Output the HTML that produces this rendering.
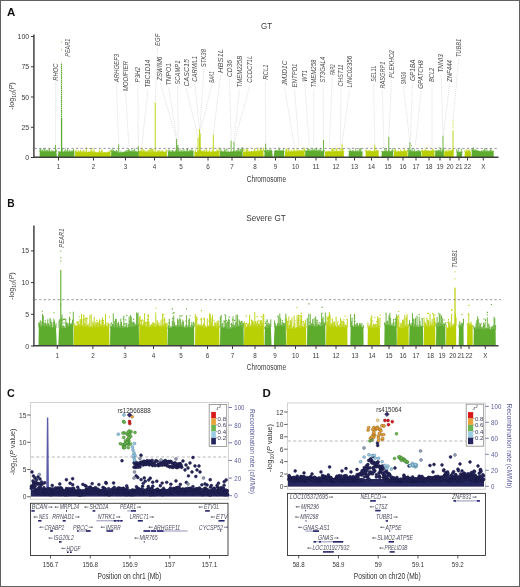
<!DOCTYPE html>
<html><head><meta charset="utf-8"><style>
html,body{margin:0;padding:0;background:#fff;}
body{width:520px;height:587px;overflow:hidden;position:relative;font-family:"Liberation Sans",sans-serif;}
.frame{position:absolute;left:0;top:0;width:518px;height:585px;border:1px solid #606060;pointer-events:none;}
svg{position:absolute;left:0;top:0;display:block;will-change:transform;}
</style></head><body>
<svg width="520" height="587" viewBox="0 0 520 587" font-family='"Liberation Sans", sans-serif'>
<rect x="0" y="0" width="520" height="587" fill="#fff"/>
<text x="6.9" y="16.3" font-size="11.5" fill="#111" font-weight="bold" textLength="8.3" lengthAdjust="spacingAndGlyphs">A</text>
<text x="266.6" y="29" font-size="9" fill="#3a3a3a" text-anchor="middle" textLength="11" lengthAdjust="spacingAndGlyphs">GT</text>
<line x1="55.4" y1="82.8" x2="55.6" y2="144.6" stroke="#c4c4c4" stroke-width="0.55" stroke-dasharray="1 1"/>
<line x1="116.5" y1="84.3" x2="118.7" y2="144" stroke="#c4c4c4" stroke-width="0.55" stroke-dasharray="1 1"/>
<line x1="125.6" y1="93.3" x2="129" y2="147" stroke="#c4c4c4" stroke-width="0.55" stroke-dasharray="1 1"/>
<line x1="137.8" y1="84.5" x2="138.3" y2="146" stroke="#c4c4c4" stroke-width="0.55" stroke-dasharray="1 1"/>
<line x1="148" y1="89.5" x2="141.6" y2="148" stroke="#c4c4c4" stroke-width="0.55" stroke-dasharray="1 1"/>
<line x1="157.5" y1="48" x2="155.2" y2="102" stroke="#c4c4c4" stroke-width="0.55" stroke-dasharray="1 1"/>
<line x1="160.3" y1="82.8" x2="176.4" y2="139" stroke="#c4c4c4" stroke-width="0.55" stroke-dasharray="1 1"/>
<line x1="168.8" y1="87.6" x2="177.8" y2="144.6" stroke="#c4c4c4" stroke-width="0.55" stroke-dasharray="1 1"/>
<line x1="177.5" y1="86.6" x2="178.3" y2="141" stroke="#c4c4c4" stroke-width="0.55" stroke-dasharray="1 1"/>
<line x1="186.3" y1="88.5" x2="198" y2="137.4" stroke="#c4c4c4" stroke-width="0.55" stroke-dasharray="1 1"/>
<line x1="194.8" y1="83.7" x2="199.4" y2="128.7" stroke="#c4c4c4" stroke-width="0.55" stroke-dasharray="1 1"/>
<line x1="203.8" y1="69.3" x2="200" y2="129" stroke="#c4c4c4" stroke-width="0.55" stroke-dasharray="1 1"/>
<line x1="211.9" y1="84.7" x2="199.8" y2="133" stroke="#c4c4c4" stroke-width="0.55" stroke-dasharray="1 1"/>
<line x1="220.6" y1="75" x2="213.3" y2="134.5" stroke="#c4c4c4" stroke-width="0.55" stroke-dasharray="1 1"/>
<line x1="229.5" y1="79" x2="231.1" y2="140.3" stroke="#c4c4c4" stroke-width="0.55" stroke-dasharray="1 1"/>
<line x1="239.4" y1="89.5" x2="234" y2="141.7" stroke="#c4c4c4" stroke-width="0.55" stroke-dasharray="1 1"/>
<line x1="250" y1="84.7" x2="234.5" y2="142" stroke="#c4c4c4" stroke-width="0.55" stroke-dasharray="1 1"/>
<line x1="265.4" y1="81.8" x2="265.7" y2="143.5" stroke="#c4c4c4" stroke-width="0.55" stroke-dasharray="1 1"/>
<line x1="284.6" y1="87.6" x2="294.3" y2="146" stroke="#c4c4c4" stroke-width="0.55" stroke-dasharray="1 1"/>
<line x1="294.6" y1="89.5" x2="298.9" y2="146" stroke="#c4c4c4" stroke-width="0.55" stroke-dasharray="1 1"/>
<line x1="304.8" y1="83.7" x2="309.3" y2="146" stroke="#c4c4c4" stroke-width="0.55" stroke-dasharray="1 1"/>
<line x1="313.8" y1="89.5" x2="313.7" y2="146" stroke="#c4c4c4" stroke-width="0.55" stroke-dasharray="1 1"/>
<line x1="323.2" y1="84.7" x2="323.4" y2="140" stroke="#c4c4c4" stroke-width="0.55" stroke-dasharray="1 1"/>
<line x1="332.3" y1="77" x2="329.3" y2="146" stroke="#c4c4c4" stroke-width="0.55" stroke-dasharray="1 1"/>
<line x1="341" y1="88.5" x2="340.4" y2="146" stroke="#c4c4c4" stroke-width="0.55" stroke-dasharray="1 1"/>
<line x1="349.6" y1="89.5" x2="342" y2="144" stroke="#c4c4c4" stroke-width="0.55" stroke-dasharray="1 1"/>
<line x1="373.7" y1="83.7" x2="374.8" y2="144.7" stroke="#c4c4c4" stroke-width="0.55" stroke-dasharray="1 1"/>
<line x1="382.3" y1="90.5" x2="384" y2="146" stroke="#c4c4c4" stroke-width="0.55" stroke-dasharray="1 1"/>
<line x1="391.5" y1="79.9" x2="388.8" y2="136.6" stroke="#c4c4c4" stroke-width="0.55" stroke-dasharray="1 1"/>
<line x1="403.5" y1="86.6" x2="409.9" y2="142" stroke="#c4c4c4" stroke-width="0.55" stroke-dasharray="1 1"/>
<line x1="412.5" y1="83" x2="410.3" y2="144" stroke="#c4c4c4" stroke-width="0.55" stroke-dasharray="1 1"/>
<line x1="421.3" y1="90.8" x2="415.3" y2="146" stroke="#c4c4c4" stroke-width="0.55" stroke-dasharray="1 1"/>
<line x1="432" y1="84.1" x2="432.1" y2="146" stroke="#c4c4c4" stroke-width="0.55" stroke-dasharray="1 1"/>
<line x1="441.2" y1="74.5" x2="443" y2="135.3" stroke="#c4c4c4" stroke-width="0.55" stroke-dasharray="1 1"/>
<line x1="449.6" y1="84.1" x2="443.3" y2="136" stroke="#c4c4c4" stroke-width="0.55" stroke-dasharray="1 1"/>
<line x1="458.8" y1="59.1" x2="453" y2="120.4" stroke="#c4c4c4" stroke-width="0.55" stroke-dasharray="1 1"/>
<text x="57.6" y="80.8" font-size="6.4" fill="#4a4a4a" font-style="italic" textLength="17.3" lengthAdjust="spacingAndGlyphs" transform="rotate(-90 57.6 80.8)">RHOC</text>
<text x="69.7" y="56.7" font-size="6.4" fill="#4a4a4a" font-style="italic" textLength="17.9" lengthAdjust="spacingAndGlyphs" transform="rotate(-90 69.7 56.7)">PEAR1</text>
<text x="118.7" y="82.3" font-size="6.4" fill="#4a4a4a" font-style="italic" textLength="28.5" lengthAdjust="spacingAndGlyphs" transform="rotate(-90 118.7 82.3)">ARHGEF3</text>
<text x="127.8" y="91.3" font-size="6.4" fill="#4a4a4a" font-style="italic" textLength="30.3" lengthAdjust="spacingAndGlyphs" transform="rotate(-90 127.8 91.3)">MODIFIER</text>
<text x="140" y="82.5" font-size="6.4" fill="#4a4a4a" font-style="italic" textLength="15.5" lengthAdjust="spacingAndGlyphs" transform="rotate(-90 140 82.5)">P3H2</text>
<text x="150.2" y="87.5" font-size="6.4" fill="#4a4a4a" font-style="italic" textLength="27.9" lengthAdjust="spacingAndGlyphs" transform="rotate(-90 150.2 87.5)">TBC1D14</text>
<text x="159.7" y="46" font-size="6.4" fill="#4a4a4a" font-style="italic" textLength="12.3" lengthAdjust="spacingAndGlyphs" transform="rotate(-90 159.7 46)">EGF</text>
<text x="162.5" y="80.8" font-size="6.4" fill="#4a4a4a" font-style="italic" textLength="24.1" lengthAdjust="spacingAndGlyphs" transform="rotate(-90 162.5 80.8)">ZSWIM6</text>
<text x="171" y="85.6" font-size="6.4" fill="#4a4a4a" font-style="italic" textLength="22.6" lengthAdjust="spacingAndGlyphs" transform="rotate(-90 171 85.6)">TNPO1</text>
<text x="179.7" y="84.6" font-size="6.4" fill="#4a4a4a" font-style="italic" textLength="24" lengthAdjust="spacingAndGlyphs" transform="rotate(-90 179.7 84.6)">SCAMP1</text>
<text x="188.5" y="86.5" font-size="6.4" fill="#4a4a4a" font-style="italic" textLength="27.3" lengthAdjust="spacingAndGlyphs" transform="rotate(-90 188.5 86.5)">CASC15</text>
<text x="197" y="81.7" font-size="6.4" fill="#4a4a4a" font-style="italic" textLength="25.9" lengthAdjust="spacingAndGlyphs" transform="rotate(-90 197 81.7)">CARMIL1</text>
<text x="206" y="67.3" font-size="6.4" fill="#4a4a4a" font-style="italic" textLength="18.3" lengthAdjust="spacingAndGlyphs" transform="rotate(-90 206 67.3)">STK38</text>
<text x="214.1" y="82.7" font-size="6.4" fill="#4a4a4a" font-style="italic" textLength="11.5" lengthAdjust="spacingAndGlyphs" transform="rotate(-90 214.1 82.7)">BAK1</text>
<text x="222.8" y="73" font-size="6.4" fill="#4a4a4a" font-style="italic" textLength="24" lengthAdjust="spacingAndGlyphs" transform="rotate(-90 222.8 73)">HBS1L</text>
<text x="231.7" y="77" font-size="6.4" fill="#4a4a4a" font-style="italic" textLength="17" lengthAdjust="spacingAndGlyphs" transform="rotate(-90 231.7 77)">CD36</text>
<text x="241.6" y="87.5" font-size="6.4" fill="#4a4a4a" font-style="italic" textLength="31.7" lengthAdjust="spacingAndGlyphs" transform="rotate(-90 241.6 87.5)">TMEM225B</text>
<text x="252.2" y="82.7" font-size="6.4" fill="#4a4a4a" font-style="italic" textLength="26.9" lengthAdjust="spacingAndGlyphs" transform="rotate(-90 252.2 82.7)">CCDC71L</text>
<text x="267.6" y="79.8" font-size="6.4" fill="#4a4a4a" font-style="italic" textLength="15.4" lengthAdjust="spacingAndGlyphs" transform="rotate(-90 267.6 79.8)">RCL1</text>
<text x="286.8" y="85.6" font-size="6.4" fill="#4a4a4a" font-style="italic" textLength="25" lengthAdjust="spacingAndGlyphs" transform="rotate(-90 286.8 85.6)">JMJD1C</text>
<text x="296.8" y="87.5" font-size="6.4" fill="#4a4a4a" font-style="italic" textLength="24" lengthAdjust="spacingAndGlyphs" transform="rotate(-90 296.8 87.5)">ENTPD1</text>
<text x="307" y="81.7" font-size="6.4" fill="#4a4a4a" font-style="italic" textLength="11.5" lengthAdjust="spacingAndGlyphs" transform="rotate(-90 307 81.7)">WT1</text>
<text x="316" y="87.5" font-size="6.4" fill="#4a4a4a" font-style="italic" textLength="27.9" lengthAdjust="spacingAndGlyphs" transform="rotate(-90 316 87.5)">TMEM258</text>
<text x="325.4" y="82.7" font-size="6.4" fill="#4a4a4a" font-style="italic" textLength="26" lengthAdjust="spacingAndGlyphs" transform="rotate(-90 325.4 82.7)">ST3GAL4</text>
<text x="334.5" y="75" font-size="6.4" fill="#4a4a4a" font-style="italic" textLength="10.6" lengthAdjust="spacingAndGlyphs" transform="rotate(-90 334.5 75)">FAR2</text>
<text x="343.2" y="86.5" font-size="6.4" fill="#4a4a4a" font-style="italic" textLength="22.1" lengthAdjust="spacingAndGlyphs" transform="rotate(-90 343.2 86.5)">CHST11</text>
<text x="351.8" y="87.5" font-size="6.4" fill="#4a4a4a" font-style="italic" textLength="31.7" lengthAdjust="spacingAndGlyphs" transform="rotate(-90 351.8 87.5)">LINC02356</text>
<text x="375.9" y="81.7" font-size="6.4" fill="#4a4a4a" font-style="italic" textLength="16.3" lengthAdjust="spacingAndGlyphs" transform="rotate(-90 375.9 81.7)">SEL1L</text>
<text x="384.5" y="88.5" font-size="6.4" fill="#4a4a4a" font-style="italic" textLength="27" lengthAdjust="spacingAndGlyphs" transform="rotate(-90 384.5 88.5)">RASGRP1</text>
<text x="393.7" y="77.9" font-size="6.4" fill="#4a4a4a" font-style="italic" textLength="27.9" lengthAdjust="spacingAndGlyphs" transform="rotate(-90 393.7 77.9)">PLEKHO2</text>
<text x="405.7" y="84.6" font-size="6.4" fill="#4a4a4a" font-style="italic" textLength="12.6" lengthAdjust="spacingAndGlyphs" transform="rotate(-90 405.7 84.6)">SMG6</text>
<text x="414.7" y="81" font-size="6.4" fill="#4a4a4a" font-style="italic" textLength="21.5" lengthAdjust="spacingAndGlyphs" transform="rotate(-90 414.7 81)">GP1BA</text>
<text x="423.5" y="88.8" font-size="6.4" fill="#4a4a4a" font-style="italic" textLength="28.4" lengthAdjust="spacingAndGlyphs" transform="rotate(-90 423.5 88.8)">GPATCH8</text>
<text x="434.2" y="82.1" font-size="6.4" fill="#4a4a4a" font-style="italic" textLength="14.4" lengthAdjust="spacingAndGlyphs" transform="rotate(-90 434.2 82.1)">BCL2</text>
<text x="443.4" y="72.5" font-size="6.4" fill="#4a4a4a" font-style="italic" textLength="18.3" lengthAdjust="spacingAndGlyphs" transform="rotate(-90 443.4 72.5)">TNNI3</text>
<text x="451.8" y="82.1" font-size="6.4" fill="#4a4a4a" font-style="italic" textLength="22.1" lengthAdjust="spacingAndGlyphs" transform="rotate(-90 451.8 82.1)">ZNF444</text>
<text x="461" y="57.1" font-size="6.4" fill="#4a4a4a" font-style="italic" textLength="18.3" lengthAdjust="spacingAndGlyphs" transform="rotate(-90 461 57.1)">TUBB1</text>
<polygon points="39.5,157.5 39.8,151.7 40.5,151.6 41.3,151.4 42,151.6 42.8,151.6 43.5,151.5 44.3,151.5 45,151.5 45.8,151.6 46.5,151.5 47.3,151.4 48,151.6 48.8,151.5 49.5,151.6 50.3,151.6 51,151.7 51.8,151.6 52.5,151.7 53.3,151.6 54,151.6 54.8,151.6 55.5,151.9 56.3,151.7 57,157.5 57.8,157.5 58.5,151.9 59.3,151.8 60,151.9 60.8,151.9 61.5,151.8 62.3,152 63,151.9 63.8,151.9 64.5,152 65.3,152 66,152 66.8,152 67.5,152.1 68.3,151.9 69,151.8 69.8,152.1 70.5,151.8 71.3,151.9 72,151.9 72.8,151.6 73.5,151.7 74.3,151.9 74.5,157.5" fill="#5dac2e"/>
<path stroke="#5dac2e" stroke-width="0.8" fill="none" d="M39.8 152.2V149.4M40.5 152.1V148.1M41.3 151.9V150.2M42 152.1V149.6M42.8 152.1V149.8M43.5 152V151.2M44.3 152V148.2M45 152V148.8M45.8 152.1V150.8M46.5 152V150.4M47.3 151.9V149.7M48 152.1V150M48.8 152V151.4M49.5 152.1V148.2M50.3 152.1V151.3M51.8 152.1V149.8M52.5 152.2V151.1M53.3 152.1V150.5M54 152.1V151.3M54.8 152.1V151.4M55.5 152.4V150.7M56.3 152.2V149.8M58.5 152.4V151.4M59.3 152.3V151.5M60 152.4V151.1M60.8 152.4V151.6M61.5 152.3V150.7M62.3 152.5V148.5M63.8 152.4V151M64.5 152.5V150.7M65.3 152.5V148.5M66 152.5V150.9M66.8 152.5V150.3M67.5 152.6V149.2M68.3 152.4V151.5M69 152.3V150.2M69.8 152.6V149.8M70.5 152.3V151.4M71.3 152.4V151M72 152.4V150M72.8 152.1V150.5M73.5 152.2V148.8M74.3 152.4V151.5"/>
<path fill="#5dac2e" d="M48.3 149.4h0.9v0.9h-0.9zM55.3 149.8h0.9v0.9h-0.9zM62.2 148.4h0.9v0.9h-0.9zM43 148.3h0.9v0.9h-0.9z"/>
<polygon points="75,157.5 75.3,151.5 76,151.7 76.8,151.9 77.5,152 78.3,151.9 79,152.1 79.8,152.2 80.5,152.4 81.3,152.5 82,152.5 82.8,152.5 83.5,152.5 84.3,152.5 85,152.3 85.8,152.3 86.5,152.1 87.3,152.2 88,152.1 88.8,152 89.5,152 90.3,151.8 91,151.9 91.8,152.2 92.5,152.1 93.3,152.2 94,152.6 94.8,152.4 95.5,152.5 96.3,152.5 97,152.7 97.8,152.7 98.5,152.7 99.3,152.7 100,152.8 100.8,152.9 101.5,152.8 102.3,153.1 103,153.1 103.8,153.3 104.5,152.8 105.3,152.7 106,152.6 106.8,152.5 107.5,152.4 108.3,152.2 109,152.1 109.8,152 110.5,151.8 110.8,157.5" fill="#b9d004"/>
<path stroke="#b9d004" stroke-width="0.8" fill="none" d="M75.3 152V151.1M76 152.2V149.6M76.8 152.4V151.2M77.5 152.5V151.9M78.3 152.4V150M79 152.6V151M79.8 152.7V151.4M80.5 152.9V149.8M81.3 153V151.7M82 153V151M82.8 153V151.9M83.5 153V150.4M84.3 153V152.1M85 152.8V150.2M85.8 152.8V151.4M86.5 152.6V148.6M87.3 152.7V152M88 152.6V151.6M88.8 152.5V151.6M89.5 152.5V151.6M90.3 152.3V151.4M91 152.4V148.4M91.8 152.7V149.6M92.5 152.6V151.6M93.3 152.7V150.8M94 153.1V149.3M94.8 152.9V151.4M95.5 153V152.1M96.3 153V151.9M97 153.2V152M97.8 153.2V152.6M98.5 153.2V152.1M99.3 153.2V149.6M100 153.3V150.8M100.8 153.4V152M101.5 153.3V149.9M102.3 153.6V149.9M103 153.6V152.2M103.8 153.8V152M104.5 153.3V152.1M105.3 153.2V152.3M106 153.1V152.4M106.8 153V152.3M107.5 152.9V151.9M108.3 152.7V151.9M109 152.6V151.1M109.8 152.5V150.5M110.5 152.3V150.9"/>
<path fill="#b9d004" d="M86 147.3h0.9v0.9h-0.9zM92.4 148h0.9v0.9h-0.9zM82 150.5h0.9v0.9h-0.9zM89.8 148.1h0.9v0.9h-0.9z"/>
<polygon points="111,157.5 111.3,150.8 112,151.2 112.8,151.3 113.5,151.6 114.3,151.7 115,151.6 115.8,151.8 116.5,152.1 117.3,152.3 118,152.6 118.8,152.6 119.5,152.8 120.3,152.9 121,152.8 121.8,152.8 122.5,152.5 123.3,152.4 124,152.1 124.8,151.9 125.5,152 126.3,151.9 127,151.7 127.8,151.6 128.6,151.5 129.3,151.3 130.1,151.5 130.8,151.4 131.6,151.5 132.3,151.6 133.1,151.7 133.8,151.8 134.6,151.9 135.3,151.9 136.1,152 136.8,151.9 137.6,152 138.3,152.2 138.5,157.5" fill="#5dac2e"/>
<path stroke="#5dac2e" stroke-width="0.8" fill="none" d="M111.3 151.3V149.4M112 151.7V150.8M112.8 151.8V147.8M113.5 152.1V150.1M114.3 152.2V150.9M115 152.1V150.9M115.8 152.3V151.1M116.5 152.6V150M117.3 152.8V150.6M118 153.1V151.8M118.8 153.1V152.6M119.5 153.3V152.6M120.3 153.4V152M121 153.3V152M121.8 153.3V151.5M122.5 153V151.9M123.3 152.9V152.1M124 152.6V151.7M124.8 152.4V151.4M125.5 152.5V150.7M126.3 152.4V151.4M127 152.2V151.2M127.8 152.1V150.1M128.6 152V149.2M129.3 151.8V149.2M130.1 152V150.9M130.8 151.9V151.1M131.6 152V151M132.3 152.1V149.9M133.1 152.2V151.2M133.8 152.3V149.9M134.6 152.4V148.4M135.3 152.4V151M136.1 152.5V150.9M136.8 152.4V151.4M137.6 152.5V151.7M138.3 152.7V150.9"/>
<path fill="#5dac2e" d="M119.7 150.5h0.9v0.9h-0.9zM126.3 150.1h0.9v0.9h-0.9zM131.2 149.4h0.9v0.9h-0.9z"/>
<polygon points="138.8,157.5 139.1,151 139.8,151.2 140.6,151.4 141.3,151.4 142.1,151.4 142.8,151.7 143.6,151.8 144.3,151.7 145.1,151.9 145.8,152 146.6,152.2 147.3,152 148.1,152.1 148.8,152.3 149.6,152.2 150.3,152.5 151.1,152.2 151.8,152.3 152.6,152.2 153.3,152.1 154.1,152.2 154.8,152.3 155.6,152.1 156.3,152.2 157.1,152.1 157.8,152.1 158.6,152.1 159.3,152.2 160.1,151.9 160.8,151.9 161.6,151.8 162.3,151.7 163.1,151.9 163.8,152 164.6,151.9 165.3,151.9 166.1,151.8 166.8,151.7 167,157.5" fill="#b9d004"/>
<path stroke="#b9d004" stroke-width="0.8" fill="none" d="M139.1 151.5V150.8M139.8 151.7V151.1M140.6 151.9V150.5M141.3 151.9V149.6M142.1 151.9V147.9M142.8 152.2V151.4M143.6 152.3V149.3M144.3 152.2V150.1M145.1 152.4V151.6M145.8 152.5V150.5M146.6 152.7V151.4M147.3 152.5V151.2M148.1 152.6V149.2M148.8 152.8V150.7M149.6 152.7V149.9M150.3 153V149M151.1 152.7V149M151.8 152.8V148.9M152.6 152.7V148.7M153.3 152.6V149.5M154.1 152.7V151.7M154.8 152.8V151.1M155.6 152.6V152M157.1 152.6V150.1M157.8 152.6V150.5M158.6 152.6V151.1M159.3 152.7V149.8M160.1 152.4V151.1M160.8 152.4V150.6M161.6 152.3V151.7M162.3 152.2V150.3M163.1 152.4V151.4M163.8 152.5V151.4M164.6 152.4V151.8M165.3 152.4V151.6M166.1 152.3V150.7M166.8 152.2V149.9"/>
<path fill="#b9d004" d="M155.1 148.3h0.9v0.9h-0.9zM165.4 149.3h0.9v0.9h-0.9zM161.6 150.2h0.9v0.9h-0.9z"/>
<polygon points="167.7,157.5 168,151.7 168.8,151.7 169.5,151.7 170.2,151.9 171,151.8 171.8,152 172.5,151.8 173.2,151.7 174,151.8 174.8,152 175.5,152 176.2,152.1 177,152.1 177.8,151.9 178.5,152.1 179.2,151.8 180,151.9 180.8,151.7 181.5,151.8 182.2,151.8 183,151.7 183.8,151.6 184.5,151.6 185.2,151.5 186,151.6 186.8,151.7 187.5,151.4 188.2,151.3 189,151.4 189.8,151.3 190.5,151.2 191.2,151.3 192,151.3 192.8,151.2 193.5,151 193.7,157.5" fill="#5dac2e"/>
<path stroke="#5dac2e" stroke-width="0.8" fill="none" d="M168 152.2V151.6M168.8 152.2V149.4M169.5 152.2V150.1M170.2 152.4V150.9M171 152.3V151.6M171.8 152.5V150.2M172.5 152.3V150.2M173.2 152.2V150.6M174 152.3V151.3M174.8 152.5V151.7M175.5 152.5V150.5M176.2 152.6V150.1M177 152.6V149.1M177.8 152.4V151M178.5 152.6V149.2M179.2 152.3V151.4M180 152.4V148.8M180.8 152.2V150.9M181.5 152.3V150.9M182.2 152.3V150M183 152.2V151.6M183.8 152.1V148.9M184.5 152.1V150.7M185.2 152V151.2M186 152.1V151.4M186.8 152.2V148.3M187.5 151.9V148.7M189 151.9V151M189.8 151.8V149.5M190.5 151.7V150.5M191.2 151.8V150M192 151.8V148.7M192.8 151.7V150.6M193.5 151.5V150.9"/>
<path fill="#5dac2e" d="M177.2 146.6h0.9v0.9h-0.9zM175.6 148.1h0.9v0.9h-0.9zM183.2 148.2h0.9v0.9h-0.9z"/>
<polygon points="194.3,157.5 194.6,152.3 195.4,152.1 196.1,152 196.9,151.9 197.6,151.9 198.4,151.8 199.1,151.8 199.9,151.7 200.6,151.9 201.4,151.7 202.1,151.7 202.9,151.6 203.6,151.7 204.4,151.8 205.1,151.9 205.9,151.8 206.6,151.9 207.4,152.1 208.1,151.9 208.9,151.9 209.6,152.4 210.4,152.3 211.1,152.1 211.9,152.1 212.6,152.1 213.4,152 214.1,151.9 214.9,151.7 215.6,151.6 216.4,151.3 217.1,151.3 217.9,151.2 218.6,151.1 219.4,150.9 219.6,157.5" fill="#b9d004"/>
<path stroke="#b9d004" stroke-width="0.8" fill="none" d="M194.6 152.8V151.9M195.4 152.6V149.8M196.9 152.4V151.7M197.6 152.4V149.7M198.4 152.3V150.9M199.1 152.3V149.5M199.9 152.2V151M200.6 152.4V150.4M201.4 152.2V150M202.1 152.2V151M202.9 152.1V150.8M203.6 152.2V151.6M204.4 152.3V150.6M205.1 152.4V150.6M205.9 152.3V151.2M206.6 152.4V149.7M207.4 152.6V151.8M208.1 152.4V150.7M208.9 152.4V151.5M209.6 152.9V149.3M210.4 152.8V151.6M211.1 152.6V150.7M212.6 152.6V149.6M213.4 152.5V151.5M214.1 152.4V151M214.9 152.2V151.5M215.6 152.1V151.5M216.4 151.8V151.1M217.1 151.8V148.8M217.9 151.7V150.6M218.6 151.6V150.6M219.4 151.4V147.5"/>
<path fill="#b9d004" d="M203.9 150h0.9v0.9h-0.9zM211.8 146.9h0.9v0.9h-0.9zM205.7 149.1h0.9v0.9h-0.9z"/>
<polygon points="219.7,157.5 220,151.7 220.8,151.9 221.5,151.9 222.2,151.6 223,151.9 223.8,152 224.5,151.9 225.2,151.9 226,152 226.8,151.9 227.5,152 228.2,152.1 229,152 229.8,151.9 230.5,152.1 231.2,152 232,152 232.8,151.7 233.5,152 234.2,151.8 235,151.9 235.8,151.8 236.5,151.7 237.2,151.7 238,151.6 238.8,151.6 239.5,151.7 240.2,151.6 241,151.5 241.8,151.5 242.5,151.3 242.7,157.5" fill="#5dac2e"/>
<path stroke="#5dac2e" stroke-width="0.8" fill="none" d="M220 152.2V151.4M220.8 152.4V148.4M221.5 152.4V150.7M222.2 152.1V150.9M223 152.4V151.5M223.8 152.5V150.8M224.5 152.4V149.5M225.2 152.4V149.5M226 152.5V151.5M226.8 152.4V149M227.5 152.5V151.8M228.2 152.6V150.8M229 152.5V151.5M229.8 152.4V151.6M230.5 152.6V151.5M231.2 152.5V151.4M232 152.5V151.7M232.8 152.2V151.1M233.5 152.5V150.4M234.2 152.3V150.3M235 152.4V151.5M235.8 152.3V150.8M236.5 152.2V150M237.2 152.2V150.2M238 152.1V148.1M238.8 152.1V148.2M239.5 152.2V151.2M240.2 152.1V149.3M241 152V148.6M241.8 152V148.3M242.5 151.8V148"/>
<path fill="#5dac2e" d="M226.5 148.5h0.9v0.9h-0.9zM241.6 147h0.9v0.9h-0.9z"/>
<polygon points="242.8,157.5 243.1,152.3 243.9,152.1 244.6,152.2 245.4,152.2 246.1,152.1 246.9,151.8 247.6,151.7 248.4,151.8 249.1,151.9 249.9,151.7 250.6,151.7 251.4,151.6 252.1,151.6 252.9,151.5 253.6,151.4 254.4,151.5 255.1,151.4 255.9,151.5 256.6,151.3 257.4,151.4 258.1,151.2 258.9,151.2 259.6,151 260.4,151 261.1,151.1 261.9,151 262.6,150.9 263.4,150.7 263.6,157.5" fill="#b9d004"/>
<path stroke="#b9d004" stroke-width="0.8" fill="none" d="M243.1 152.8V151.9M243.9 152.6V148.9M244.6 152.7V151.8M245.4 152.7V151.6M246.1 152.6V148.7M246.9 152.3V148.4M247.6 152.2V149.9M248.4 152.3V151.4M249.1 152.4V151.5M249.9 152.2V150.9M250.6 152.2V151.7M251.4 152.1V151M252.1 152.1V150.8M253.6 151.9V150.9M254.4 152V148M255.1 151.9V149.9M255.9 152V150.9M256.6 151.8V150.8M257.4 151.9V149.8M258.1 151.7V147.7M258.9 151.7V150.6M259.6 151.5V150.5M260.4 151.5V147.5M261.1 151.6V148.4M261.9 151.5V149.6M262.6 151.4V150.6M263.4 151.2V147.8"/>
<path fill="#b9d004" d="M243 149.6h0.9v0.9h-0.9zM247.6 149.4h0.9v0.9h-0.9z"/>
<polygon points="264.3,157.5 264.6,151.6 265.4,151.5 266.1,151.5 266.9,151.5 267.6,151.2 268.4,151.4 269.1,151.4 269.9,151.3 270.6,151.1 271.4,151.1 272.1,151.1 272.9,157.5 273.6,157.5 274.4,151.1 275.1,151.1 275.9,150.9 276.6,151 277.4,151 278.1,150.9 278.9,151 279.6,151 280.4,150.8 281.1,151 281.9,151.1 282.6,151 283.4,151.1 284.1,151.2 284.3,157.5" fill="#5dac2e"/>
<path stroke="#5dac2e" stroke-width="0.8" fill="none" d="M264.6 152.1V150.2M265.4 152V150.2M266.1 152V150.6M266.9 152V149.5M267.6 151.7V149.6M268.4 151.9V149.9M269.1 151.9V150.9M269.9 151.8V149.6M270.6 151.6V149.7M271.4 151.6V149.8M272.1 151.6V151M274.4 151.6V151M275.1 151.6V149.8M275.9 151.4V150.1M276.6 151.5V149.9M277.4 151.5V150.4M278.1 151.4V150.5M278.9 151.5V147.5M279.6 151.5V148.8M280.4 151.3V150.4M281.1 151.5V150.2M281.9 151.6V150.8M282.6 151.5V150.2M283.4 151.6V148.6M284.1 151.7V150.9"/>
<path fill="#5dac2e" d="M269 149.8h0.9v0.9h-0.9z"/>
<polygon points="284.8,157.5 285.1,151.9 285.9,151.8 286.6,151.9 287.4,151.7 288.1,151.7 288.9,151.8 289.6,151.6 290.4,151.6 291.1,151.6 291.9,151.7 292.6,151.6 293.4,151.4 294.1,151.6 294.9,151.3 295.6,151.3 296.4,151.3 297.1,151.5 297.9,151.3 298.6,151.2 299.4,151.3 300.1,151.2 300.9,151.4 301.6,151.1 302.4,151.2 303.1,151 303.9,151.3 304.6,151 304.8,157.5" fill="#b9d004"/>
<path stroke="#b9d004" stroke-width="0.8" fill="none" d="M285.1 152.4V151.4M285.9 152.3V149.3M286.6 152.4V148.4M287.4 152.2V151.5M288.1 152.2V148.8M288.9 152.3V148.7M289.6 152.1V151.3M291.1 152.1V149.9M291.9 152.2V151.1M293.4 151.9V150.9M294.1 152.1V148.1M294.9 151.8V150.7M295.6 151.8V150.7M296.4 151.8V151.1M297.1 152V148.2M297.9 151.8V149.8M298.6 151.7V150.8M299.4 151.8V150M300.1 151.7V150.8M300.9 151.9V150.1M301.6 151.6V150M302.4 151.7V151.1M303.1 151.5V147.6M303.9 151.8V150.2M304.6 151.5V147.9"/>
<path fill="#b9d004" d="M292.7 150.6h0.9v0.9h-0.9zM291.3 150.3h0.9v0.9h-0.9z"/>
<polygon points="305,157.5 305.3,151.2 306.1,151 306.8,151 307.6,150.9 308.3,151 309.1,150.9 309.8,150.9 310.6,150.9 311.3,150.9 312.1,150.8 312.8,150.8 313.6,150.8 314.3,150.7 315.1,150.9 315.8,150.8 316.6,151 317.3,151 318.1,151.1 318.8,151.2 319.6,151.1 320.3,151.4 321.1,151.6 321.8,151.6 322.6,151.6 323.3,151.4 324.1,151.7 324.2,157.5" fill="#5dac2e"/>
<path stroke="#5dac2e" stroke-width="0.8" fill="none" d="M305.3 151.7V150.1M306.1 151.5V150.6M306.8 151.5V150.7M307.6 151.4V148.5M308.3 151.5V148.5M309.1 151.4V150.6M309.8 151.4V148.8M310.6 151.4V150.4M311.3 151.4V150.2M312.1 151.3V148.4M312.8 151.3V149.9M313.6 151.3V149.7M314.3 151.2V148.5M315.1 151.4V150.7M315.8 151.3V149.1M316.6 151.5V147.5M317.3 151.5V150.6M318.1 151.6V149.6M318.8 151.7V149.9M319.6 151.6V149.7M320.3 151.9V147.9M321.1 152.1V150M321.8 152.1V151.2M322.6 152.1V151.2M324.1 152.2V149.9"/>
<path fill="#5dac2e" d="M312.2 148.1h0.9v0.9h-0.9zM322.4 150.5h0.9v0.9h-0.9z"/>
<polygon points="324.7,157.5 325,152.1 325.8,151.9 326.5,151.9 327.2,152 328,151.9 328.8,152 329.5,151.8 330.2,151.8 331,151.5 331.8,151.7 332.5,151.9 333.2,151.7 334,151.6 334.8,151.7 335.5,151.6 336.2,151.5 337,151.4 337.8,151.5 338.5,151.5 339.2,151.3 340,151.4 340.8,151.4 341.5,151.4 342.2,151.4 343,151.2 343.8,151.4 343.9,157.5" fill="#b9d004"/>
<path stroke="#b9d004" stroke-width="0.8" fill="none" d="M325 152.6V151.4M325.8 152.4V151.7M326.5 152.4V151.1M327.2 152.5V151.1M328 152.4V151.3M328.8 152.5V150.7M329.5 152.3V151.2M330.2 152.3V150.8M331 152V151.2M331.8 152.2V148.4M332.5 152.4V148.4M333.2 152.2V149.8M334 152.1V148.1M334.8 152.2V151M335.5 152.1V150.9M336.2 152V148.9M337 151.9V148M337.8 152V151M338.5 152V150.8M339.2 151.8V151.2M340 151.9V148M340.8 151.9V150.6M341.5 151.9V151.4M342.2 151.9V149.2M343 151.7V148.8M343.8 151.9V151.1"/>
<path fill="#b9d004" d="M341.4 148.6h0.9v0.9h-0.9zM337 148h0.9v0.9h-0.9z"/>
<polygon points="348.6,157.5 348.9,151.1 349.7,151.3 350.4,151.1 351.2,151.2 351.9,151.3 352.7,151.2 353.4,151.3 354.2,151.7 354.9,151.4 355.7,151.6 356.4,151.4 357.2,151.3 357.9,151.6 358.7,151.6 359.4,151.7 360.2,151.7 360.9,151.7 361.7,151.7 362.4,151.9 362.6,157.5" fill="#5dac2e"/>
<path stroke="#5dac2e" stroke-width="0.8" fill="none" d="M348.9 151.6V150.7M349.7 151.8V150.9M350.4 151.6V149.5M351.2 151.7V150.9M351.9 151.8V151.1M352.7 151.7V150M353.4 151.8V150.4M354.2 152.2V151.5M354.9 151.9V151M355.7 152.1V148.1M356.4 151.9V151.1M357.2 151.8V150.8M357.9 152.1V149.9M358.7 152.1V151.3M359.4 152.2V148.7M360.2 152.2V148.2M360.9 152.2V148.2M361.7 152.2V151.1M362.4 152.4V151.8"/>
<path fill="#5dac2e" d="M349.5 148.7h0.9v0.9h-0.9z"/>
<polygon points="365.5,157.5 365.8,151.6 366.6,151.2 367.3,151.1 368.1,151.3 368.8,151.2 369.6,151.5 370.3,151.3 371.1,151.4 371.8,151.4 372.6,151.2 373.3,151.4 374.1,151.3 374.8,151.5 375.6,151.3 376.3,151.3 377.1,151.3 377.8,151.3 378.6,151.1 378.8,157.5" fill="#b9d004"/>
<path stroke="#b9d004" stroke-width="0.8" fill="none" d="M365.8 152.1V149.9M366.6 151.7V149.7M367.3 151.6V150.9M368.1 151.8V150.9M368.8 151.7V149.8M369.6 152V151M370.3 151.8V149.9M371.1 151.9V150.8M371.8 151.9V151M372.6 151.7V151M373.3 151.9V150.7M374.1 151.8V150.8M374.8 152V148.3M376.3 151.8V149.6M377.1 151.8V151.1M377.8 151.8V150.1M378.6 151.6V150.6"/>
<path fill="#b9d004" d="M376.5 150.2h0.9v0.9h-0.9z"/>
<polygon points="381.5,157.5 381.8,151.6 382.6,151.4 383.3,151.4 384.1,151.4 384.8,151.5 385.6,151.5 386.3,151.5 387.1,151.5 387.8,151.6 388.6,151.6 389.3,151.4 390.1,151.5 390.8,151.4 391.6,151.5 392.3,151.5 393.1,151.5 393.2,157.5" fill="#5dac2e"/>
<path stroke="#5dac2e" stroke-width="0.8" fill="none" d="M381.8 152.1V150.8M382.6 151.9V151.3M383.3 151.9V151.2M384.1 151.9V151M384.8 152V148.1M385.6 152V150.4M386.3 152V148M387.1 152V151.5M387.8 152.1V151.3M388.6 152.1V149.9M389.3 151.9V150.4M390.1 152V151.3M390.8 151.9V151.1M391.6 152V150.4M392.3 152V148.1M393.1 152V150.3"/>
<path fill="#5dac2e" d="M382.9 147.2h0.9v0.9h-0.9z"/>
<polygon points="393.7,157.5 394,152 394.8,152.2 395.5,152.1 396.2,152 397,152 397.8,152 398.5,151.7 399.2,151.8 400,151.7 400.8,151.7 401.5,151.6 402.2,151.6 403,151.5 403.8,151.4 404.5,151.4 405.2,151.4 406,151.4 406.8,151.3 407.5,151.2 407.7,157.5" fill="#b9d004"/>
<path stroke="#b9d004" stroke-width="0.8" fill="none" d="M394 152.5V151.1M394.8 152.7V148.7M395.5 152.6V149.3M396.2 152.5V150.4M397 152.5V151.6M397.8 152.5V151M398.5 152.2V150.5M399.2 152.3V151.3M400 152.2V151.3M400.8 152.2V149.4M401.5 152.1V150.8M402.2 152.1V151.2M403 152V151.3M403.8 151.9V151.2M404.5 151.9V148.2M405.2 151.9V150.5M406 151.9V150.4M406.8 151.8V150.4M407.5 151.7V150.2"/>
<path fill="#b9d004" d="M403 150.5h0.9v0.9h-0.9z"/>
<polygon points="408,157.5 408.3,151.4 409.1,151.4 409.8,151.4 410.6,151.5 411.3,151.4 412.1,151.5 412.8,151.4 413.6,151.5 414.3,151.7 415.1,151.4 415.8,151.5 416.6,151.6 417.3,151.6 418.1,151.6 418.8,151.3 419.6,151.5 420.3,151.7 421.1,151.5 421.2,157.5" fill="#5dac2e"/>
<path stroke="#5dac2e" stroke-width="0.8" fill="none" d="M408.3 151.9V148M409.1 151.9V149.3M409.8 151.9V150.9M410.6 152V150.1M411.3 151.9V150.6M412.1 152V148M412.8 151.9V150.6M413.6 152V151.3M414.3 152.2V148.7M415.1 151.9V150.9M416.6 152.1V150.7M417.3 152.1V151M418.1 152.1V149.6M418.8 151.8V150.5M419.6 152V150.5M420.3 152.2V151.3M421.1 152V151.1"/>
<path fill="#5dac2e" d="M411.1 145.2h0.9v0.9h-0.9z"/>
<polygon points="421.4,157.5 421.7,151.1 422.4,151 423.2,151.1 423.9,151.1 424.7,150.9 425.4,151 426.2,151.1 426.9,150.9 427.7,151 428.4,151 429.2,150.9 429.9,150.9 430.7,151 431.4,150.9 432.2,150.6 432.9,150.9 433.7,150.8 434.4,150.7 434.6,157.5" fill="#b9d004"/>
<path stroke="#b9d004" stroke-width="0.8" fill="none" d="M421.7 151.6V149.8M422.4 151.5V149.8M423.2 151.6V150.5M423.9 151.6V150.6M424.7 151.4V150M425.4 151.5V148.9M426.2 151.6V150M426.9 151.4V150.3M427.7 151.5V150.5M428.4 151.5V150M429.2 151.4V150.8M429.9 151.4V150.5M430.7 151.5V150.6M431.4 151.4V150.6M432.2 151.1V149M432.9 151.4V148.5M433.7 151.3V150.4M434.4 151.2V150.2"/>
<path fill="#b9d004" d="M426.1 147.1h0.9v0.9h-0.9z"/>
<polygon points="435,157.5 435.3,151.3 436.1,151.3 436.8,151.3 437.6,151.3 438.3,151.3 439.1,151.3 439.8,151.2 440.6,151.3 441.3,151.4 442.1,151.3 442.8,151.2 443.6,151.2 443.8,157.5" fill="#5dac2e"/>
<path stroke="#5dac2e" stroke-width="0.8" fill="none" d="M435.3 151.8V151.1M436.1 151.8V150M436.8 151.8V150.3M437.6 151.8V150.7M438.3 151.8V149.5M439.1 151.8V149.9M439.8 151.7V149.9M440.6 151.8V147.8M442.1 151.8V149.4M442.8 151.7V149.6M443.6 151.7V147.8"/>
<path fill="#5dac2e" d="M438.6 146.9h0.9v0.9h-0.9z"/>
<polygon points="444,157.5 444.3,151.8 445.1,151.8 445.8,151.8 446.6,151.8 447.3,151.7 448.1,151.5 448.8,151.4 449.6,151.3 450.3,151.2 451.1,151.1 451.8,151.1 452.6,151.1 453.3,151.1 453.5,157.5" fill="#b9d004"/>
<path stroke="#b9d004" stroke-width="0.8" fill="none" d="M444.3 152.3V151.5M445.1 152.3V150.4M445.8 152.3V151.4M446.6 152.3V150.5M447.3 152.2V151.5M448.1 152V149.4M448.8 151.9V151.2M449.6 151.8V149.6M450.3 151.7V150.9M451.1 151.6V149.9M451.8 151.6V150.2M452.6 151.6V149M453.3 151.6V149.4"/>
<path fill="#b9d004" d="M445.8 149.7h0.9v0.9h-0.9z"/>
<polygon points="456.5,157.5 456.8,152.3 457.6,152.2 458.3,152.2 459.1,152.2 459.8,152.1 460.6,152.2 461.3,152.1 462.1,152.1 462.2,157.5" fill="#5dac2e"/>
<path stroke="#5dac2e" stroke-width="0.8" fill="none" d="M456.8 152.8V148.8M457.6 152.7V151.3M458.3 152.7V149.3M459.1 152.7V152M459.8 152.6V151.3M460.6 152.7V151.8M461.3 152.6V148.6M462.1 152.6V151.5"/>
<path fill="#5dac2e" d=""/>
<polygon points="464.5,157.5 464.8,151.7 465.6,151.8 466.3,151.5 467.1,151.5 467.8,151.5 468.6,151.3 469.3,151.3 470.1,151.4 470.8,151.2 471,157.5" fill="#b9d004"/>
<path stroke="#b9d004" stroke-width="0.8" fill="none" d="M464.8 152.2V150.3M465.6 152.3V151.5M466.3 152V149M467.1 152V151.3M467.8 152V150M468.6 151.8V149.5M469.3 151.8V149.7M470.8 151.7V150.9"/>
<path fill="#b9d004" d=""/>
<polygon points="471.5,157.5 471.8,150.2 472.6,150.2 473.3,150.5 474.1,150.5 474.8,150.5 475.6,150.8 476.3,150.8 477.1,150.9 477.8,151.1 478.6,151 479.3,151.2 480.1,151.5 480.8,151.4 481.6,151.6 482.3,151.7 483.1,151.7 483.8,151.7 484.6,151.5 485.3,151.7 486.1,151.5 486.8,151.6 487.6,151.5 488.3,151.6 489.1,151.6 489.8,151.6 490.6,151.4 491.3,151.4 492.1,151.2 492.8,151.3 493.6,151.4 493.8,157.5" fill="#5dac2e"/>
<path stroke="#5dac2e" stroke-width="0.8" fill="none" d="M471.8 150.7V148.5M472.6 150.7V149.1M473.3 151V147.1M474.1 151V149.5M474.8 151V150.1M475.6 151.3V149.2M476.3 151.3V150.1M477.1 151.4V150.3M477.8 151.6V151M478.6 151.5V150.6M479.3 151.7V150.9M480.1 152V151.3M480.8 151.9V150.9M481.6 152.1V150.3M482.3 152.2V151.2M483.1 152.2V149.9M483.8 152.2V149.9M484.6 152V148.3M485.3 152.2V150.5M486.1 152V148M486.8 152.1V151.3M487.6 152V150.3M488.3 152.1V151.4M489.1 152.1V150.5M489.8 152.1V150.5M490.6 151.9V148M491.3 151.9V150M492.8 151.8V150.2M493.6 151.9V151.2"/>
<path fill="#5dac2e" d="M477.5 150.2h0.9v0.9h-0.9zM490.4 148.1h0.9v0.9h-0.9z"/>
<g fill="#5dac2e"><rect x="61.05" y="121.2" width="0.9" height="36.3"/><circle cx="61.5" cy="41.95" r="0.5"/><circle cx="61.5" cy="49.81" r="0.5"/><circle cx="61.5" cy="63.12" r="0.5"/><circle cx="61.5" cy="67.96" r="0.5"/><circle cx="61.5" cy="72.8" r="0.5"/><circle cx="61.5" cy="77.64" r="0.5"/><circle cx="61.5" cy="82.48" r="0.5"/><circle cx="61.5" cy="87.32" r="0.5"/><circle cx="61.5" cy="92.16" r="0.5"/><circle cx="61.5" cy="97" r="0.5"/><circle cx="61.5" cy="101.84" r="0.5"/><circle cx="61.5" cy="106.68" r="0.5"/><circle cx="61.5" cy="111.52" r="0.5"/><circle cx="61.5" cy="116.36" r="0.5"/></g>
<g fill="#5dac2e"><rect x="55.15" y="144.79" width="0.9" height="12.71"/></g>
<g fill="#5dac2e"><rect x="118.25" y="144.19" width="0.9" height="13.31"/></g>
<g fill="#5dac2e"><rect x="137.85" y="146" width="0.9" height="11.49"/></g>
<g fill="#b9d004"><rect x="154.75" y="102.44" width="0.9" height="55.05"/></g>
<g fill="#5dac2e"><rect x="175.95" y="138.99" width="0.9" height="18.51"/></g>
<g fill="#5dac2e"><rect x="177.35" y="144.79" width="0.9" height="12.71"/></g>
<g fill="#b9d004"><rect x="197.55" y="137.53" width="0.9" height="19.96"/></g>
<g fill="#b9d004"><rect x="198.95" y="129.06" width="0.9" height="28.43"/></g>
<g fill="#b9d004"><rect x="199.75" y="133.3" width="0.9" height="24.2"/></g>
<g fill="#b9d004"><rect x="212.85" y="134.51" width="0.9" height="22.99"/></g>
<g fill="#5dac2e"><rect x="230.65" y="140.56" width="0.9" height="16.94"/></g>
<g fill="#5dac2e"><rect x="233.55" y="141.77" width="0.9" height="15.73"/></g>
<g fill="#5dac2e"><rect x="265.25" y="143.59" width="0.9" height="13.91"/></g>
<g fill="#5dac2e"><rect x="322.95" y="139.96" width="0.9" height="17.54"/></g>
<g fill="#b9d004"><rect x="341.55" y="144.19" width="0.9" height="13.31"/></g>
<g fill="#b9d004"><rect x="374.35" y="144.79" width="0.9" height="12.71"/></g>
<g fill="#5dac2e"><rect x="388.35" y="136.93" width="0.9" height="20.57"/></g>
<g fill="#5dac2e"><rect x="409.45" y="142.38" width="0.9" height="15.12"/></g>
<g fill="#5dac2e"><rect x="442.55" y="135.72" width="0.9" height="21.78"/></g>
<g fill="#b9d004"><rect x="452.55" y="130.28" width="0.9" height="27.22"/><circle cx="453" cy="120.59" r="0.5"/><circle cx="453" cy="122.41" r="0.5"/><circle cx="453" cy="124.22" r="0.5"/><circle cx="453" cy="126.04" r="0.5"/><circle cx="453" cy="127.86" r="0.5"/></g>
<g fill="#5dac2e"><rect x="60.9" y="64" width="1.2" height="1.5"/><rect x="60.9" y="66" width="1.2" height="1.5"/><rect x="60.9" y="68" width="1.2" height="1.5"/><rect x="60.9" y="70" width="1.2" height="1.5"/><rect x="60.9" y="72" width="1.2" height="1.5"/><rect x="60.9" y="74" width="1.2" height="1.5"/><rect x="60.9" y="76" width="1.2" height="1.5"/><rect x="60.9" y="78" width="1.2" height="1.5"/><rect x="60.9" y="80" width="1.2" height="1.5"/><rect x="60.9" y="82" width="1.2" height="1.5"/><rect x="60.9" y="84" width="1.2" height="1.5"/><rect x="60.9" y="86" width="1.2" height="1.5"/><rect x="60.9" y="88" width="1.2" height="1.5"/><rect x="60.9" y="90" width="1.2" height="1.5"/><rect x="60.9" y="92" width="1.2" height="1.5"/><rect x="60.9" y="94" width="1.2" height="1.5"/><rect x="60.9" y="96" width="1.2" height="1.5"/><rect x="60.9" y="98" width="1.2" height="1.5"/><rect x="60.9" y="100" width="1.2" height="1.5"/><rect x="60.9" y="102" width="1.2" height="1.5"/><rect x="60.9" y="104" width="1.2" height="1.5"/><rect x="60.9" y="106" width="1.2" height="1.5"/><rect x="60.9" y="108" width="1.2" height="1.5"/><rect x="60.9" y="110" width="1.2" height="1.5"/><rect x="60.9" y="112" width="1.2" height="1.5"/><rect x="60.9" y="114" width="1.2" height="1.5"/><rect x="60.9" y="116" width="1.2" height="1.5"/></g>
<rect x="60.9" y="118" width="1.3" height="39" fill="#5dac2e"/>
<line x1="34.5" y1="148.4" x2="499" y2="148.4" stroke="#8a8a9a" stroke-width="0.9" stroke-dasharray="2.3 2.3"/>
<line x1="33.9" y1="34.5" x2="33.9" y2="157.5" stroke="#505050" stroke-width="1.6"/>
<line x1="33.1" y1="157.2" x2="498.5" y2="157.2" stroke="#404040" stroke-width="1.5"/>
<line x1="30.9" y1="157.5" x2="33.9" y2="157.5" stroke="#3a3a3a" stroke-width="1"/>
<text x="29.1" y="160" font-size="7.2" fill="#3a3a3a" text-anchor="end" textLength="3.85" lengthAdjust="spacingAndGlyphs">0</text>
<line x1="30.9" y1="127.25" x2="33.9" y2="127.25" stroke="#3a3a3a" stroke-width="1"/>
<text x="29.1" y="129.75" font-size="7.2" fill="#3a3a3a" text-anchor="end" textLength="7.7" lengthAdjust="spacingAndGlyphs">25</text>
<line x1="30.9" y1="97" x2="33.9" y2="97" stroke="#3a3a3a" stroke-width="1"/>
<text x="29.1" y="99.5" font-size="7.2" fill="#3a3a3a" text-anchor="end" textLength="7.7" lengthAdjust="spacingAndGlyphs">50</text>
<line x1="30.9" y1="66.75" x2="33.9" y2="66.75" stroke="#3a3a3a" stroke-width="1"/>
<text x="29.1" y="69.25" font-size="7.2" fill="#3a3a3a" text-anchor="end" textLength="7.7" lengthAdjust="spacingAndGlyphs">75</text>
<line x1="30.9" y1="36.5" x2="33.9" y2="36.5" stroke="#3a3a3a" stroke-width="1"/>
<text x="29.1" y="39" font-size="7.2" fill="#3a3a3a" text-anchor="end" textLength="11.55" lengthAdjust="spacingAndGlyphs">100</text>
<line x1="58.5" y1="157.5" x2="58.5" y2="160.5" stroke="#3a3a3a" stroke-width="1"/>
<text x="58.5" y="168.6" font-size="6.8" fill="#3a3a3a" text-anchor="middle" textLength="3.5" lengthAdjust="spacingAndGlyphs">1</text>
<line x1="93.5" y1="157.5" x2="93.5" y2="160.5" stroke="#3a3a3a" stroke-width="1"/>
<text x="93.5" y="168.6" font-size="6.8" fill="#3a3a3a" text-anchor="middle" textLength="3.5" lengthAdjust="spacingAndGlyphs">2</text>
<line x1="125.5" y1="157.5" x2="125.5" y2="160.5" stroke="#3a3a3a" stroke-width="1"/>
<text x="125.5" y="168.6" font-size="6.8" fill="#3a3a3a" text-anchor="middle" textLength="3.5" lengthAdjust="spacingAndGlyphs">3</text>
<line x1="154.5" y1="157.5" x2="154.5" y2="160.5" stroke="#3a3a3a" stroke-width="1"/>
<text x="154.5" y="168.6" font-size="6.8" fill="#3a3a3a" text-anchor="middle" textLength="3.5" lengthAdjust="spacingAndGlyphs">4</text>
<line x1="181" y1="157.5" x2="181" y2="160.5" stroke="#3a3a3a" stroke-width="1"/>
<text x="181" y="168.6" font-size="6.8" fill="#3a3a3a" text-anchor="middle" textLength="3.5" lengthAdjust="spacingAndGlyphs">5</text>
<line x1="208" y1="157.5" x2="208" y2="160.5" stroke="#3a3a3a" stroke-width="1"/>
<text x="208" y="168.6" font-size="6.8" fill="#3a3a3a" text-anchor="middle" textLength="3.5" lengthAdjust="spacingAndGlyphs">6</text>
<line x1="232" y1="157.5" x2="232" y2="160.5" stroke="#3a3a3a" stroke-width="1"/>
<text x="232" y="168.6" font-size="6.8" fill="#3a3a3a" text-anchor="middle" textLength="3.5" lengthAdjust="spacingAndGlyphs">7</text>
<line x1="255" y1="157.5" x2="255" y2="160.5" stroke="#3a3a3a" stroke-width="1"/>
<text x="255" y="168.6" font-size="6.8" fill="#3a3a3a" text-anchor="middle" textLength="3.5" lengthAdjust="spacingAndGlyphs">8</text>
<line x1="275.5" y1="157.5" x2="275.5" y2="160.5" stroke="#3a3a3a" stroke-width="1"/>
<text x="275.5" y="168.6" font-size="6.8" fill="#3a3a3a" text-anchor="middle" textLength="3.5" lengthAdjust="spacingAndGlyphs">9</text>
<line x1="295.5" y1="157.5" x2="295.5" y2="160.5" stroke="#3a3a3a" stroke-width="1"/>
<text x="295.5" y="168.6" font-size="6.8" fill="#3a3a3a" text-anchor="middle" textLength="7" lengthAdjust="spacingAndGlyphs">10</text>
<line x1="316" y1="157.5" x2="316" y2="160.5" stroke="#3a3a3a" stroke-width="1"/>
<text x="316" y="168.6" font-size="6.8" fill="#3a3a3a" text-anchor="middle" textLength="7" lengthAdjust="spacingAndGlyphs">11</text>
<line x1="336" y1="157.5" x2="336" y2="160.5" stroke="#3a3a3a" stroke-width="1"/>
<text x="336" y="168.6" font-size="6.8" fill="#3a3a3a" text-anchor="middle" textLength="7" lengthAdjust="spacingAndGlyphs">12</text>
<line x1="354.5" y1="157.5" x2="354.5" y2="160.5" stroke="#3a3a3a" stroke-width="1"/>
<text x="354.5" y="168.6" font-size="6.8" fill="#3a3a3a" text-anchor="middle" textLength="7" lengthAdjust="spacingAndGlyphs">13</text>
<line x1="371.5" y1="157.5" x2="371.5" y2="160.5" stroke="#3a3a3a" stroke-width="1"/>
<text x="371.5" y="168.6" font-size="6.8" fill="#3a3a3a" text-anchor="middle" textLength="7" lengthAdjust="spacingAndGlyphs">14</text>
<line x1="388" y1="157.5" x2="388" y2="160.5" stroke="#3a3a3a" stroke-width="1"/>
<text x="388" y="168.6" font-size="6.8" fill="#3a3a3a" text-anchor="middle" textLength="7" lengthAdjust="spacingAndGlyphs">15</text>
<line x1="403" y1="157.5" x2="403" y2="160.5" stroke="#3a3a3a" stroke-width="1"/>
<text x="403" y="168.6" font-size="6.8" fill="#3a3a3a" text-anchor="middle" textLength="7" lengthAdjust="spacingAndGlyphs">16</text>
<line x1="416" y1="157.5" x2="416" y2="160.5" stroke="#3a3a3a" stroke-width="1"/>
<text x="416" y="168.6" font-size="6.8" fill="#3a3a3a" text-anchor="middle" textLength="7" lengthAdjust="spacingAndGlyphs">17</text>
<line x1="429" y1="157.5" x2="429" y2="160.5" stroke="#3a3a3a" stroke-width="1"/>
<text x="429" y="168.6" font-size="6.8" fill="#3a3a3a" text-anchor="middle" textLength="7" lengthAdjust="spacingAndGlyphs">18</text>
<line x1="440" y1="157.5" x2="440" y2="160.5" stroke="#3a3a3a" stroke-width="1"/>
<text x="440" y="168.6" font-size="6.8" fill="#3a3a3a" text-anchor="middle" textLength="7" lengthAdjust="spacingAndGlyphs">19</text>
<line x1="450" y1="157.5" x2="450" y2="160.5" stroke="#3a3a3a" stroke-width="1"/>
<text x="450" y="168.6" font-size="6.8" fill="#3a3a3a" text-anchor="middle" textLength="7" lengthAdjust="spacingAndGlyphs">20</text>
<line x1="459" y1="157.5" x2="459" y2="160.5" stroke="#3a3a3a" stroke-width="1"/>
<text x="459" y="168.6" font-size="6.8" fill="#3a3a3a" text-anchor="middle" textLength="7" lengthAdjust="spacingAndGlyphs">21</text>
<line x1="467.5" y1="157.5" x2="467.5" y2="160.5" stroke="#3a3a3a" stroke-width="1"/>
<text x="467.5" y="168.6" font-size="6.8" fill="#3a3a3a" text-anchor="middle" textLength="7" lengthAdjust="spacingAndGlyphs">22</text>
<line x1="483.3" y1="157.5" x2="483.3" y2="160.5" stroke="#3a3a3a" stroke-width="1"/>
<text x="483.3" y="168.6" font-size="6.8" fill="#3a3a3a" text-anchor="middle" textLength="4.2" lengthAdjust="spacingAndGlyphs">X</text>
<text x="266.5" y="181.6" font-size="8.4" fill="#3a3a3a" text-anchor="middle" textLength="39.5" lengthAdjust="spacingAndGlyphs">Chromosome</text>
<text x="12" y="96" font-size="7" fill="#3a3a3a" text-anchor="middle" transform="rotate(-90 12 96) translate(0 2.4)" textLength="27.5" lengthAdjust="spacingAndGlyphs">-log<tspan font-size="5" dy="1.5">10</tspan><tspan dy="-1.5">(</tspan><tspan font-style="italic">P</tspan>)</text>
<text x="7.3" y="207.3" font-size="11.5" fill="#111" font-weight="bold" textLength="7.4" lengthAdjust="spacingAndGlyphs">B</text>
<text x="266" y="221.2" font-size="9" fill="#3a3a3a" text-anchor="middle" textLength="39.5" lengthAdjust="spacingAndGlyphs">Severe GT</text>
<polygon points="38.5,346 38.8,326.8 39.5,325.5 40.3,326.3 41,326.5 41.8,326.2 42.5,326.1 43.3,325.8 44,326.2 44.8,326.3 45.5,326.2 46.3,325.6 47,325.9 47.8,326.8 48.5,326.8 49.3,326.4 50,327 50.8,327 51.5,327.4 52.3,327.2 53,327 53.8,326.8 54.5,327.4 55.3,326.5 56,327.7 56.8,346 57.5,346 58.3,346 59,328 59.8,329.2 60.5,327.9 61.3,327.8 62,326.9 62.8,328.6 63.5,327 64.3,328.1 65,327.5 65.8,328.8 66.5,327.2 67.3,327.1 68,326.3 68.8,326.3 69.5,326.6 70.3,325.3 71,325.1 71.8,324.9 72.5,324.4 73.3,324.1 73.5,346" fill="#5dac2e"/>
<path stroke="#5dac2e" stroke-width="0.9" fill="none" d="M38.8 327.3V322.5M39.5 326V322.5M40.3 326.8V320.2M41 327V325M41.8 326.7V321.3M42.5 326.6V313.8M43.3 326.3V315.6M44 326.7V322.5M44.8 326.8V323M45.5 326.7V322.5M46.3 326.1V324.6M47 326.4V323.1M47.8 327.3V319.2M48.5 327.3V323.4M49.3 326.9V325M50 327.5V318M50.8 327.5V319.4M51.5 327.9V323.9M53 327.5V322.4M53.8 327.3V318.5M54.5 327.9V320.7M55.3 327V325.1M56 328.2V322.9M59 328.5V320.5M59.8 329.7V319.2M60.5 328.4V325.1M61.3 328.3V317.6M62 327.4V314.5M62.8 329.1V325.9M63.5 327.5V325.5M64.3 328.6V326.3M65.8 329.3V318.4M66.5 327.7V322.4M67.3 327.6V322.9M68 326.8V323.5M68.8 326.8V325.2M69.5 327.1V316.8M70.3 325.8V323.4M71 325.6V323.7M71.8 325.4V322.7M72.5 324.9V319.7M73.3 324.6V311.7"/>
<path fill="#5dac2e" d="M69.5 319h1.1v1.1h-1.1zM68.3 323.5h1.1v1.1h-1.1zM53.4 312.2h1.1v1.1h-1.1zM62 319.7h1.1v1.1h-1.1zM44.7 320.3h1.1v1.1h-1.1zM41.8 310.7h1.1v1.1h-1.1zM62.9 318.8h1.1v1.1h-1.1zM69.5 312.5h1.1v1.1h-1.1zM64 318.8h1.1v1.1h-1.1zM60 304.2h1.1v1.1h-1.1zM63.4 322.3h1.1v1.1h-1.1zM50.9 322.3h1.1v1.1h-1.1z"/>
<polygon points="73.7,346 74,327.1 74.8,326.3 75.5,326.7 76.2,326.5 77,326.5 77.8,326.8 78.5,326.6 79.2,326.6 80,325.8 80.8,326.1 81.5,326.3 82.2,325.8 83,325.8 83.8,327.1 84.5,325.5 85.2,326.5 86,326.7 86.8,326.3 87.5,327 88.2,327.4 89,326 89.8,327.6 90.5,327 91.2,326.5 92,327.5 92.8,326.9 93.5,326.7 94.2,325.6 95,327.2 95.8,326.8 96.5,326.4 97.2,326.7 98,327.3 98.8,326.5 99.5,326.7 100.2,326.5 101,326.1 101.8,326.2 102.5,326.5 103.2,326.5 104,327.2 104.8,326.7 105.5,326.5 106.2,326.8 107,326.5 107.8,327 108.5,325.8 109.2,325.5 109.5,346" fill="#b9d004"/>
<path stroke="#b9d004" stroke-width="0.9" fill="none" d="M74 327.6V324.6M74.8 326.8V323.3M75.5 327.2V325.5M76.2 327V325M77 327V325.3M77.8 327.3V321.2M78.5 327.1V323.8M79.2 327.1V324M80 326.3V319M80.8 326.6V319.2M81.5 326.8V314M82.2 326.3V325.1M83 326.3V318.5M83.8 327.6V314.8M84.5 326V323.3M85.2 327V317.4M86 327.2V325.6M86.8 326.8V317.6M87.5 327.5V324.7M88.2 327.9V325.3M89 326.5V323.1M89.8 328.1V315.2M90.5 327.5V326.4M91.2 327V314.2M92 328V325.7M92.8 327.4V321.2M93.5 327.2V323.2M94.2 326.1V316.9M95 327.7V324.5M95.8 327.3V323.1M96.5 326.9V323.4M97.2 327.2V321.9M98 327.8V321.4M98.8 327V323.5M99.5 327.2V319.3M100.2 327V324M101 326.6V320.4M101.8 326.7V324.7M102.5 327V317.3M103.2 327V322.1M104 327.7V324M104.8 327.2V324.8M105.5 327V314.1M106.2 327.3V324.9M107 327V322.7M107.8 327.5V326.6M108.5 326.3V323.5M109.2 326V324.1"/>
<path fill="#b9d004" d="M103 321.7h1.1v1.1h-1.1zM107.6 322.7h1.1v1.1h-1.1zM79 316.2h1.1v1.1h-1.1zM77.7 321.8h1.1v1.1h-1.1zM96.1 319.8h1.1v1.1h-1.1zM102.8 320.1h1.1v1.1h-1.1zM76.3 321.9h1.1v1.1h-1.1zM95.3 321.9h1.1v1.1h-1.1zM83.1 314.9h1.1v1.1h-1.1zM108.9 316.5h1.1v1.1h-1.1zM86.4 317.8h1.1v1.1h-1.1zM76.5 323.2h1.1v1.1h-1.1zM101.3 319.7h1.1v1.1h-1.1zM84.3 319.2h1.1v1.1h-1.1z"/>
<polygon points="110,346 110.3,327.1 111,326.7 111.8,327.1 112.5,327.4 113.3,325.6 114,327.2 114.8,327.6 115.5,327.7 116.3,327.3 117,327.3 117.8,327.2 118.5,327.6 119.3,328.4 120,327.4 120.8,327.8 121.5,327.7 122.3,328.2 123,327.7 123.8,327.7 124.5,327.2 125.3,327.9 126,327 126.8,326.9 127.5,327.4 128.3,327.1 129.1,327.1 129.8,326.2 130.6,327.8 131.3,326.6 132.1,327.2 132.8,326.4 133.6,325.7 134.3,326.3 135.1,325.9 135.8,326.3 136.6,324.7 137.3,325.2 138.1,325 138.8,326.1 139,346" fill="#5dac2e"/>
<path stroke="#5dac2e" stroke-width="0.9" fill="none" d="M110.3 327.6V326.2M111 327.2V323.1M111.8 327.6V326.1M112.5 327.9V324M113.3 326.1V313.3M114 327.7V324.9M114.8 328.1V321M115.5 328.2V319M116.3 327.8V319.6M117 327.8V325.5M117.8 327.7V322.7M118.5 328.1V321.9M119.3 328.9V326.3M120 327.9V324.2M120.8 328.3V318.6M121.5 328.2V322M122.3 328.7V326.4M123 328.2V326.5M123.8 328.2V315.6M124.5 327.7V326.5M125.3 328.4V326.5M126 327.5V325M126.8 327.4V322.8M128.3 327.6V324.1M129.1 327.6V316.6M129.8 326.7V320.5M130.6 328.3V315.4M131.3 327.1V317M132.1 327.7V322.7M132.8 326.9V321.6M133.6 326.2V321.8M134.3 326.8V323.7M135.1 326.4V324.6M135.8 326.8V323.7M136.6 325.2V312.4M137.3 325.7V313.5M138.1 325.5V312.6M138.8 326.6V323.5"/>
<path fill="#5dac2e" d="M115.5 318.8h1.1v1.1h-1.1zM125.2 319.3h1.1v1.1h-1.1zM122.2 325.8h1.1v1.1h-1.1zM133.1 318.8h1.1v1.1h-1.1zM123.9 323.6h1.1v1.1h-1.1zM125.1 323.3h1.1v1.1h-1.1zM129.8 315.4h1.1v1.1h-1.1zM133.8 322.4h1.1v1.1h-1.1zM126.3 315.1h1.1v1.1h-1.1zM111 322.4h1.1v1.1h-1.1zM122.8 318.4h1.1v1.1h-1.1z"/>
<polygon points="139,346 139.3,324.9 140.1,325 140.8,326.2 141.6,325 142.3,325.9 143.1,326 143.8,325 144.6,325.5 145.3,326.3 146.1,327.1 146.8,326.2 147.6,326.2 148.3,326.6 149.1,327.2 149.8,327 150.6,327.2 151.3,326.5 152.1,326.1 152.8,326 153.6,326.9 154.3,326.4 155.1,326.3 155.8,326.8 156.6,326.6 157.3,325.5 158.1,326.4 158.8,326.1 159.6,326.8 160.3,326.5 161.1,327.4 161.8,326.6 162.6,326 163.3,325.5 164.1,326 164.8,326.2 165.6,326.6 166.3,326.9 167.1,326.7 167.2,346" fill="#b9d004"/>
<path stroke="#b9d004" stroke-width="0.9" fill="none" d="M139.3 325.4V317.1M140.1 325.5V315.8M140.8 326.7V323.8M141.6 325.5V319.7M142.3 326.4V324.7M143.1 326.5V323.2M143.8 325.5V322M144.6 326V313.2M145.3 326.8V322.8M146.1 327.6V326M146.8 326.7V322.4M147.6 326.7V320.4M148.3 327.1V314.2M149.1 327.7V322.1M149.8 327.5V325.6M150.6 327.7V325.4M151.3 327V324.2M152.1 326.6V323.7M152.8 326.5V322.1M153.6 327.4V323.3M154.3 326.9V322.8M155.1 326.8V325.7M155.8 327.3V314.4M156.6 327.1V324.3M157.3 326V320.1M158.1 326.9V322M158.8 326.6V324.2M159.6 327.3V325.7M160.3 327V325M161.1 327.9V319.6M161.8 327.1V326M162.6 326.5V313.6M163.3 326V324.5M164.1 326.5V317.3M164.8 326.7V318.7M165.6 327.1V322.9M166.3 327.4V323.8M167.1 327.2V322.7"/>
<path fill="#b9d004" d="M163.2 314.1h1.1v1.1h-1.1zM144.8 321.9h1.1v1.1h-1.1zM147.1 319h1.1v1.1h-1.1zM142.7 320.6h1.1v1.1h-1.1zM147.3 315.3h1.1v1.1h-1.1zM155.5 307.7h1.1v1.1h-1.1zM146.3 321.7h1.1v1.1h-1.1zM140.3 320.2h1.1v1.1h-1.1zM155.1 312.6h1.1v1.1h-1.1zM159.2 323.2h1.1v1.1h-1.1zM141.9 319.4h1.1v1.1h-1.1z"/>
<polygon points="167.5,346 167.8,328.1 168.6,327.8 169.3,328.6 170.1,328.5 170.8,327.7 171.6,327.2 172.3,327.1 173.1,326.7 173.8,326.4 174.6,326.7 175.3,326.8 176.1,327.2 176.8,327.1 177.6,327 178.3,326.7 179.1,326.8 179.8,326.9 180.6,327.1 181.3,326.8 182.1,327.1 182.8,327.1 183.6,327.1 184.3,327.7 185.1,328 185.8,327.2 186.6,327.2 187.3,327.5 188.1,327.6 188.8,326.2 189.6,327.7 190.3,327.4 191.1,327.1 191.8,327.8 192.6,327.1 193.3,326.2 194.1,326.6 194.2,346" fill="#5dac2e"/>
<path stroke="#5dac2e" stroke-width="0.9" fill="none" d="M167.8 328.6V327.3M168.6 328.3V325.1M169.3 329.1V318.7M170.1 329V327.7M170.8 328.2V326.2M171.6 327.7V326.6M172.3 327.6V321M173.1 327.2V319.1M173.8 326.9V315.3M174.6 327.2V322.2M175.3 327.3V325.3M176.1 327.7V325.1M176.8 327.6V325.3M177.6 327.5V318.6M178.3 327.2V319.7M179.1 327.3V325.5M179.8 327.4V317.4M180.6 327.6V319.3M181.3 327.3V324.7M182.1 327.6V322.1M182.8 327.6V319.7M183.6 327.6V321.6M184.3 328.2V326.8M185.1 328.5V326.4M185.8 327.7V324.6M186.6 327.7V315.2M187.3 328V326.6M188.1 328.1V325.2M188.8 326.7V319.5M189.6 328.2V318.3M190.3 327.9V327M191.1 327.6V325M191.8 328.3V321.9M192.6 327.6V325.3M193.3 326.7V321.8M194.1 327.1V323.1"/>
<path fill="#5dac2e" d="M168.2 322.5h1.1v1.1h-1.1zM185.9 308.4h1.1v1.1h-1.1zM173.4 312.1h1.1v1.1h-1.1zM179.4 315.2h1.1v1.1h-1.1zM185.3 320.5h1.1v1.1h-1.1zM172 317.8h1.1v1.1h-1.1zM181.4 315.3h1.1v1.1h-1.1zM189.6 315.2h1.1v1.1h-1.1zM171.8 308.3h1.1v1.1h-1.1zM179.8 315.4h1.1v1.1h-1.1zM172.3 312.7h1.1v1.1h-1.1z"/>
<polygon points="195,346 195.3,326.5 196.1,326.6 196.8,327.8 197.6,326.8 198.3,325.9 199.1,326.8 199.8,326.7 200.6,326.9 201.3,326.8 202.1,326 202.8,326.7 203.6,327 204.3,328 205.1,326.7 205.8,327.3 206.6,327.2 207.3,325.8 208.1,325.8 208.8,327.1 209.6,325.6 210.3,325.8 211.1,326.4 211.8,325.6 212.6,326.9 213.3,326.8 214.1,327 214.8,326.9 215.6,326 216.3,327.2 217.1,327.2 217.8,327.2 218.6,326.8 219.3,327.1 219.5,346" fill="#b9d004"/>
<path stroke="#b9d004" stroke-width="0.9" fill="none" d="M195.3 327V314.1M196.1 327.1V318.8M196.8 328.3V316.5M197.6 327.3V324.9M198.3 326.4V323.9M199.1 327.3V325.2M199.8 327.2V324.4M200.6 327.4V325.1M201.3 327.3V317.5M202.1 326.5V325.4M202.8 327.2V325.3M203.6 327.5V323.3M204.3 328.5V317.8M205.1 327.2V324.9M205.8 327.8V326.8M206.6 327.7V326.7M207.3 326.3V318.4M208.1 326.3V325.3M208.8 327.6V325.9M209.6 326.1V313.3M210.3 326.3V314.2M211.1 326.9V317.5M211.8 326.1V321.7M212.6 327.4V314.6M213.3 327.3V325.9M214.1 327.5V325.1M214.8 327.4V321.7M215.6 326.5V323.6M216.3 327.7V324.7M217.1 327.7V320.8M217.8 327.7V322M218.6 327.3V322.8M219.3 327.6V325.7"/>
<path fill="#b9d004" d="M196.6 319.2h1.1v1.1h-1.1zM200.5 319h1.1v1.1h-1.1zM208.5 320.6h1.1v1.1h-1.1zM195.8 316.8h1.1v1.1h-1.1zM215.2 323h1.1v1.1h-1.1zM218.2 320.9h1.1v1.1h-1.1zM202.8 318.5h1.1v1.1h-1.1zM213.5 319.7h1.1v1.1h-1.1zM200.9 310.1h1.1v1.1h-1.1zM217.7 320.5h1.1v1.1h-1.1z"/>
<polygon points="220,346 220.3,326.3 221.1,326.1 221.8,327.5 222.6,326.8 223.3,327.6 224.1,327.4 224.8,327.5 225.6,327.6 226.3,328.4 227.1,328.2 227.8,329.1 228.6,329.2 229.3,328.1 230.1,328.2 230.8,328.9 231.6,328.3 232.3,327.7 233.1,326.8 233.8,326.9 234.6,326.9 235.3,328.1 236.1,327.1 236.8,326.7 237.6,326.7 238.3,326.6 239.1,326.8 239.8,325.8 240.6,325.8 241.3,326.5 242.1,326.9 242.8,325.3 243.6,326.5 243.8,346" fill="#5dac2e"/>
<path stroke="#5dac2e" stroke-width="0.9" fill="none" d="M220.3 326.8V316.9M221.1 326.6V315.8M221.8 328V326M222.6 327.3V323.1M224.1 327.9V320.3M224.8 328V326.1M225.6 328.1V315.2M226.3 328.9V323.1M227.1 328.7V322M227.8 329.6V320.9M228.6 329.7V318.8M229.3 328.6V319.7M230.1 328.7V326.8M230.8 329.4V327.4M231.6 328.8V322.8M232.3 328.2V324.4M233.1 327.3V316.3M233.8 327.4V324.4M234.6 327.4V325.3M235.3 328.6V322.7M236.1 327.6V314.7M236.8 327.2V321.5M237.6 327.2V314.7M238.3 327.1V325.3M239.1 327.3V319.5M239.8 326.3V320.9M240.6 326.3V322.3M241.3 327V320.9M242.1 327.4V320.9M242.8 325.8V323.6M243.6 327V322.9"/>
<path fill="#5dac2e" d="M220.7 315.6h1.1v1.1h-1.1zM231.9 319.3h1.1v1.1h-1.1zM234.1 319.8h1.1v1.1h-1.1zM225.8 319.9h1.1v1.1h-1.1zM221.2 324h1.1v1.1h-1.1zM230.6 323.8h1.1v1.1h-1.1zM223.8 321.1h1.1v1.1h-1.1zM224.4 314.3h1.1v1.1h-1.1zM228.7 316.6h1.1v1.1h-1.1z"/>
<polygon points="244,346 244.3,326.9 245.1,327.3 245.8,327.5 246.6,326.9 247.3,326.5 248.1,326.4 248.8,325.7 249.6,327.1 250.3,326.3 251.1,326.5 251.8,324.7 252.6,325.5 253.3,325.3 254.1,325.5 254.8,324.6 255.6,325.4 256.3,325.2 257.1,326.5 257.8,325 258.6,325.5 259.3,325.6 260.1,325.4 260.8,326.2 261.6,326.3 262.3,326 263.1,326.3 263.8,326.8 264,346" fill="#b9d004"/>
<path stroke="#b9d004" stroke-width="0.9" fill="none" d="M244.3 327.4V321.4M245.1 327.8V322.8M245.8 328V325M247.3 327V323.8M248.1 326.9V324.4M248.8 326.2V322.8M249.6 327.6V314.7M250.3 326.8V325.6M251.1 327V323.4M251.8 325.2V319.7M252.6 326V320.6M253.3 325.8V322.3M254.1 326V324M254.8 325.1V312.2M255.6 325.9V321.2M256.3 325.7V323.4M257.1 327V320.9M257.8 325.5V320.7M258.6 326V323.3M259.3 326.1V324.2M260.1 325.9V320.7M260.8 326.7V320.2M261.6 326.8V320.1M262.3 326.5V322.7M263.1 326.8V313.9M263.8 327.3V314.4"/>
<path fill="#b9d004" d="M260.7 316.3h1.1v1.1h-1.1zM252.5 321.1h1.1v1.1h-1.1zM256.7 316.1h1.1v1.1h-1.1zM245.7 315.6h1.1v1.1h-1.1zM245.4 323.2h1.1v1.1h-1.1zM246 322.9h1.1v1.1h-1.1zM258.3 319.8h1.1v1.1h-1.1zM250.9 319.8h1.1v1.1h-1.1z"/>
<polygon points="264.5,346 264.8,328.5 265.6,328.2 266.3,327.3 267.1,327.8 267.8,327.7 268.6,327.1 269.3,327.1 270.1,326.6 270.8,326.6 271.6,346 272.3,346 273.1,346 273.8,346 274.6,326.9 275.3,325.8 276.1,327.1 276.8,325.8 277.6,326.1 278.3,326.3 279.1,325.9 279.8,325.9 280.6,325.5 281.3,326.3 282.1,326.1 282.8,326.1 283.6,325 284.3,325.5 285.1,326.4 285.8,326 286,346" fill="#5dac2e"/>
<path stroke="#5dac2e" stroke-width="0.9" fill="none" d="M264.8 329V327M265.6 328.7V325.8M266.3 327.8V323.5M267.1 328.3V319.1M267.8 328.2V324.9M268.6 327.6V322.8M269.3 327.6V324.1M270.1 327.1V323.6M270.8 327.1V319.3M274.6 327.4V320.4M275.3 326.3V323.2M276.1 327.6V326.1M276.8 326.3V325.4M277.6 326.6V323M278.3 326.8V316.3M279.1 326.4V323.5M279.8 326.4V313.5M280.6 326V318.1M281.3 326.8V324.7M282.1 326.6V321.7M282.8 326.6V322.2M283.6 325.5V323M284.3 326V323.3M285.1 326.9V322.7M285.8 326.5V313.7"/>
<path fill="#5dac2e" d="M265.3 321.3h1.1v1.1h-1.1zM265.1 323h1.1v1.1h-1.1zM277.4 315.6h1.1v1.1h-1.1zM281.8 320.1h1.1v1.1h-1.1zM284.7 319.5h1.1v1.1h-1.1zM266.8 320.4h1.1v1.1h-1.1z"/>
<polygon points="286.3,346 286.6,329.7 287.4,329.3 288.1,328.8 288.9,328.8 289.6,329 290.4,328.8 291.1,327.7 291.9,328.8 292.6,328.2 293.4,327.4 294.1,327.8 294.9,328.9 295.6,327.5 296.4,327.7 297.1,327.6 297.9,327 298.6,327.2 299.4,327.6 300.1,327 300.9,327.2 301.6,327.4 302.4,327.3 303.1,327.3 303.9,327.6 304.6,327.7 305.4,327.4 306.1,327.9 306.3,346" fill="#b9d004"/>
<path stroke="#b9d004" stroke-width="0.9" fill="none" d="M286.6 330.2V317.4M287.4 329.8V321.2M288.1 329.3V325.6M288.9 329.3V316.4M289.6 329.5V325M290.4 329.3V320M291.1 328.2V322M291.9 329.3V317.7M292.6 328.7V327.5M293.4 327.9V325.7M294.1 328.3V315.5M294.9 329.4V322.8M296.4 328.2V327.3M297.1 328.1V315.2M297.9 327.5V319.2M298.6 327.7V314.9M299.4 328.1V325.7M300.1 327.5V314.8M300.9 327.7V319.5M301.6 327.9V315M302.4 327.8V326.1M303.1 327.8V321.1M303.9 328.1V326.4M304.6 328.2V323M305.4 327.9V319.6M306.1 328.4V325.4"/>
<path fill="#b9d004" d="M296.5 306.9h1.1v1.1h-1.1zM300.8 315.7h1.1v1.1h-1.1zM300.8 312.8h1.1v1.1h-1.1zM287.5 321.1h1.1v1.1h-1.1zM302.7 321h1.1v1.1h-1.1zM287 321h1.1v1.1h-1.1zM294.7 320.5h1.1v1.1h-1.1zM297.9 314.9h1.1v1.1h-1.1z"/>
<polygon points="307,346 307.3,324.8 308.1,326.2 308.8,325.9 309.6,326.2 310.3,325.7 311.1,325 311.8,325.5 312.6,326.4 313.3,326.1 314.1,325.4 314.8,326.3 315.6,326.1 316.3,325.9 317.1,327 317.8,325.6 318.6,325.8 319.3,325.6 320.1,326.3 320.8,326.2 321.6,326 322.3,325.6 323.1,325.6 323.8,325.5 324.6,324.6 325.3,324.8 325.5,346" fill="#5dac2e"/>
<path stroke="#5dac2e" stroke-width="0.9" fill="none" d="M307.3 325.3V317.8M308.1 326.7V325M308.8 326.4V313.8M309.6 326.7V324.5M310.3 326.2V313.9M311.1 325.5V324.3M311.8 326V324M312.6 326.9V319.1M313.3 326.6V323.9M314.1 325.9V318M315.6 326.6V316.2M316.3 326.4V322.4M317.1 327.5V320M317.8 326.1V325M318.6 326.3V323.8M319.3 326.1V324.4M320.1 326.8V326M320.8 326.7V322.5M321.6 326.5V313.7M322.3 326.1V318.7M323.1 326.1V316.7M323.8 326V322.1M324.6 325.1V322.9M325.3 325.3V312.5"/>
<path fill="#5dac2e" d="M318.6 322.3h1.1v1.1h-1.1zM309.1 322h1.1v1.1h-1.1zM311.1 323.2h1.1v1.1h-1.1zM321.5 312.8h1.1v1.1h-1.1zM321.6 306.8h1.1v1.1h-1.1zM308.3 303.3h1.1v1.1h-1.1zM316.3 319.6h1.1v1.1h-1.1z"/>
<polygon points="326,346 326.3,325.3 327.1,324.9 327.8,325.7 328.6,326.2 329.3,325.6 330.1,326.9 330.8,325.9 331.6,325.6 332.3,326.1 333.1,326 333.8,326.3 334.6,326.3 335.3,326.7 336.1,327.3 336.8,327.1 337.6,327.1 338.3,326.4 339.1,326.2 339.8,326.8 340.6,327.4 341.3,327.4 342.1,327.2 342.8,326.4 343.6,326.9 344.3,327.1 345.1,327.5 345.8,326.6 346.6,326.9 347.3,327.1 347.5,346" fill="#b9d004"/>
<path stroke="#b9d004" stroke-width="0.9" fill="none" d="M326.3 325.8V321.7M327.1 325.4V316.2M327.8 326.2V321.5M328.6 326.7V316.2M329.3 326.1V313.2M330.1 327.4V314.6M330.8 326.4V324.1M331.6 326.1V323.2M332.3 326.6V318.2M333.1 326.5V323.8M333.8 326.8V321.4M334.6 326.8V321.8M335.3 327.2V325M336.1 327.8V316.6M336.8 327.6V326.8M337.6 327.6V322.4M338.3 326.9V325.1M339.8 327.3V323.9M340.6 327.9V317.8M341.3 327.9V320.7M342.1 327.7V325.2M342.8 326.9V321.7M343.6 327.4V321.1M344.3 327.6V324.5M345.1 328V324.9M345.8 327.1V324.4M346.6 327.4V325.3M347.3 327.6V319.2"/>
<path fill="#b9d004" d="M343.4 319.2h1.1v1.1h-1.1zM337.7 321.5h1.1v1.1h-1.1zM343.9 322.6h1.1v1.1h-1.1zM328.8 312.3h1.1v1.1h-1.1zM346.2 318.7h1.1v1.1h-1.1zM326.9 318.3h1.1v1.1h-1.1zM344.5 315.7h1.1v1.1h-1.1zM342.3 320.7h1.1v1.1h-1.1z"/>
<polygon points="350.3,346 350.6,326.5 351.4,326 352.1,326.2 352.9,326.1 353.6,327.3 354.4,326.3 355.1,326.9 355.9,327 356.6,327.1 357.4,326.1 358.1,326.3 358.9,327.1 359.6,327.4 360.4,326.8 361.1,327.1 361.9,326 362.6,327.7 363.4,327.9 363.6,346" fill="#5dac2e"/>
<path stroke="#5dac2e" stroke-width="0.9" fill="none" d="M350.6 327V314.2M351.4 326.5V321.3M352.1 326.7V317.7M352.9 326.6V325M353.6 327.8V326.5M354.4 326.8V313.9M355.1 327.4V324M355.9 327.5V324.6M356.6 327.6V325.5M357.4 326.6V324M358.1 326.8V324.8M358.9 327.6V325.4M359.6 327.9V323M360.4 327.3V323.5M361.1 327.6V325.4M361.9 326.5V323M362.6 328.2V326.8M363.4 328.4V325.3"/>
<path fill="#5dac2e" d="M356.1 323.6h1.1v1.1h-1.1zM354 314.6h1.1v1.1h-1.1zM356.6 322.8h1.1v1.1h-1.1zM354.2 317.3h1.1v1.1h-1.1zM354.4 320.7h1.1v1.1h-1.1z"/>
<polygon points="367.6,346 367.9,328.1 368.7,327.6 369.4,328.7 370.2,327.3 370.9,327.2 371.7,327.6 372.4,328.2 373.2,327.4 373.9,327.7 374.7,327.1 375.4,327.4 376.2,326.9 376.9,327.4 377.7,326.4 378.4,328.3 379.2,327.6 379.9,326.8 380.1,346" fill="#b9d004"/>
<path stroke="#b9d004" stroke-width="0.9" fill="none" d="M367.9 328.6V322.5M368.7 328.1V326.2M369.4 329.2V325.3M370.2 327.8V323.7M370.9 327.7V317.5M371.7 328.1V315.3M372.4 328.7V326.4M373.2 327.9V323.4M373.9 328.2V324.1M374.7 327.6V324.4M375.4 327.9V324.1M376.2 327.4V325.8M376.9 327.9V323.5M377.7 326.9V316.1M378.4 328.8V318.6M379.2 328.1V326M379.9 327.3V317.4"/>
<path fill="#b9d004" d="M375.6 324.5h1.1v1.1h-1.1zM372.2 320.4h1.1v1.1h-1.1zM374.3 316.9h1.1v1.1h-1.1zM379.7 314.7h1.1v1.1h-1.1zM376.1 321.1h1.1v1.1h-1.1z"/>
<polygon points="384.3,346 384.6,325 385.4,325.7 386.1,325 386.9,324.9 387.6,326.1 388.4,325.2 389.1,325.3 389.9,325.4 390.6,326.3 391.4,325.5 392.1,326.6 392.9,325.2 393.6,326 394.4,326.7 395.1,325.6 395.9,325.7 396.6,326.8 396.8,346" fill="#5dac2e"/>
<path stroke="#5dac2e" stroke-width="0.9" fill="none" d="M384.6 325.5V322.3M385.4 326.2V323.6M386.1 325.5V312.6M386.9 325.4V321.4M387.6 326.6V320.6M388.4 325.7V323.9M389.1 325.8V315M389.9 325.9V313M390.6 326.8V318M391.4 326V325M392.1 327.1V322.8M392.9 325.7V324.8M393.6 326.5V320.2M394.4 327.2V326.3M395.1 326.1V322.8M395.9 326.2V317.7M396.6 327.3V314.4"/>
<path fill="#5dac2e" d="M394.6 322h1.1v1.1h-1.1zM388.2 317.7h1.1v1.1h-1.1zM393 319.1h1.1v1.1h-1.1zM394.7 319h1.1v1.1h-1.1zM387.6 321.4h1.1v1.1h-1.1z"/>
<polygon points="397,346 397.3,328.1 398.1,327.5 398.8,327.1 399.6,327.6 400.3,328 401.1,328.2 401.8,327.9 402.6,327.3 403.3,328.3 404.1,327.1 404.8,327 405.6,326.6 406.3,326.9 407.1,326.6 407.8,326.9 408.6,326.7 408.8,346" fill="#b9d004"/>
<path stroke="#b9d004" stroke-width="0.9" fill="none" d="M397.3 328.6V315.8M398.1 328V320.8M398.8 327.6V314.7M399.6 328.1V326.8M400.3 328.5V324.3M401.1 328.7V324.6M401.8 328.4V322.6M402.6 327.8V321M403.3 328.8V319.2M404.1 327.6V321.1M404.8 327.5V314.7M405.6 327.1V325.2M406.3 327.4V317M407.1 327.1V314.2M407.8 327.4V324.7M408.6 327.2V324.4"/>
<path fill="#b9d004" d="M398.1 311h1.1v1.1h-1.1zM405.6 318.5h1.1v1.1h-1.1zM402.1 320h1.1v1.1h-1.1zM399.7 323h1.1v1.1h-1.1z"/>
<polygon points="409.2,346 409.5,325.3 410.2,325.8 411,325.8 411.8,326 412.5,325.5 413.2,326 414,326.8 414.8,326.2 415.5,326.2 416.2,327 417,327 417.8,327.1 418.5,327.3 419.2,326.9 420,326.6 420.8,326.3 421.5,326.7 422.2,326.9 423,326.9 423.2,346" fill="#5dac2e"/>
<path stroke="#5dac2e" stroke-width="0.9" fill="none" d="M409.5 325.8V320.3M410.2 326.3V323.4M411 326.3V325.1M411.8 326.5V322.8M412.5 326V313.2M413.2 326.5V318.4M414 327.3V318.9M414.8 326.7V323.8M415.5 326.7V318.6M416.2 327.5V325.6M417 327.5V315.6M417.8 327.6V325.8M418.5 327.8V326.5M419.2 327.4V316.7M420 327.1V321M420.8 326.8V325.3M421.5 327.2V326M422.2 327.4V318.6M423 327.4V326"/>
<path fill="#5dac2e" d="M415.2 317.7h1.1v1.1h-1.1zM421.5 318.2h1.1v1.1h-1.1zM417.2 324.6h1.1v1.1h-1.1zM418.6 314.2h1.1v1.1h-1.1zM418.6 314.1h1.1v1.1h-1.1z"/>
<polygon points="423.7,346 424,326.3 424.8,326.4 425.5,326.6 426.2,326.2 427,325.7 427.8,327.3 428.5,326.2 429.2,326.3 430,326.2 430.8,326.9 431.5,325.5 432.2,326.2 433,325.8 433.8,325.9 434.5,326.4 435.2,325.7 435.4,346" fill="#b9d004"/>
<path stroke="#b9d004" stroke-width="0.9" fill="none" d="M424 326.8V317.4M424.8 326.9V321.8M425.5 327.1V322.9M426.2 326.7V324.9M427 326.2V317.5M427.8 327.8V319.6M428.5 326.7V320.4M429.2 326.8V324.9M430 326.7V313.8M430.8 327.4V321.8M431.5 326V324.6M432.2 326.7V318.7M433 326.3V322.6M433.8 326.4V313.6M434.5 326.9V317.9M435.2 326.2V321.4"/>
<path fill="#b9d004" d="M434.2 314.4h1.1v1.1h-1.1zM428.1 312.7h1.1v1.1h-1.1zM432.1 313.1h1.1v1.1h-1.1zM427 312.9h1.1v1.1h-1.1z"/>
<polygon points="436,346 436.3,326.6 437.1,327 437.8,325.9 438.6,326.2 439.3,326.2 440.1,326.1 440.8,325.6 441.6,325.6 442.3,325.8 443.1,326.6 443.8,325.9 444.6,325.6 445.3,324.6 445.5,346" fill="#5dac2e"/>
<path stroke="#5dac2e" stroke-width="0.9" fill="none" d="M436.3 327.1V323.5M437.1 327.5V317M437.8 326.4V323M438.6 326.7V323.2M439.3 326.7V313.8M440.1 326.6V313.7M440.8 326.1V322.8M441.6 326.1V315.4M442.3 326.3V318.2M443.1 327.1V324M443.8 326.4V322.7M444.6 326.1V323.8M445.3 325.1V322.4"/>
<path fill="#5dac2e" d="M437.9 322.6h1.1v1.1h-1.1zM443.4 319.4h1.1v1.1h-1.1zM440.6 316.9h1.1v1.1h-1.1zM438.2 312.7h1.1v1.1h-1.1z"/>
<polygon points="446,346 446.3,328 447.1,327.9 447.8,327.9 448.6,327.7 449.3,326.9 450.1,326.9 450.8,327.6 451.6,326.1 452.3,327.4 453.1,326.3 453.8,326.4 454.6,325.7 455.3,326 456.1,325.5 456.2,346" fill="#b9d004"/>
<path stroke="#b9d004" stroke-width="0.9" fill="none" d="M446.3 328.5V324.7M447.1 328.4V327.2M448.6 328.2V320.6M449.3 327.4V323.2M450.1 327.4V322.1M450.8 328.1V326.2M451.6 326.6V313.8M452.3 327.9V325.3M453.1 326.8V324.4M453.8 326.9V323.5M454.6 326.2V324.6M455.3 326.5V313.6M456.1 326V317.2"/>
<path fill="#b9d004" d="M451.3 309.8h1.1v1.1h-1.1zM446.7 322h1.1v1.1h-1.1zM447.9 319h1.1v1.1h-1.1zM451.1 309.2h1.1v1.1h-1.1z"/>
<polygon points="458.7,346 459,327.3 459.8,327.4 460.5,326.8 461.2,326.7 462,325.5 462.8,324.5 463.5,325 463.7,346" fill="#5dac2e"/>
<path stroke="#5dac2e" stroke-width="0.9" fill="none" d="M459 327.8V324.3M459.8 327.9V321.3M460.5 327.3V325M461.2 327.2V322.7M462 326V323.4M462.8 325V322.7M463.5 325.5V319.6"/>
<path fill="#5dac2e" d="M461.4 313.9h1.1v1.1h-1.1zM462.9 318.8h1.1v1.1h-1.1z"/>
<polygon points="467,346 467.3,325.3 468.1,325.6 468.8,325.7 469.6,325.5 470.3,325.8 471.1,325.6 471.8,326.3 472.6,326.6 472.8,346" fill="#b9d004"/>
<path stroke="#b9d004" stroke-width="0.9" fill="none" d="M467.3 325.8V323.6M468.1 326.1V322.5M468.8 326.2V313.4M469.6 326V323.5M470.3 326.3V323.5M471.1 326.1V321.7M471.8 326.8V324.3M472.6 327.1V325"/>
<path fill="#b9d004" d="M468.3 304.8h1.1v1.1h-1.1zM467.8 313.6h1.1v1.1h-1.1z"/>
<polygon points="473.5,346 473.8,328.7 474.6,328.2 475.3,328.4 476.1,329 476.8,328.8 477.6,328.8 478.3,328.5 479.1,328.4 479.8,328.4 480.6,328.8 481.3,328.5 482.1,329.2 482.8,330 483.6,328.6 484.3,329.4 485.1,329.1 485.8,329.2 486.6,328.3 487.3,329.3 488.1,328.6 488.8,329.1 489.6,329.5 490.3,329.7 491.1,328.7 491.8,328.8 492.6,328.7 493.3,328.2 494.1,329 494.8,329.1 495.6,329.3 495.8,346" fill="#5dac2e"/>
<path stroke="#5dac2e" stroke-width="0.9" fill="none" d="M473.8 329.2V325.8M474.6 328.7V327.7M475.3 328.9V326.8M476.1 329.5V323M476.8 329.3V320.1M477.6 329.3V316.4M478.3 329V318.9M479.1 328.9V325.7M479.8 328.9V322.7M480.6 329.3V324M481.3 329V327.1M482.1 329.7V326.3M482.8 330.5V327.6M483.6 329.1V322.8M484.3 329.9V324.1M485.1 329.6V321.9M485.8 329.7V327.8M486.6 328.8V327.9M487.3 329.8V317.3M488.1 329.1V327.9M488.8 329.6V323.5M489.6 330V326.3M491.1 329.2V326.7M491.8 329.3V327M492.6 329.2V326.2M493.3 328.7V325.1M494.1 329.5V316.7M494.8 329.6V318.1M495.6 329.8V325"/>
<path fill="#5dac2e" d="M484.9 320h1.1v1.1h-1.1zM490.8 304h1.1v1.1h-1.1zM480.7 323.2h1.1v1.1h-1.1zM487.6 324.8h1.1v1.1h-1.1zM487.9 324.9h1.1v1.1h-1.1zM484.9 319.2h1.1v1.1h-1.1zM486.8 311.8h1.1v1.1h-1.1zM483.5 318.4h1.1v1.1h-1.1zM486.8 314.4h1.1v1.1h-1.1z"/>
<g fill="#5dac2e"><rect x="60.25" y="269.92" width="1.1" height="76.08"/><circle cx="60.8" cy="250.9" r="0.6"/><circle cx="60.8" cy="257.87" r="0.6"/><circle cx="60.8" cy="261.04" r="0.6"/></g>
<g fill="#b9d004"><rect x="454.4" y="287.67" width="1.2" height="58.33"/><circle cx="455" cy="271.82" r="0.6"/><circle cx="455" cy="278.8" r="0.6"/></g>
<text x="63.8" y="247.7" font-size="6.6" fill="#4a4a4a" font-style="italic" textLength="19.2" lengthAdjust="spacingAndGlyphs" transform="rotate(-90 63.8 247.7)">PEAR1</text>
<text x="457.4" y="267.7" font-size="6.6" fill="#4a4a4a" font-style="italic" textLength="17.7" lengthAdjust="spacingAndGlyphs" transform="rotate(-90 457.4 267.7)">TUBB1</text>
<line x1="34.5" y1="299.7" x2="501" y2="299.7" stroke="#8a8a9a" stroke-width="0.9" stroke-dasharray="2.3 2.3"/>
<line x1="33.9" y1="225.6" x2="33.9" y2="346" stroke="#505050" stroke-width="1.6"/>
<line x1="33.1" y1="345.7" x2="498.5" y2="345.7" stroke="#404040" stroke-width="1.5"/>
<line x1="30.9" y1="346" x2="33.9" y2="346" stroke="#3a3a3a" stroke-width="1"/>
<text x="29.1" y="348.5" font-size="7.2" fill="#3a3a3a" text-anchor="end" textLength="3.85" lengthAdjust="spacingAndGlyphs">0</text>
<line x1="30.9" y1="314.3" x2="33.9" y2="314.3" stroke="#3a3a3a" stroke-width="1"/>
<text x="29.1" y="316.8" font-size="7.2" fill="#3a3a3a" text-anchor="end" textLength="3.85" lengthAdjust="spacingAndGlyphs">5</text>
<line x1="30.9" y1="282.6" x2="33.9" y2="282.6" stroke="#3a3a3a" stroke-width="1"/>
<text x="29.1" y="285.1" font-size="7.2" fill="#3a3a3a" text-anchor="end" textLength="7.7" lengthAdjust="spacingAndGlyphs">10</text>
<line x1="30.9" y1="250.9" x2="33.9" y2="250.9" stroke="#3a3a3a" stroke-width="1"/>
<text x="29.1" y="253.4" font-size="7.2" fill="#3a3a3a" text-anchor="end" textLength="7.7" lengthAdjust="spacingAndGlyphs">15</text>
<line x1="57.3" y1="346" x2="57.3" y2="349" stroke="#3a3a3a" stroke-width="1"/>
<text x="57.3" y="357.9" font-size="6.8" fill="#3a3a3a" text-anchor="middle" textLength="3.5" lengthAdjust="spacingAndGlyphs">1</text>
<line x1="92.9" y1="346" x2="92.9" y2="349" stroke="#3a3a3a" stroke-width="1"/>
<text x="92.9" y="357.9" font-size="6.8" fill="#3a3a3a" text-anchor="middle" textLength="3.5" lengthAdjust="spacingAndGlyphs">2</text>
<line x1="125" y1="346" x2="125" y2="349" stroke="#3a3a3a" stroke-width="1"/>
<text x="125" y="357.9" font-size="6.8" fill="#3a3a3a" text-anchor="middle" textLength="3.5" lengthAdjust="spacingAndGlyphs">3</text>
<line x1="153.5" y1="346" x2="153.5" y2="349" stroke="#3a3a3a" stroke-width="1"/>
<text x="153.5" y="357.9" font-size="6.8" fill="#3a3a3a" text-anchor="middle" textLength="3.5" lengthAdjust="spacingAndGlyphs">4</text>
<line x1="181" y1="346" x2="181" y2="349" stroke="#3a3a3a" stroke-width="1"/>
<text x="181" y="357.9" font-size="6.8" fill="#3a3a3a" text-anchor="middle" textLength="3.5" lengthAdjust="spacingAndGlyphs">5</text>
<line x1="207.5" y1="346" x2="207.5" y2="349" stroke="#3a3a3a" stroke-width="1"/>
<text x="207.5" y="357.9" font-size="6.8" fill="#3a3a3a" text-anchor="middle" textLength="3.5" lengthAdjust="spacingAndGlyphs">6</text>
<line x1="232.5" y1="346" x2="232.5" y2="349" stroke="#3a3a3a" stroke-width="1"/>
<text x="232.5" y="357.9" font-size="6.8" fill="#3a3a3a" text-anchor="middle" textLength="3.5" lengthAdjust="spacingAndGlyphs">7</text>
<line x1="255" y1="346" x2="255" y2="349" stroke="#3a3a3a" stroke-width="1"/>
<text x="255" y="357.9" font-size="6.8" fill="#3a3a3a" text-anchor="middle" textLength="3.5" lengthAdjust="spacingAndGlyphs">8</text>
<line x1="275" y1="346" x2="275" y2="349" stroke="#3a3a3a" stroke-width="1"/>
<text x="275" y="357.9" font-size="6.8" fill="#3a3a3a" text-anchor="middle" textLength="3.5" lengthAdjust="spacingAndGlyphs">9</text>
<line x1="295.5" y1="346" x2="295.5" y2="349" stroke="#3a3a3a" stroke-width="1"/>
<text x="295.5" y="357.9" font-size="6.8" fill="#3a3a3a" text-anchor="middle" textLength="7" lengthAdjust="spacingAndGlyphs">10</text>
<line x1="316" y1="346" x2="316" y2="349" stroke="#3a3a3a" stroke-width="1"/>
<text x="316" y="357.9" font-size="6.8" fill="#3a3a3a" text-anchor="middle" textLength="7" lengthAdjust="spacingAndGlyphs">11</text>
<line x1="336" y1="346" x2="336" y2="349" stroke="#3a3a3a" stroke-width="1"/>
<text x="336" y="357.9" font-size="6.8" fill="#3a3a3a" text-anchor="middle" textLength="7" lengthAdjust="spacingAndGlyphs">12</text>
<line x1="355" y1="346" x2="355" y2="349" stroke="#3a3a3a" stroke-width="1"/>
<text x="355" y="357.9" font-size="6.8" fill="#3a3a3a" text-anchor="middle" textLength="7" lengthAdjust="spacingAndGlyphs">13</text>
<line x1="372" y1="346" x2="372" y2="349" stroke="#3a3a3a" stroke-width="1"/>
<text x="372" y="357.9" font-size="6.8" fill="#3a3a3a" text-anchor="middle" textLength="7" lengthAdjust="spacingAndGlyphs">14</text>
<line x1="389" y1="346" x2="389" y2="349" stroke="#3a3a3a" stroke-width="1"/>
<text x="389" y="357.9" font-size="6.8" fill="#3a3a3a" text-anchor="middle" textLength="7" lengthAdjust="spacingAndGlyphs">15</text>
<line x1="403" y1="346" x2="403" y2="349" stroke="#3a3a3a" stroke-width="1"/>
<text x="403" y="357.9" font-size="6.8" fill="#3a3a3a" text-anchor="middle" textLength="7" lengthAdjust="spacingAndGlyphs">16</text>
<line x1="416" y1="346" x2="416" y2="349" stroke="#3a3a3a" stroke-width="1"/>
<text x="416" y="357.9" font-size="6.8" fill="#3a3a3a" text-anchor="middle" textLength="7" lengthAdjust="spacingAndGlyphs">17</text>
<line x1="430.6" y1="346" x2="430.6" y2="349" stroke="#3a3a3a" stroke-width="1"/>
<text x="430.6" y="357.9" font-size="6.8" fill="#3a3a3a" text-anchor="middle" textLength="7" lengthAdjust="spacingAndGlyphs">18</text>
<line x1="442" y1="346" x2="442" y2="349" stroke="#3a3a3a" stroke-width="1"/>
<text x="442" y="357.9" font-size="6.8" fill="#3a3a3a" text-anchor="middle" textLength="7" lengthAdjust="spacingAndGlyphs">19</text>
<line x1="452.7" y1="346" x2="452.7" y2="349" stroke="#3a3a3a" stroke-width="1"/>
<text x="452.7" y="357.9" font-size="6.8" fill="#3a3a3a" text-anchor="middle" textLength="7" lengthAdjust="spacingAndGlyphs">20</text>
<line x1="461" y1="346" x2="461" y2="349" stroke="#3a3a3a" stroke-width="1"/>
<text x="461" y="357.9" font-size="6.8" fill="#3a3a3a" text-anchor="middle" textLength="7" lengthAdjust="spacingAndGlyphs">21</text>
<line x1="469" y1="346" x2="469" y2="349" stroke="#3a3a3a" stroke-width="1"/>
<text x="469" y="357.9" font-size="6.8" fill="#3a3a3a" text-anchor="middle" textLength="7" lengthAdjust="spacingAndGlyphs">22</text>
<line x1="485.3" y1="346" x2="485.3" y2="349" stroke="#3a3a3a" stroke-width="1"/>
<text x="485.3" y="357.9" font-size="6.8" fill="#3a3a3a" text-anchor="middle" textLength="4.2" lengthAdjust="spacingAndGlyphs">X</text>
<text x="266.5" y="370.3" font-size="8.4" fill="#3a3a3a" text-anchor="middle" textLength="39.5" lengthAdjust="spacingAndGlyphs">Chromosome</text>
<text x="12" y="286" font-size="7" fill="#3a3a3a" text-anchor="middle" transform="rotate(-90 12 286) translate(0 2.4)" textLength="27.5" lengthAdjust="spacingAndGlyphs">-log<tspan font-size="5" dy="1.5">10</tspan><tspan dy="-1.5">(</tspan><tspan font-style="italic">P</tspan>)</text>
<text x="6.9" y="397.4" font-size="11.5" fill="#111" font-weight="bold" textLength="7.8" lengthAdjust="spacingAndGlyphs">C</text>
<rect x="30.5" y="402.5" width="198.0" height="96.69999999999999" fill="none" stroke="#c8c8c8" stroke-width="0.8"/>
<line x1="27.2" y1="496.75" x2="30.5" y2="496.75" stroke="#383838" stroke-width="0.8"/>
<text x="26.5" y="499.25" font-size="7" fill="#383838" text-anchor="end" textLength="3.7" lengthAdjust="spacingAndGlyphs">0</text>
<line x1="27.2" y1="469.5" x2="30.5" y2="469.5" stroke="#383838" stroke-width="0.8"/>
<text x="26.5" y="472" font-size="7" fill="#383838" text-anchor="end" textLength="3.7" lengthAdjust="spacingAndGlyphs">5</text>
<line x1="27.2" y1="442.25" x2="30.5" y2="442.25" stroke="#383838" stroke-width="0.8"/>
<text x="26.5" y="444.75" font-size="7" fill="#383838" text-anchor="end" textLength="7.4" lengthAdjust="spacingAndGlyphs">10</text>
<line x1="27.2" y1="415" x2="30.5" y2="415" stroke="#383838" stroke-width="0.8"/>
<text x="26.5" y="417.5" font-size="7" fill="#383838" text-anchor="end" textLength="7.4" lengthAdjust="spacingAndGlyphs">15</text>
<line x1="228.5" y1="495.7" x2="232.0" y2="495.7" stroke="#5a5a9c" stroke-width="0.8"/>
<text x="234.3" y="498.3" font-size="7.4" fill="#5a5a9c" textLength="3.4" lengthAdjust="spacingAndGlyphs">0</text>
<line x1="228.5" y1="478.06" x2="232.0" y2="478.06" stroke="#5a5a9c" stroke-width="0.8"/>
<text x="234.3" y="480.66" font-size="7.4" fill="#5a5a9c" textLength="6.8" lengthAdjust="spacingAndGlyphs">20</text>
<line x1="228.5" y1="460.42" x2="232.0" y2="460.42" stroke="#5a5a9c" stroke-width="0.8"/>
<text x="234.3" y="463.02" font-size="7.4" fill="#5a5a9c" textLength="6.8" lengthAdjust="spacingAndGlyphs">40</text>
<line x1="228.5" y1="442.78" x2="232.0" y2="442.78" stroke="#5a5a9c" stroke-width="0.8"/>
<text x="234.3" y="445.38" font-size="7.4" fill="#5a5a9c" textLength="6.8" lengthAdjust="spacingAndGlyphs">60</text>
<line x1="228.5" y1="425.14" x2="232.0" y2="425.14" stroke="#5a5a9c" stroke-width="0.8"/>
<text x="234.3" y="427.74" font-size="7.4" fill="#5a5a9c" textLength="6.8" lengthAdjust="spacingAndGlyphs">80</text>
<line x1="228.5" y1="407.5" x2="232.0" y2="407.5" stroke="#5a5a9c" stroke-width="0.8"/>
<text x="234.3" y="410.1" font-size="7.4" fill="#5a5a9c" textLength="10.2" lengthAdjust="spacingAndGlyphs">100</text>
<text x="12.6" y="451.8" font-size="7.2" fill="#383838" text-anchor="middle" transform="rotate(-90 12.6 451.8) translate(0 2.5)" textLength="46.5" lengthAdjust="spacingAndGlyphs">-log<tspan font-size="5" dy="1.5">10</tspan><tspan dy="-1.5">(</tspan><tspan font-style="italic">P</tspan> value)</text>
<text x="252.3" y="451.5" font-size="7.2" fill="#5a5a9c" text-anchor="middle" transform="rotate(90 252.3 451.5) translate(0 2.5)" textLength="85" lengthAdjust="spacingAndGlyphs">Recombination rate (cM/Mb)</text>
<line x1="31.0" y1="457" x2="228.0" y2="457" stroke="#b0b0b0" stroke-width="0.9" stroke-dasharray="3 2.2"/>
<polyline points="31,495.5 46.9,495.5 47.6,417.5 48.3,495.5 228.5,495.5" fill="none" stroke="#5b5ba8" stroke-width="1.4"/>
<rect x="31" y="489.5" width="197.5" height="7" fill="#26265e"/>
<g><circle cx="31.33" cy="488.41" r="1.45" fill="#26265e" stroke="#16163c" stroke-width="0.45"/><circle cx="31.37" cy="486.48" r="1.45" fill="#26265e" stroke="#16163c" stroke-width="0.45"/><circle cx="31.92" cy="486.44" r="1.45" fill="#26265e" stroke="#16163c" stroke-width="0.45"/><circle cx="32.78" cy="486.52" r="1.45" fill="#26265e" stroke="#16163c" stroke-width="0.45"/><circle cx="33.17" cy="487.7" r="1.45" fill="#26265e" stroke="#16163c" stroke-width="0.45"/><circle cx="33.05" cy="484.81" r="1.45" fill="#26265e" stroke="#16163c" stroke-width="0.45"/><circle cx="34.18" cy="482.77" r="1.45" fill="#26265e" stroke="#16163c" stroke-width="0.45"/><circle cx="33.94" cy="487.78" r="1.45" fill="#26265e" stroke="#16163c" stroke-width="0.45"/><circle cx="33.83" cy="482.34" r="1.45" fill="#26265e" stroke="#16163c" stroke-width="0.45"/><circle cx="35.8" cy="489.35" r="1.45" fill="#26265e" stroke="#16163c" stroke-width="0.45"/><circle cx="35.57" cy="490.86" r="1.45" fill="#26265e" stroke="#16163c" stroke-width="0.45"/><circle cx="35.12" cy="486.31" r="1.45" fill="#26265e" stroke="#16163c" stroke-width="0.45"/><circle cx="36.57" cy="491.51" r="1.45" fill="#26265e" stroke="#16163c" stroke-width="0.45"/><circle cx="36.44" cy="482.99" r="1.45" fill="#26265e" stroke="#16163c" stroke-width="0.45"/><circle cx="37.1" cy="493.69" r="1.45" fill="#26265e" stroke="#16163c" stroke-width="0.45"/><circle cx="37.33" cy="490.97" r="1.45" fill="#26265e" stroke="#16163c" stroke-width="0.45"/><circle cx="37.61" cy="484.32" r="1.45" fill="#26265e" stroke="#16163c" stroke-width="0.45"/><circle cx="37.47" cy="492.14" r="1.45" fill="#26265e" stroke="#16163c" stroke-width="0.45"/><circle cx="38.63" cy="489.71" r="1.45" fill="#26265e" stroke="#16163c" stroke-width="0.45"/><circle cx="38.56" cy="488.28" r="1.45" fill="#26265e" stroke="#16163c" stroke-width="0.45"/><circle cx="38.53" cy="483.55" r="1.45" fill="#26265e" stroke="#16163c" stroke-width="0.45"/><circle cx="39.72" cy="487.62" r="1.45" fill="#26265e" stroke="#16163c" stroke-width="0.45"/><circle cx="40.19" cy="487.1" r="1.45" fill="#26265e" stroke="#16163c" stroke-width="0.45"/><circle cx="40.02" cy="487.3" r="1.45" fill="#26265e" stroke="#16163c" stroke-width="0.45"/><circle cx="41.24" cy="484.46" r="1.45" fill="#26265e" stroke="#16163c" stroke-width="0.45"/><circle cx="41.65" cy="489.46" r="1.45" fill="#26265e" stroke="#16163c" stroke-width="0.45"/><circle cx="41.3" cy="494.28" r="1.45" fill="#26265e" stroke="#16163c" stroke-width="0.45"/><circle cx="42.84" cy="490.52" r="1.45" fill="#26265e" stroke="#16163c" stroke-width="0.45"/><circle cx="42.76" cy="491.25" r="1.45" fill="#26265e" stroke="#16163c" stroke-width="0.45"/><circle cx="42.88" cy="490.21" r="1.45" fill="#26265e" stroke="#16163c" stroke-width="0.45"/><circle cx="43.93" cy="487.8" r="1.45" fill="#26265e" stroke="#16163c" stroke-width="0.45"/><circle cx="43.74" cy="494.1" r="1.45" fill="#26265e" stroke="#16163c" stroke-width="0.45"/><circle cx="44.19" cy="489.54" r="1.45" fill="#26265e" stroke="#16163c" stroke-width="0.45"/><circle cx="44.86" cy="489.61" r="1.45" fill="#26265e" stroke="#16163c" stroke-width="0.45"/><circle cx="45.5" cy="493.96" r="1.45" fill="#26265e" stroke="#16163c" stroke-width="0.45"/><circle cx="44.74" cy="494.09" r="1.45" fill="#26265e" stroke="#16163c" stroke-width="0.45"/><circle cx="46.57" cy="492.41" r="1.45" fill="#26265e" stroke="#16163c" stroke-width="0.45"/><circle cx="45.86" cy="490.61" r="1.45" fill="#26265e" stroke="#16163c" stroke-width="0.45"/><circle cx="45.78" cy="491.58" r="1.45" fill="#26265e" stroke="#16163c" stroke-width="0.45"/><circle cx="46.94" cy="489.34" r="1.45" fill="#26265e" stroke="#16163c" stroke-width="0.45"/><circle cx="47.46" cy="494.3" r="1.45" fill="#26265e" stroke="#16163c" stroke-width="0.45"/><circle cx="47.22" cy="490.6" r="1.45" fill="#26265e" stroke="#16163c" stroke-width="0.45"/><circle cx="48.23" cy="490.37" r="1.45" fill="#26265e" stroke="#16163c" stroke-width="0.45"/><circle cx="48.5" cy="492.88" r="1.45" fill="#26265e" stroke="#16163c" stroke-width="0.45"/><circle cx="48.22" cy="488.65" r="1.45" fill="#26265e" stroke="#16163c" stroke-width="0.45"/><circle cx="50.26" cy="494.14" r="1.45" fill="#26265e" stroke="#16163c" stroke-width="0.45"/><circle cx="50" cy="488.69" r="1.45" fill="#26265e" stroke="#16163c" stroke-width="0.45"/><circle cx="50.11" cy="494.64" r="1.45" fill="#26265e" stroke="#16163c" stroke-width="0.45"/><circle cx="50.96" cy="489.77" r="1.45" fill="#26265e" stroke="#16163c" stroke-width="0.45"/><circle cx="51.3" cy="494.77" r="1.45" fill="#26265e" stroke="#16163c" stroke-width="0.45"/><circle cx="51.3" cy="490.02" r="1.45" fill="#26265e" stroke="#16163c" stroke-width="0.45"/><circle cx="52.49" cy="488.88" r="1.45" fill="#26265e" stroke="#16163c" stroke-width="0.45"/><circle cx="51.84" cy="493.35" r="1.45" fill="#26265e" stroke="#16163c" stroke-width="0.45"/><circle cx="52.2" cy="492.35" r="1.45" fill="#26265e" stroke="#16163c" stroke-width="0.45"/><circle cx="53.5" cy="489.39" r="1.45" fill="#26265e" stroke="#16163c" stroke-width="0.45"/><circle cx="53.52" cy="493.42" r="1.45" fill="#26265e" stroke="#16163c" stroke-width="0.45"/><circle cx="53.63" cy="492.58" r="1.45" fill="#26265e" stroke="#16163c" stroke-width="0.45"/><circle cx="54.52" cy="491.73" r="1.45" fill="#26265e" stroke="#16163c" stroke-width="0.45"/><circle cx="54.77" cy="491.2" r="1.45" fill="#26265e" stroke="#16163c" stroke-width="0.45"/><circle cx="54.36" cy="491.44" r="1.45" fill="#26265e" stroke="#16163c" stroke-width="0.45"/><circle cx="55.62" cy="487.97" r="1.45" fill="#26265e" stroke="#16163c" stroke-width="0.45"/><circle cx="55.33" cy="491.22" r="1.45" fill="#26265e" stroke="#16163c" stroke-width="0.45"/><circle cx="56.1" cy="494.02" r="1.45" fill="#26265e" stroke="#16163c" stroke-width="0.45"/><circle cx="57.4" cy="488.22" r="1.45" fill="#26265e" stroke="#16163c" stroke-width="0.45"/><circle cx="56.8" cy="489.76" r="1.45" fill="#26265e" stroke="#16163c" stroke-width="0.45"/><circle cx="56.84" cy="490.55" r="1.45" fill="#26265e" stroke="#16163c" stroke-width="0.45"/><circle cx="57.85" cy="488.32" r="1.45" fill="#26265e" stroke="#16163c" stroke-width="0.45"/><circle cx="58.39" cy="488.91" r="1.45" fill="#26265e" stroke="#16163c" stroke-width="0.45"/><circle cx="58.26" cy="489.84" r="1.45" fill="#26265e" stroke="#16163c" stroke-width="0.45"/><circle cx="59.47" cy="487.9" r="1.45" fill="#26265e" stroke="#16163c" stroke-width="0.45"/><circle cx="59.46" cy="494.67" r="1.45" fill="#26265e" stroke="#16163c" stroke-width="0.45"/><circle cx="59.61" cy="489.34" r="1.45" fill="#26265e" stroke="#16163c" stroke-width="0.45"/><circle cx="60.98" cy="487.94" r="1.45" fill="#26265e" stroke="#16163c" stroke-width="0.45"/><circle cx="60.98" cy="494.35" r="1.45" fill="#26265e" stroke="#16163c" stroke-width="0.45"/><circle cx="60.19" cy="492.48" r="1.45" fill="#26265e" stroke="#16163c" stroke-width="0.45"/><circle cx="61.73" cy="488.68" r="1.45" fill="#26265e" stroke="#16163c" stroke-width="0.45"/><circle cx="61.44" cy="489.08" r="1.45" fill="#26265e" stroke="#16163c" stroke-width="0.45"/><circle cx="61.71" cy="490.74" r="1.45" fill="#26265e" stroke="#16163c" stroke-width="0.45"/><circle cx="62.63" cy="490.55" r="1.45" fill="#26265e" stroke="#16163c" stroke-width="0.45"/><circle cx="63.36" cy="491.49" r="1.45" fill="#26265e" stroke="#16163c" stroke-width="0.45"/><circle cx="62.51" cy="493.9" r="1.45" fill="#26265e" stroke="#16163c" stroke-width="0.45"/><circle cx="64.67" cy="492.89" r="1.45" fill="#26265e" stroke="#16163c" stroke-width="0.45"/><circle cx="64.69" cy="494.8" r="1.45" fill="#26265e" stroke="#16163c" stroke-width="0.45"/><circle cx="63.82" cy="491.32" r="1.45" fill="#26265e" stroke="#16163c" stroke-width="0.45"/><circle cx="65.61" cy="490.88" r="1.45" fill="#26265e" stroke="#16163c" stroke-width="0.45"/><circle cx="65.19" cy="491.28" r="1.45" fill="#26265e" stroke="#16163c" stroke-width="0.45"/><circle cx="65.77" cy="493.31" r="1.45" fill="#26265e" stroke="#16163c" stroke-width="0.45"/><circle cx="66.51" cy="488.56" r="1.45" fill="#26265e" stroke="#16163c" stroke-width="0.45"/><circle cx="67.07" cy="489.89" r="1.45" fill="#26265e" stroke="#16163c" stroke-width="0.45"/><circle cx="66.26" cy="494.55" r="1.45" fill="#26265e" stroke="#16163c" stroke-width="0.45"/><circle cx="67.37" cy="490.79" r="1.45" fill="#26265e" stroke="#16163c" stroke-width="0.45"/><circle cx="67.52" cy="494.74" r="1.45" fill="#26265e" stroke="#16163c" stroke-width="0.45"/><circle cx="68.04" cy="492.38" r="1.45" fill="#26265e" stroke="#16163c" stroke-width="0.45"/><circle cx="68.55" cy="490.78" r="1.45" fill="#26265e" stroke="#16163c" stroke-width="0.45"/><circle cx="69.37" cy="491.91" r="1.45" fill="#26265e" stroke="#16163c" stroke-width="0.45"/><circle cx="68.87" cy="488.63" r="1.45" fill="#26265e" stroke="#16163c" stroke-width="0.45"/><circle cx="70.11" cy="483.28" r="1.45" fill="#26265e" stroke="#16163c" stroke-width="0.45"/><circle cx="70.07" cy="489.83" r="1.45" fill="#26265e" stroke="#16163c" stroke-width="0.45"/><circle cx="70.28" cy="494.03" r="1.45" fill="#26265e" stroke="#16163c" stroke-width="0.45"/><circle cx="71.71" cy="493.16" r="1.45" fill="#26265e" stroke="#16163c" stroke-width="0.45"/><circle cx="71.35" cy="488.63" r="1.45" fill="#26265e" stroke="#16163c" stroke-width="0.45"/><circle cx="71.8" cy="494.28" r="1.45" fill="#26265e" stroke="#16163c" stroke-width="0.45"/><circle cx="72.69" cy="484.76" r="1.45" fill="#26265e" stroke="#16163c" stroke-width="0.45"/><circle cx="72.47" cy="490.34" r="1.45" fill="#26265e" stroke="#16163c" stroke-width="0.45"/><circle cx="72.39" cy="493.82" r="1.45" fill="#26265e" stroke="#16163c" stroke-width="0.45"/><circle cx="73.99" cy="489.55" r="1.45" fill="#26265e" stroke="#16163c" stroke-width="0.45"/><circle cx="73.75" cy="491.56" r="1.45" fill="#26265e" stroke="#16163c" stroke-width="0.45"/><circle cx="73.47" cy="488.26" r="1.45" fill="#26265e" stroke="#16163c" stroke-width="0.45"/><circle cx="75.44" cy="491.53" r="1.45" fill="#26265e" stroke="#16163c" stroke-width="0.45"/><circle cx="74.83" cy="491.65" r="1.45" fill="#26265e" stroke="#16163c" stroke-width="0.45"/><circle cx="75.09" cy="493.92" r="1.45" fill="#26265e" stroke="#16163c" stroke-width="0.45"/><circle cx="75.73" cy="492.17" r="1.45" fill="#26265e" stroke="#16163c" stroke-width="0.45"/><circle cx="76.28" cy="492.34" r="1.45" fill="#26265e" stroke="#16163c" stroke-width="0.45"/><circle cx="76.6" cy="491.44" r="1.45" fill="#26265e" stroke="#16163c" stroke-width="0.45"/><circle cx="77.7" cy="487.32" r="1.45" fill="#26265e" stroke="#16163c" stroke-width="0.45"/><circle cx="77.42" cy="491.73" r="1.45" fill="#26265e" stroke="#16163c" stroke-width="0.45"/><circle cx="77.3" cy="492.3" r="1.45" fill="#26265e" stroke="#16163c" stroke-width="0.45"/><circle cx="78.35" cy="491.25" r="1.45" fill="#26265e" stroke="#16163c" stroke-width="0.45"/><circle cx="78.57" cy="494.91" r="1.45" fill="#26265e" stroke="#16163c" stroke-width="0.45"/><circle cx="78.54" cy="490.03" r="1.45" fill="#26265e" stroke="#16163c" stroke-width="0.45"/><circle cx="79.46" cy="490.19" r="1.45" fill="#26265e" stroke="#16163c" stroke-width="0.45"/><circle cx="79.89" cy="495.03" r="1.45" fill="#26265e" stroke="#16163c" stroke-width="0.45"/><circle cx="80.17" cy="491.36" r="1.45" fill="#26265e" stroke="#16163c" stroke-width="0.45"/><circle cx="80.52" cy="491.82" r="1.45" fill="#26265e" stroke="#16163c" stroke-width="0.45"/><circle cx="81.1" cy="494.92" r="1.45" fill="#26265e" stroke="#16163c" stroke-width="0.45"/><circle cx="80.57" cy="493.51" r="1.45" fill="#26265e" stroke="#16163c" stroke-width="0.45"/><circle cx="82.04" cy="492.31" r="1.45" fill="#26265e" stroke="#16163c" stroke-width="0.45"/><circle cx="82.59" cy="491.12" r="1.45" fill="#26265e" stroke="#16163c" stroke-width="0.45"/><circle cx="81.88" cy="492.52" r="1.45" fill="#26265e" stroke="#16163c" stroke-width="0.45"/><circle cx="83.28" cy="491.02" r="1.45" fill="#26265e" stroke="#16163c" stroke-width="0.45"/><circle cx="83.29" cy="492.87" r="1.45" fill="#26265e" stroke="#16163c" stroke-width="0.45"/><circle cx="83.45" cy="494.76" r="1.45" fill="#26265e" stroke="#16163c" stroke-width="0.45"/><circle cx="85.06" cy="485.46" r="1.45" fill="#26265e" stroke="#16163c" stroke-width="0.45"/><circle cx="84.76" cy="492.6" r="1.45" fill="#26265e" stroke="#16163c" stroke-width="0.45"/><circle cx="84.32" cy="491.98" r="1.45" fill="#26265e" stroke="#16163c" stroke-width="0.45"/><circle cx="86.24" cy="486.4" r="1.45" fill="#26265e" stroke="#16163c" stroke-width="0.45"/><circle cx="86.22" cy="489.29" r="1.45" fill="#26265e" stroke="#16163c" stroke-width="0.45"/><circle cx="85.32" cy="494.21" r="1.45" fill="#26265e" stroke="#16163c" stroke-width="0.45"/><circle cx="87.19" cy="491.56" r="1.45" fill="#26265e" stroke="#16163c" stroke-width="0.45"/><circle cx="87.01" cy="492.01" r="1.45" fill="#26265e" stroke="#16163c" stroke-width="0.45"/><circle cx="86.57" cy="489.72" r="1.45" fill="#26265e" stroke="#16163c" stroke-width="0.45"/><circle cx="87.95" cy="490.12" r="1.45" fill="#26265e" stroke="#16163c" stroke-width="0.45"/><circle cx="88.38" cy="490" r="1.45" fill="#26265e" stroke="#16163c" stroke-width="0.45"/><circle cx="87.99" cy="492.24" r="1.45" fill="#26265e" stroke="#16163c" stroke-width="0.45"/><circle cx="88.93" cy="487.73" r="1.45" fill="#26265e" stroke="#16163c" stroke-width="0.45"/><circle cx="88.92" cy="493.36" r="1.45" fill="#26265e" stroke="#16163c" stroke-width="0.45"/><circle cx="89.02" cy="489.37" r="1.45" fill="#26265e" stroke="#16163c" stroke-width="0.45"/><circle cx="90.41" cy="487.06" r="1.45" fill="#26265e" stroke="#16163c" stroke-width="0.45"/><circle cx="90.41" cy="490.97" r="1.45" fill="#26265e" stroke="#16163c" stroke-width="0.45"/><circle cx="90.2" cy="492.43" r="1.45" fill="#26265e" stroke="#16163c" stroke-width="0.45"/><circle cx="91.52" cy="492.35" r="1.45" fill="#26265e" stroke="#16163c" stroke-width="0.45"/><circle cx="91.58" cy="488.67" r="1.45" fill="#26265e" stroke="#16163c" stroke-width="0.45"/><circle cx="91.98" cy="493.2" r="1.45" fill="#26265e" stroke="#16163c" stroke-width="0.45"/><circle cx="92.88" cy="488.78" r="1.45" fill="#26265e" stroke="#16163c" stroke-width="0.45"/><circle cx="93.29" cy="490.05" r="1.45" fill="#26265e" stroke="#16163c" stroke-width="0.45"/><circle cx="92.68" cy="490.77" r="1.45" fill="#26265e" stroke="#16163c" stroke-width="0.45"/><circle cx="94.41" cy="492.86" r="1.45" fill="#26265e" stroke="#16163c" stroke-width="0.45"/><circle cx="94.48" cy="488.76" r="1.45" fill="#26265e" stroke="#16163c" stroke-width="0.45"/><circle cx="93.83" cy="492.13" r="1.45" fill="#26265e" stroke="#16163c" stroke-width="0.45"/><circle cx="95.48" cy="487.64" r="1.45" fill="#26265e" stroke="#16163c" stroke-width="0.45"/><circle cx="95.29" cy="490.28" r="1.45" fill="#26265e" stroke="#16163c" stroke-width="0.45"/><circle cx="95.48" cy="492.68" r="1.45" fill="#26265e" stroke="#16163c" stroke-width="0.45"/><circle cx="97.04" cy="489.19" r="1.45" fill="#26265e" stroke="#16163c" stroke-width="0.45"/><circle cx="96.49" cy="489.11" r="1.45" fill="#26265e" stroke="#16163c" stroke-width="0.45"/><circle cx="97.03" cy="492.48" r="1.45" fill="#26265e" stroke="#16163c" stroke-width="0.45"/><circle cx="97.39" cy="491.01" r="1.45" fill="#26265e" stroke="#16163c" stroke-width="0.45"/><circle cx="97.82" cy="491.92" r="1.45" fill="#26265e" stroke="#16163c" stroke-width="0.45"/><circle cx="98.18" cy="489.38" r="1.45" fill="#26265e" stroke="#16163c" stroke-width="0.45"/><circle cx="99.13" cy="492.31" r="1.45" fill="#26265e" stroke="#16163c" stroke-width="0.45"/><circle cx="99.33" cy="494.04" r="1.45" fill="#26265e" stroke="#16163c" stroke-width="0.45"/><circle cx="99.46" cy="491.19" r="1.45" fill="#26265e" stroke="#16163c" stroke-width="0.45"/><circle cx="100.02" cy="492.67" r="1.45" fill="#26265e" stroke="#16163c" stroke-width="0.45"/><circle cx="100.31" cy="490.56" r="1.45" fill="#26265e" stroke="#16163c" stroke-width="0.45"/><circle cx="100.02" cy="491.48" r="1.45" fill="#26265e" stroke="#16163c" stroke-width="0.45"/><circle cx="101.79" cy="491.08" r="1.45" fill="#26265e" stroke="#16163c" stroke-width="0.45"/><circle cx="101.38" cy="491.85" r="1.45" fill="#26265e" stroke="#16163c" stroke-width="0.45"/><circle cx="101.15" cy="493.28" r="1.45" fill="#26265e" stroke="#16163c" stroke-width="0.45"/><circle cx="102.97" cy="487.41" r="1.45" fill="#26265e" stroke="#16163c" stroke-width="0.45"/><circle cx="103.08" cy="490.9" r="1.45" fill="#26265e" stroke="#16163c" stroke-width="0.45"/><circle cx="103.04" cy="493.95" r="1.45" fill="#26265e" stroke="#16163c" stroke-width="0.45"/><circle cx="104.01" cy="488.13" r="1.45" fill="#26265e" stroke="#16163c" stroke-width="0.45"/><circle cx="103.75" cy="490" r="1.45" fill="#26265e" stroke="#16163c" stroke-width="0.45"/><circle cx="103.53" cy="490.62" r="1.45" fill="#26265e" stroke="#16163c" stroke-width="0.45"/><circle cx="104.97" cy="492.73" r="1.45" fill="#26265e" stroke="#16163c" stroke-width="0.45"/><circle cx="104.76" cy="488.7" r="1.45" fill="#26265e" stroke="#16163c" stroke-width="0.45"/><circle cx="105.49" cy="489.32" r="1.45" fill="#26265e" stroke="#16163c" stroke-width="0.45"/><circle cx="105.86" cy="482.57" r="1.45" fill="#26265e" stroke="#16163c" stroke-width="0.45"/><circle cx="105.93" cy="493.95" r="1.45" fill="#26265e" stroke="#16163c" stroke-width="0.45"/><circle cx="105.82" cy="492.55" r="1.45" fill="#26265e" stroke="#16163c" stroke-width="0.45"/><circle cx="107.83" cy="494" r="1.45" fill="#26265e" stroke="#16163c" stroke-width="0.45"/><circle cx="107.53" cy="492.56" r="1.45" fill="#26265e" stroke="#16163c" stroke-width="0.45"/><circle cx="107.64" cy="491.89" r="1.45" fill="#26265e" stroke="#16163c" stroke-width="0.45"/><circle cx="108.64" cy="488.63" r="1.45" fill="#26265e" stroke="#16163c" stroke-width="0.45"/><circle cx="108.39" cy="494.42" r="1.45" fill="#26265e" stroke="#16163c" stroke-width="0.45"/><circle cx="108.41" cy="493.54" r="1.45" fill="#26265e" stroke="#16163c" stroke-width="0.45"/><circle cx="109.63" cy="492.56" r="1.45" fill="#26265e" stroke="#16163c" stroke-width="0.45"/><circle cx="110.13" cy="492.8" r="1.45" fill="#26265e" stroke="#16163c" stroke-width="0.45"/><circle cx="109.31" cy="495.03" r="1.45" fill="#26265e" stroke="#16163c" stroke-width="0.45"/><circle cx="111.13" cy="493.58" r="1.45" fill="#26265e" stroke="#16163c" stroke-width="0.45"/><circle cx="111.46" cy="489.96" r="1.45" fill="#26265e" stroke="#16163c" stroke-width="0.45"/><circle cx="111.42" cy="493.57" r="1.45" fill="#26265e" stroke="#16163c" stroke-width="0.45"/><circle cx="112.38" cy="492.28" r="1.45" fill="#26265e" stroke="#16163c" stroke-width="0.45"/><circle cx="111.95" cy="489.47" r="1.45" fill="#26265e" stroke="#16163c" stroke-width="0.45"/><circle cx="111.75" cy="491.74" r="1.45" fill="#26265e" stroke="#16163c" stroke-width="0.45"/><circle cx="113.81" cy="490.96" r="1.45" fill="#26265e" stroke="#16163c" stroke-width="0.45"/><circle cx="113.69" cy="490.99" r="1.45" fill="#26265e" stroke="#16163c" stroke-width="0.45"/><circle cx="113.23" cy="488.72" r="1.45" fill="#26265e" stroke="#16163c" stroke-width="0.45"/><circle cx="114.26" cy="487.39" r="1.45" fill="#26265e" stroke="#16163c" stroke-width="0.45"/><circle cx="114.69" cy="491.36" r="1.45" fill="#26265e" stroke="#16163c" stroke-width="0.45"/><circle cx="114.77" cy="490.21" r="1.45" fill="#26265e" stroke="#16163c" stroke-width="0.45"/><circle cx="116.22" cy="492.66" r="1.45" fill="#26265e" stroke="#16163c" stroke-width="0.45"/><circle cx="116.28" cy="490.37" r="1.45" fill="#26265e" stroke="#16163c" stroke-width="0.45"/><circle cx="116.11" cy="491.49" r="1.45" fill="#26265e" stroke="#16163c" stroke-width="0.45"/><circle cx="116.94" cy="493.21" r="1.45" fill="#26265e" stroke="#16163c" stroke-width="0.45"/><circle cx="116.82" cy="488.9" r="1.45" fill="#26265e" stroke="#16163c" stroke-width="0.45"/><circle cx="117.35" cy="490.69" r="1.45" fill="#26265e" stroke="#16163c" stroke-width="0.45"/><circle cx="118.67" cy="487.89" r="1.45" fill="#26265e" stroke="#16163c" stroke-width="0.45"/><circle cx="117.8" cy="494.49" r="1.45" fill="#26265e" stroke="#16163c" stroke-width="0.45"/><circle cx="118.65" cy="491.21" r="1.45" fill="#26265e" stroke="#16163c" stroke-width="0.45"/><circle cx="119.01" cy="488.65" r="1.45" fill="#26265e" stroke="#16163c" stroke-width="0.45"/><circle cx="119.38" cy="491.94" r="1.45" fill="#26265e" stroke="#16163c" stroke-width="0.45"/><circle cx="119.52" cy="491.8" r="1.45" fill="#26265e" stroke="#16163c" stroke-width="0.45"/><circle cx="120.39" cy="492.31" r="1.45" fill="#26265e" stroke="#16163c" stroke-width="0.45"/><circle cx="120.45" cy="494.36" r="1.45" fill="#26265e" stroke="#16163c" stroke-width="0.45"/><circle cx="120.26" cy="488.49" r="1.45" fill="#26265e" stroke="#16163c" stroke-width="0.45"/><circle cx="121.65" cy="490.36" r="1.45" fill="#26265e" stroke="#16163c" stroke-width="0.45"/><circle cx="121.35" cy="489.14" r="1.45" fill="#26265e" stroke="#16163c" stroke-width="0.45"/><circle cx="121.54" cy="488.82" r="1.45" fill="#26265e" stroke="#16163c" stroke-width="0.45"/><circle cx="123.49" cy="492.59" r="1.45" fill="#26265e" stroke="#16163c" stroke-width="0.45"/><circle cx="123.25" cy="488.32" r="1.45" fill="#26265e" stroke="#16163c" stroke-width="0.45"/><circle cx="123.49" cy="488.64" r="1.45" fill="#26265e" stroke="#16163c" stroke-width="0.45"/><circle cx="124.55" cy="490.41" r="1.45" fill="#26265e" stroke="#16163c" stroke-width="0.45"/><circle cx="124.01" cy="492.31" r="1.45" fill="#26265e" stroke="#16163c" stroke-width="0.45"/><circle cx="123.73" cy="491.57" r="1.45" fill="#26265e" stroke="#16163c" stroke-width="0.45"/><circle cx="125.5" cy="494.52" r="1.45" fill="#26265e" stroke="#16163c" stroke-width="0.45"/><circle cx="125.86" cy="489.81" r="1.45" fill="#26265e" stroke="#16163c" stroke-width="0.45"/><circle cx="125.84" cy="489.32" r="1.45" fill="#26265e" stroke="#16163c" stroke-width="0.45"/><circle cx="126.69" cy="485.9" r="1.45" fill="#26265e" stroke="#16163c" stroke-width="0.45"/><circle cx="126.16" cy="494.54" r="1.45" fill="#26265e" stroke="#16163c" stroke-width="0.45"/><circle cx="126.3" cy="489.73" r="1.45" fill="#26265e" stroke="#16163c" stroke-width="0.45"/><circle cx="127.31" cy="487.97" r="1.45" fill="#26265e" stroke="#16163c" stroke-width="0.45"/><circle cx="127.74" cy="491.14" r="1.45" fill="#26265e" stroke="#16163c" stroke-width="0.45"/><circle cx="127.56" cy="494.59" r="1.45" fill="#26265e" stroke="#16163c" stroke-width="0.45"/><circle cx="129.21" cy="492.82" r="1.45" fill="#26265e" stroke="#16163c" stroke-width="0.45"/><circle cx="128.94" cy="493.93" r="1.45" fill="#26265e" stroke="#16163c" stroke-width="0.45"/><circle cx="129.45" cy="490.82" r="1.45" fill="#26265e" stroke="#16163c" stroke-width="0.45"/><circle cx="129.89" cy="494.01" r="1.45" fill="#26265e" stroke="#16163c" stroke-width="0.45"/><circle cx="129.86" cy="493.55" r="1.45" fill="#26265e" stroke="#16163c" stroke-width="0.45"/><circle cx="129.91" cy="494.58" r="1.45" fill="#26265e" stroke="#16163c" stroke-width="0.45"/><circle cx="131.55" cy="491.44" r="1.45" fill="#26265e" stroke="#16163c" stroke-width="0.45"/><circle cx="131.07" cy="492.54" r="1.45" fill="#26265e" stroke="#16163c" stroke-width="0.45"/><circle cx="131.16" cy="494.44" r="1.45" fill="#26265e" stroke="#16163c" stroke-width="0.45"/><circle cx="132.97" cy="493.82" r="1.45" fill="#26265e" stroke="#16163c" stroke-width="0.45"/><circle cx="132.3" cy="490.04" r="1.45" fill="#26265e" stroke="#16163c" stroke-width="0.45"/><circle cx="132.17" cy="494.86" r="1.45" fill="#26265e" stroke="#16163c" stroke-width="0.45"/><circle cx="133.98" cy="491.72" r="1.45" fill="#26265e" stroke="#16163c" stroke-width="0.45"/><circle cx="133.55" cy="494.52" r="1.45" fill="#26265e" stroke="#16163c" stroke-width="0.45"/><circle cx="133.87" cy="490.26" r="1.45" fill="#26265e" stroke="#16163c" stroke-width="0.45"/><circle cx="134.61" cy="490.91" r="1.45" fill="#26265e" stroke="#16163c" stroke-width="0.45"/><circle cx="135.07" cy="493.73" r="1.45" fill="#26265e" stroke="#16163c" stroke-width="0.45"/><circle cx="135.48" cy="491.11" r="1.45" fill="#26265e" stroke="#16163c" stroke-width="0.45"/><circle cx="136.46" cy="486.82" r="1.45" fill="#26265e" stroke="#16163c" stroke-width="0.45"/><circle cx="135.83" cy="490.17" r="1.45" fill="#26265e" stroke="#16163c" stroke-width="0.45"/><circle cx="136.01" cy="490.85" r="1.45" fill="#26265e" stroke="#16163c" stroke-width="0.45"/><circle cx="136.91" cy="492.42" r="1.45" fill="#26265e" stroke="#16163c" stroke-width="0.45"/><circle cx="137.62" cy="489.07" r="1.45" fill="#26265e" stroke="#16163c" stroke-width="0.45"/><circle cx="137.19" cy="489.79" r="1.45" fill="#26265e" stroke="#16163c" stroke-width="0.45"/><circle cx="138.7" cy="491.86" r="1.45" fill="#26265e" stroke="#16163c" stroke-width="0.45"/><circle cx="138.88" cy="489.17" r="1.45" fill="#26265e" stroke="#16163c" stroke-width="0.45"/><circle cx="138.36" cy="488.5" r="1.45" fill="#26265e" stroke="#16163c" stroke-width="0.45"/><circle cx="139.84" cy="489.97" r="1.45" fill="#26265e" stroke="#16163c" stroke-width="0.45"/><circle cx="139.84" cy="494.33" r="1.45" fill="#26265e" stroke="#16163c" stroke-width="0.45"/><circle cx="139.65" cy="491.27" r="1.45" fill="#26265e" stroke="#16163c" stroke-width="0.45"/><circle cx="140.98" cy="489.59" r="1.45" fill="#26265e" stroke="#16163c" stroke-width="0.45"/><circle cx="140.61" cy="492.23" r="1.45" fill="#26265e" stroke="#16163c" stroke-width="0.45"/><circle cx="141.35" cy="493.11" r="1.45" fill="#26265e" stroke="#16163c" stroke-width="0.45"/><circle cx="142.57" cy="486.32" r="1.45" fill="#26265e" stroke="#16163c" stroke-width="0.45"/><circle cx="141.92" cy="488.92" r="1.45" fill="#26265e" stroke="#16163c" stroke-width="0.45"/><circle cx="142.4" cy="493.18" r="1.45" fill="#26265e" stroke="#16163c" stroke-width="0.45"/><circle cx="143.27" cy="483.35" r="1.45" fill="#26265e" stroke="#16163c" stroke-width="0.45"/><circle cx="143.61" cy="489.94" r="1.45" fill="#26265e" stroke="#16163c" stroke-width="0.45"/><circle cx="143.77" cy="493.6" r="1.45" fill="#26265e" stroke="#16163c" stroke-width="0.45"/><circle cx="144.15" cy="492.75" r="1.45" fill="#26265e" stroke="#16163c" stroke-width="0.45"/><circle cx="144.73" cy="491.91" r="1.45" fill="#26265e" stroke="#16163c" stroke-width="0.45"/><circle cx="144.94" cy="493.19" r="1.45" fill="#26265e" stroke="#16163c" stroke-width="0.45"/><circle cx="145.33" cy="490.97" r="1.45" fill="#26265e" stroke="#16163c" stroke-width="0.45"/><circle cx="145.46" cy="493.25" r="1.45" fill="#26265e" stroke="#16163c" stroke-width="0.45"/><circle cx="145.65" cy="491.94" r="1.45" fill="#26265e" stroke="#16163c" stroke-width="0.45"/><circle cx="147.08" cy="490.31" r="1.45" fill="#26265e" stroke="#16163c" stroke-width="0.45"/><circle cx="146.89" cy="490.83" r="1.45" fill="#26265e" stroke="#16163c" stroke-width="0.45"/><circle cx="147" cy="489.39" r="1.45" fill="#26265e" stroke="#16163c" stroke-width="0.45"/><circle cx="148.31" cy="486.53" r="1.45" fill="#26265e" stroke="#16163c" stroke-width="0.45"/><circle cx="147.96" cy="492.03" r="1.45" fill="#26265e" stroke="#16163c" stroke-width="0.45"/><circle cx="148.46" cy="488.65" r="1.45" fill="#26265e" stroke="#16163c" stroke-width="0.45"/><circle cx="149.34" cy="489.36" r="1.45" fill="#26265e" stroke="#16163c" stroke-width="0.45"/><circle cx="149.15" cy="488.85" r="1.45" fill="#26265e" stroke="#16163c" stroke-width="0.45"/><circle cx="149.44" cy="489.35" r="1.45" fill="#26265e" stroke="#16163c" stroke-width="0.45"/><circle cx="150.18" cy="493.22" r="1.45" fill="#26265e" stroke="#16163c" stroke-width="0.45"/><circle cx="150.83" cy="490.35" r="1.45" fill="#26265e" stroke="#16163c" stroke-width="0.45"/><circle cx="150.4" cy="494.91" r="1.45" fill="#26265e" stroke="#16163c" stroke-width="0.45"/><circle cx="151.84" cy="488.31" r="1.45" fill="#26265e" stroke="#16163c" stroke-width="0.45"/><circle cx="151.87" cy="489.41" r="1.45" fill="#26265e" stroke="#16163c" stroke-width="0.45"/><circle cx="152.21" cy="494.25" r="1.45" fill="#26265e" stroke="#16163c" stroke-width="0.45"/><circle cx="152.83" cy="486.2" r="1.45" fill="#26265e" stroke="#16163c" stroke-width="0.45"/><circle cx="152.89" cy="490.99" r="1.45" fill="#26265e" stroke="#16163c" stroke-width="0.45"/><circle cx="152.62" cy="494.27" r="1.45" fill="#26265e" stroke="#16163c" stroke-width="0.45"/><circle cx="153.95" cy="494.47" r="1.45" fill="#26265e" stroke="#16163c" stroke-width="0.45"/><circle cx="154.28" cy="490.61" r="1.45" fill="#26265e" stroke="#16163c" stroke-width="0.45"/><circle cx="154.52" cy="490.93" r="1.45" fill="#26265e" stroke="#16163c" stroke-width="0.45"/><circle cx="154.98" cy="493.25" r="1.45" fill="#26265e" stroke="#16163c" stroke-width="0.45"/><circle cx="154.98" cy="492.15" r="1.45" fill="#26265e" stroke="#16163c" stroke-width="0.45"/><circle cx="155" cy="494.64" r="1.45" fill="#26265e" stroke="#16163c" stroke-width="0.45"/><circle cx="156.38" cy="491.44" r="1.45" fill="#26265e" stroke="#16163c" stroke-width="0.45"/><circle cx="156.33" cy="489.86" r="1.45" fill="#26265e" stroke="#16163c" stroke-width="0.45"/><circle cx="156.57" cy="493.08" r="1.45" fill="#26265e" stroke="#16163c" stroke-width="0.45"/><circle cx="157.88" cy="493.58" r="1.45" fill="#26265e" stroke="#16163c" stroke-width="0.45"/><circle cx="157.36" cy="489.27" r="1.45" fill="#26265e" stroke="#16163c" stroke-width="0.45"/><circle cx="157.87" cy="489.45" r="1.45" fill="#26265e" stroke="#16163c" stroke-width="0.45"/><circle cx="159.38" cy="490.91" r="1.45" fill="#26265e" stroke="#16163c" stroke-width="0.45"/><circle cx="159.05" cy="493.15" r="1.45" fill="#26265e" stroke="#16163c" stroke-width="0.45"/><circle cx="159.41" cy="491.3" r="1.45" fill="#26265e" stroke="#16163c" stroke-width="0.45"/><circle cx="160.36" cy="485.73" r="1.45" fill="#26265e" stroke="#16163c" stroke-width="0.45"/><circle cx="160.21" cy="491.03" r="1.45" fill="#26265e" stroke="#16163c" stroke-width="0.45"/><circle cx="160.25" cy="490.67" r="1.45" fill="#26265e" stroke="#16163c" stroke-width="0.45"/><circle cx="160.98" cy="491.59" r="1.45" fill="#26265e" stroke="#16163c" stroke-width="0.45"/><circle cx="161.35" cy="491.72" r="1.45" fill="#26265e" stroke="#16163c" stroke-width="0.45"/><circle cx="161.47" cy="493.6" r="1.45" fill="#26265e" stroke="#16163c" stroke-width="0.45"/><circle cx="162.4" cy="490.02" r="1.45" fill="#26265e" stroke="#16163c" stroke-width="0.45"/><circle cx="162.7" cy="494.68" r="1.45" fill="#26265e" stroke="#16163c" stroke-width="0.45"/><circle cx="162.33" cy="494.54" r="1.45" fill="#26265e" stroke="#16163c" stroke-width="0.45"/><circle cx="163.33" cy="490.03" r="1.45" fill="#26265e" stroke="#16163c" stroke-width="0.45"/><circle cx="163.53" cy="488.4" r="1.45" fill="#26265e" stroke="#16163c" stroke-width="0.45"/><circle cx="163.52" cy="490.79" r="1.45" fill="#26265e" stroke="#16163c" stroke-width="0.45"/><circle cx="164.82" cy="490.25" r="1.45" fill="#26265e" stroke="#16163c" stroke-width="0.45"/><circle cx="165.09" cy="491.75" r="1.45" fill="#26265e" stroke="#16163c" stroke-width="0.45"/><circle cx="165.19" cy="490.88" r="1.45" fill="#26265e" stroke="#16163c" stroke-width="0.45"/><circle cx="165.95" cy="492.62" r="1.45" fill="#26265e" stroke="#16163c" stroke-width="0.45"/><circle cx="166.31" cy="492.8" r="1.45" fill="#26265e" stroke="#16163c" stroke-width="0.45"/><circle cx="166.01" cy="492.18" r="1.45" fill="#26265e" stroke="#16163c" stroke-width="0.45"/><circle cx="167.01" cy="493.9" r="1.45" fill="#26265e" stroke="#16163c" stroke-width="0.45"/><circle cx="167.59" cy="491.45" r="1.45" fill="#26265e" stroke="#16163c" stroke-width="0.45"/><circle cx="167.06" cy="490.7" r="1.45" fill="#26265e" stroke="#16163c" stroke-width="0.45"/><circle cx="168.19" cy="491.2" r="1.45" fill="#26265e" stroke="#16163c" stroke-width="0.45"/><circle cx="168.54" cy="490.31" r="1.45" fill="#26265e" stroke="#16163c" stroke-width="0.45"/><circle cx="168.49" cy="490.77" r="1.45" fill="#26265e" stroke="#16163c" stroke-width="0.45"/><circle cx="169.31" cy="493.94" r="1.45" fill="#26265e" stroke="#16163c" stroke-width="0.45"/><circle cx="170.1" cy="488.99" r="1.45" fill="#26265e" stroke="#16163c" stroke-width="0.45"/><circle cx="169.84" cy="492.47" r="1.45" fill="#26265e" stroke="#16163c" stroke-width="0.45"/><circle cx="170.54" cy="488.07" r="1.45" fill="#26265e" stroke="#16163c" stroke-width="0.45"/><circle cx="170.91" cy="493.01" r="1.45" fill="#26265e" stroke="#16163c" stroke-width="0.45"/><circle cx="171.23" cy="489.54" r="1.45" fill="#26265e" stroke="#16163c" stroke-width="0.45"/><circle cx="172.35" cy="492.11" r="1.45" fill="#26265e" stroke="#16163c" stroke-width="0.45"/><circle cx="171.82" cy="492.23" r="1.45" fill="#26265e" stroke="#16163c" stroke-width="0.45"/><circle cx="172.14" cy="490.64" r="1.45" fill="#26265e" stroke="#16163c" stroke-width="0.45"/><circle cx="173.42" cy="492.38" r="1.45" fill="#26265e" stroke="#16163c" stroke-width="0.45"/><circle cx="173.29" cy="493.36" r="1.45" fill="#26265e" stroke="#16163c" stroke-width="0.45"/><circle cx="173.38" cy="488.44" r="1.45" fill="#26265e" stroke="#16163c" stroke-width="0.45"/><circle cx="175.02" cy="491.72" r="1.45" fill="#26265e" stroke="#16163c" stroke-width="0.45"/><circle cx="174.78" cy="488.98" r="1.45" fill="#26265e" stroke="#16163c" stroke-width="0.45"/><circle cx="174.86" cy="488.75" r="1.45" fill="#26265e" stroke="#16163c" stroke-width="0.45"/><circle cx="175.45" cy="488.85" r="1.45" fill="#26265e" stroke="#16163c" stroke-width="0.45"/><circle cx="175.93" cy="489.93" r="1.45" fill="#26265e" stroke="#16163c" stroke-width="0.45"/><circle cx="175.62" cy="488.26" r="1.45" fill="#26265e" stroke="#16163c" stroke-width="0.45"/><circle cx="177.45" cy="487.44" r="1.45" fill="#26265e" stroke="#16163c" stroke-width="0.45"/><circle cx="176.55" cy="488.06" r="1.45" fill="#26265e" stroke="#16163c" stroke-width="0.45"/><circle cx="177.5" cy="492.81" r="1.45" fill="#26265e" stroke="#16163c" stroke-width="0.45"/><circle cx="177.71" cy="488.14" r="1.45" fill="#26265e" stroke="#16163c" stroke-width="0.45"/><circle cx="178.64" cy="493.35" r="1.45" fill="#26265e" stroke="#16163c" stroke-width="0.45"/><circle cx="178.13" cy="489.41" r="1.45" fill="#26265e" stroke="#16163c" stroke-width="0.45"/><circle cx="179.2" cy="487.11" r="1.45" fill="#26265e" stroke="#16163c" stroke-width="0.45"/><circle cx="179.17" cy="488.92" r="1.45" fill="#26265e" stroke="#16163c" stroke-width="0.45"/><circle cx="178.94" cy="492.79" r="1.45" fill="#26265e" stroke="#16163c" stroke-width="0.45"/><circle cx="180.12" cy="491.23" r="1.45" fill="#26265e" stroke="#16163c" stroke-width="0.45"/><circle cx="180.27" cy="491.25" r="1.45" fill="#26265e" stroke="#16163c" stroke-width="0.45"/><circle cx="180.23" cy="489.81" r="1.45" fill="#26265e" stroke="#16163c" stroke-width="0.45"/><circle cx="181.88" cy="493.47" r="1.45" fill="#26265e" stroke="#16163c" stroke-width="0.45"/><circle cx="182.05" cy="489.39" r="1.45" fill="#26265e" stroke="#16163c" stroke-width="0.45"/><circle cx="181.98" cy="489.86" r="1.45" fill="#26265e" stroke="#16163c" stroke-width="0.45"/><circle cx="182.68" cy="491" r="1.45" fill="#26265e" stroke="#16163c" stroke-width="0.45"/><circle cx="182.91" cy="489" r="1.45" fill="#26265e" stroke="#16163c" stroke-width="0.45"/><circle cx="182.57" cy="490.51" r="1.45" fill="#26265e" stroke="#16163c" stroke-width="0.45"/><circle cx="184.05" cy="492.43" r="1.45" fill="#26265e" stroke="#16163c" stroke-width="0.45"/><circle cx="184.04" cy="489.92" r="1.45" fill="#26265e" stroke="#16163c" stroke-width="0.45"/><circle cx="183.82" cy="490.28" r="1.45" fill="#26265e" stroke="#16163c" stroke-width="0.45"/><circle cx="185.41" cy="489.33" r="1.45" fill="#26265e" stroke="#16163c" stroke-width="0.45"/><circle cx="185.6" cy="493.5" r="1.45" fill="#26265e" stroke="#16163c" stroke-width="0.45"/><circle cx="185.71" cy="488.86" r="1.45" fill="#26265e" stroke="#16163c" stroke-width="0.45"/><circle cx="186.44" cy="493.1" r="1.45" fill="#26265e" stroke="#16163c" stroke-width="0.45"/><circle cx="186.18" cy="491.06" r="1.45" fill="#26265e" stroke="#16163c" stroke-width="0.45"/><circle cx="186.52" cy="489.95" r="1.45" fill="#26265e" stroke="#16163c" stroke-width="0.45"/><circle cx="187.72" cy="488.38" r="1.45" fill="#26265e" stroke="#16163c" stroke-width="0.45"/><circle cx="188.13" cy="491.67" r="1.45" fill="#26265e" stroke="#16163c" stroke-width="0.45"/><circle cx="187.48" cy="489.76" r="1.45" fill="#26265e" stroke="#16163c" stroke-width="0.45"/><circle cx="188.92" cy="491.86" r="1.45" fill="#26265e" stroke="#16163c" stroke-width="0.45"/><circle cx="189.43" cy="493.25" r="1.45" fill="#26265e" stroke="#16163c" stroke-width="0.45"/><circle cx="188.86" cy="489.14" r="1.45" fill="#26265e" stroke="#16163c" stroke-width="0.45"/><circle cx="189.92" cy="488.3" r="1.45" fill="#26265e" stroke="#16163c" stroke-width="0.45"/><circle cx="190.58" cy="488.67" r="1.45" fill="#26265e" stroke="#16163c" stroke-width="0.45"/><circle cx="190.39" cy="489.97" r="1.45" fill="#26265e" stroke="#16163c" stroke-width="0.45"/><circle cx="191.48" cy="489.21" r="1.45" fill="#26265e" stroke="#16163c" stroke-width="0.45"/><circle cx="191.46" cy="493.72" r="1.45" fill="#26265e" stroke="#16163c" stroke-width="0.45"/><circle cx="191.39" cy="490.35" r="1.45" fill="#26265e" stroke="#16163c" stroke-width="0.45"/><circle cx="192.9" cy="486.6" r="1.45" fill="#26265e" stroke="#16163c" stroke-width="0.45"/><circle cx="192.19" cy="490.01" r="1.45" fill="#26265e" stroke="#16163c" stroke-width="0.45"/><circle cx="192.38" cy="489.66" r="1.45" fill="#26265e" stroke="#16163c" stroke-width="0.45"/><circle cx="193.62" cy="493.95" r="1.45" fill="#26265e" stroke="#16163c" stroke-width="0.45"/><circle cx="193.63" cy="491.4" r="1.45" fill="#26265e" stroke="#16163c" stroke-width="0.45"/><circle cx="194.07" cy="493.67" r="1.45" fill="#26265e" stroke="#16163c" stroke-width="0.45"/><circle cx="194.74" cy="489.58" r="1.45" fill="#26265e" stroke="#16163c" stroke-width="0.45"/><circle cx="194.86" cy="490.23" r="1.45" fill="#26265e" stroke="#16163c" stroke-width="0.45"/><circle cx="195.15" cy="489.09" r="1.45" fill="#26265e" stroke="#16163c" stroke-width="0.45"/><circle cx="196.45" cy="490.18" r="1.45" fill="#26265e" stroke="#16163c" stroke-width="0.45"/><circle cx="196.44" cy="492.6" r="1.45" fill="#26265e" stroke="#16163c" stroke-width="0.45"/><circle cx="195.82" cy="489.13" r="1.45" fill="#26265e" stroke="#16163c" stroke-width="0.45"/><circle cx="197.87" cy="492.94" r="1.45" fill="#26265e" stroke="#16163c" stroke-width="0.45"/><circle cx="197.34" cy="488.74" r="1.45" fill="#26265e" stroke="#16163c" stroke-width="0.45"/><circle cx="196.92" cy="489.21" r="1.45" fill="#26265e" stroke="#16163c" stroke-width="0.45"/><circle cx="198.63" cy="493.08" r="1.45" fill="#26265e" stroke="#16163c" stroke-width="0.45"/><circle cx="198.33" cy="489.27" r="1.45" fill="#26265e" stroke="#16163c" stroke-width="0.45"/><circle cx="199.09" cy="491.84" r="1.45" fill="#26265e" stroke="#16163c" stroke-width="0.45"/><circle cx="199.91" cy="492.21" r="1.45" fill="#26265e" stroke="#16163c" stroke-width="0.45"/><circle cx="199.48" cy="488.06" r="1.45" fill="#26265e" stroke="#16163c" stroke-width="0.45"/><circle cx="199.71" cy="490.22" r="1.45" fill="#26265e" stroke="#16163c" stroke-width="0.45"/><circle cx="201.07" cy="489.55" r="1.45" fill="#26265e" stroke="#16163c" stroke-width="0.45"/><circle cx="201.01" cy="492.34" r="1.45" fill="#26265e" stroke="#16163c" stroke-width="0.45"/><circle cx="201.35" cy="490.61" r="1.45" fill="#26265e" stroke="#16163c" stroke-width="0.45"/><circle cx="201.87" cy="484.87" r="1.45" fill="#26265e" stroke="#16163c" stroke-width="0.45"/><circle cx="202.61" cy="494.79" r="1.45" fill="#26265e" stroke="#16163c" stroke-width="0.45"/><circle cx="201.85" cy="493.23" r="1.45" fill="#26265e" stroke="#16163c" stroke-width="0.45"/><circle cx="203.75" cy="489.37" r="1.45" fill="#26265e" stroke="#16163c" stroke-width="0.45"/><circle cx="203.03" cy="493.06" r="1.45" fill="#26265e" stroke="#16163c" stroke-width="0.45"/><circle cx="203.85" cy="493.59" r="1.45" fill="#26265e" stroke="#16163c" stroke-width="0.45"/><circle cx="205.04" cy="488.13" r="1.45" fill="#26265e" stroke="#16163c" stroke-width="0.45"/><circle cx="204.91" cy="491.5" r="1.45" fill="#26265e" stroke="#16163c" stroke-width="0.45"/><circle cx="204.45" cy="493.24" r="1.45" fill="#26265e" stroke="#16163c" stroke-width="0.45"/><circle cx="205.49" cy="488.92" r="1.45" fill="#26265e" stroke="#16163c" stroke-width="0.45"/><circle cx="206.14" cy="493.26" r="1.45" fill="#26265e" stroke="#16163c" stroke-width="0.45"/><circle cx="205.41" cy="489.48" r="1.45" fill="#26265e" stroke="#16163c" stroke-width="0.45"/><circle cx="207.06" cy="485.01" r="1.45" fill="#26265e" stroke="#16163c" stroke-width="0.45"/><circle cx="206.74" cy="489.97" r="1.45" fill="#26265e" stroke="#16163c" stroke-width="0.45"/><circle cx="207.32" cy="489.58" r="1.45" fill="#26265e" stroke="#16163c" stroke-width="0.45"/><circle cx="208.33" cy="491.78" r="1.45" fill="#26265e" stroke="#16163c" stroke-width="0.45"/><circle cx="207.7" cy="490.63" r="1.45" fill="#26265e" stroke="#16163c" stroke-width="0.45"/><circle cx="208.64" cy="491.43" r="1.45" fill="#26265e" stroke="#16163c" stroke-width="0.45"/><circle cx="209.34" cy="494.2" r="1.45" fill="#26265e" stroke="#16163c" stroke-width="0.45"/><circle cx="209.77" cy="492.39" r="1.45" fill="#26265e" stroke="#16163c" stroke-width="0.45"/><circle cx="209.1" cy="494.64" r="1.45" fill="#26265e" stroke="#16163c" stroke-width="0.45"/><circle cx="210.49" cy="487.27" r="1.45" fill="#26265e" stroke="#16163c" stroke-width="0.45"/><circle cx="210.39" cy="495.11" r="1.45" fill="#26265e" stroke="#16163c" stroke-width="0.45"/><circle cx="210.72" cy="490.84" r="1.45" fill="#26265e" stroke="#16163c" stroke-width="0.45"/><circle cx="211.33" cy="485.56" r="1.45" fill="#26265e" stroke="#16163c" stroke-width="0.45"/><circle cx="211.88" cy="490.48" r="1.45" fill="#26265e" stroke="#16163c" stroke-width="0.45"/><circle cx="211.72" cy="493.57" r="1.45" fill="#26265e" stroke="#16163c" stroke-width="0.45"/><circle cx="212.66" cy="491.26" r="1.45" fill="#26265e" stroke="#16163c" stroke-width="0.45"/><circle cx="213.26" cy="489.47" r="1.45" fill="#26265e" stroke="#16163c" stroke-width="0.45"/><circle cx="213.18" cy="489.08" r="1.45" fill="#26265e" stroke="#16163c" stroke-width="0.45"/><circle cx="214.3" cy="488.39" r="1.45" fill="#26265e" stroke="#16163c" stroke-width="0.45"/><circle cx="213.97" cy="488.42" r="1.45" fill="#26265e" stroke="#16163c" stroke-width="0.45"/><circle cx="213.72" cy="489.67" r="1.45" fill="#26265e" stroke="#16163c" stroke-width="0.45"/><circle cx="215.15" cy="492.37" r="1.45" fill="#26265e" stroke="#16163c" stroke-width="0.45"/><circle cx="215.82" cy="491.49" r="1.45" fill="#26265e" stroke="#16163c" stroke-width="0.45"/><circle cx="215.39" cy="490.48" r="1.45" fill="#26265e" stroke="#16163c" stroke-width="0.45"/><circle cx="217.04" cy="485.55" r="1.45" fill="#26265e" stroke="#16163c" stroke-width="0.45"/><circle cx="216.24" cy="493.83" r="1.45" fill="#26265e" stroke="#16163c" stroke-width="0.45"/><circle cx="216.25" cy="493.07" r="1.45" fill="#26265e" stroke="#16163c" stroke-width="0.45"/><circle cx="217.44" cy="487.18" r="1.45" fill="#26265e" stroke="#16163c" stroke-width="0.45"/><circle cx="217.62" cy="494.6" r="1.45" fill="#26265e" stroke="#16163c" stroke-width="0.45"/><circle cx="218.07" cy="490.25" r="1.45" fill="#26265e" stroke="#16163c" stroke-width="0.45"/><circle cx="219.42" cy="491.03" r="1.45" fill="#26265e" stroke="#16163c" stroke-width="0.45"/><circle cx="218.62" cy="488.88" r="1.45" fill="#26265e" stroke="#16163c" stroke-width="0.45"/><circle cx="219.28" cy="490.06" r="1.45" fill="#26265e" stroke="#16163c" stroke-width="0.45"/><circle cx="219.86" cy="488.31" r="1.45" fill="#26265e" stroke="#16163c" stroke-width="0.45"/><circle cx="220.07" cy="491.76" r="1.45" fill="#26265e" stroke="#16163c" stroke-width="0.45"/><circle cx="220.5" cy="492.33" r="1.45" fill="#26265e" stroke="#16163c" stroke-width="0.45"/><circle cx="221.55" cy="487.62" r="1.45" fill="#26265e" stroke="#16163c" stroke-width="0.45"/><circle cx="220.96" cy="494.11" r="1.45" fill="#26265e" stroke="#16163c" stroke-width="0.45"/><circle cx="221.75" cy="492.32" r="1.45" fill="#26265e" stroke="#16163c" stroke-width="0.45"/><circle cx="222.72" cy="488.24" r="1.45" fill="#26265e" stroke="#16163c" stroke-width="0.45"/><circle cx="223.1" cy="489.56" r="1.45" fill="#26265e" stroke="#16163c" stroke-width="0.45"/><circle cx="222.96" cy="490.06" r="1.45" fill="#26265e" stroke="#16163c" stroke-width="0.45"/><circle cx="224.11" cy="485.37" r="1.45" fill="#26265e" stroke="#16163c" stroke-width="0.45"/><circle cx="223.34" cy="494.56" r="1.45" fill="#26265e" stroke="#16163c" stroke-width="0.45"/><circle cx="223.54" cy="488.57" r="1.45" fill="#26265e" stroke="#16163c" stroke-width="0.45"/><circle cx="225.13" cy="491.98" r="1.45" fill="#26265e" stroke="#16163c" stroke-width="0.45"/><circle cx="225.3" cy="494.9" r="1.45" fill="#26265e" stroke="#16163c" stroke-width="0.45"/><circle cx="225.24" cy="493" r="1.45" fill="#26265e" stroke="#16163c" stroke-width="0.45"/><circle cx="226.12" cy="479.98" r="1.45" fill="#26265e" stroke="#16163c" stroke-width="0.45"/><circle cx="226.56" cy="490.69" r="1.45" fill="#26265e" stroke="#16163c" stroke-width="0.45"/><circle cx="225.95" cy="490.08" r="1.45" fill="#26265e" stroke="#16163c" stroke-width="0.45"/><circle cx="227.52" cy="494.42" r="1.45" fill="#26265e" stroke="#16163c" stroke-width="0.45"/><circle cx="227.45" cy="494.67" r="1.45" fill="#26265e" stroke="#16163c" stroke-width="0.45"/><circle cx="227.19" cy="490.94" r="1.45" fill="#26265e" stroke="#16163c" stroke-width="0.45"/><circle cx="66.39" cy="479.74" r="1.45" fill="#26265e" stroke="#16163c" stroke-width="0.45"/><circle cx="72.64" cy="478.81" r="1.45" fill="#26265e" stroke="#16163c" stroke-width="0.45"/><circle cx="82.84" cy="484.38" r="1.45" fill="#26265e" stroke="#16163c" stroke-width="0.45"/><circle cx="92.16" cy="483.62" r="1.45" fill="#26265e" stroke="#16163c" stroke-width="0.45"/><circle cx="98.89" cy="484.6" r="1.45" fill="#26265e" stroke="#16163c" stroke-width="0.45"/><circle cx="106.21" cy="483.35" r="1.45" fill="#26265e" stroke="#16163c" stroke-width="0.45"/><circle cx="113.59" cy="483" r="1.45" fill="#26265e" stroke="#16163c" stroke-width="0.45"/><circle cx="44.74" cy="482.79" r="1.45" fill="#26265e" stroke="#16163c" stroke-width="0.45"/><circle cx="52.25" cy="485.48" r="1.45" fill="#26265e" stroke="#16163c" stroke-width="0.45"/><circle cx="59.78" cy="484.04" r="1.45" fill="#26265e" stroke="#16163c" stroke-width="0.45"/><circle cx="137.81" cy="477.56" r="1.45" fill="#26265e" stroke="#16163c" stroke-width="0.45"/><circle cx="141.1" cy="479.66" r="1.45" fill="#26265e" stroke="#16163c" stroke-width="0.45"/><circle cx="145.19" cy="481.25" r="1.45" fill="#26265e" stroke="#16163c" stroke-width="0.45"/><circle cx="148.64" cy="480.1" r="1.45" fill="#26265e" stroke="#16163c" stroke-width="0.45"/><circle cx="152.71" cy="482.26" r="1.45" fill="#26265e" stroke="#16163c" stroke-width="0.45"/><circle cx="156.79" cy="481.19" r="1.45" fill="#26265e" stroke="#16163c" stroke-width="0.45"/><circle cx="162.15" cy="483.08" r="1.45" fill="#26265e" stroke="#16163c" stroke-width="0.45"/><circle cx="166.72" cy="482.33" r="1.45" fill="#26265e" stroke="#16163c" stroke-width="0.45"/><circle cx="170.85" cy="484.27" r="1.45" fill="#26265e" stroke="#16163c" stroke-width="0.45"/><circle cx="175.97" cy="480.95" r="1.45" fill="#26265e" stroke="#16163c" stroke-width="0.45"/><circle cx="136.21" cy="475.84" r="1.45" fill="#26265e" stroke="#16163c" stroke-width="0.45"/><circle cx="144.26" cy="477.94" r="1.45" fill="#26265e" stroke="#16163c" stroke-width="0.45"/><circle cx="150.24" cy="478.2" r="1.45" fill="#26265e" stroke="#16163c" stroke-width="0.45"/><circle cx="188.45" cy="475.91" r="1.45" fill="#26265e" stroke="#16163c" stroke-width="0.45"/><circle cx="195.85" cy="476.49" r="1.45" fill="#26265e" stroke="#16163c" stroke-width="0.45"/><circle cx="205.02" cy="483.92" r="1.45" fill="#26265e" stroke="#16163c" stroke-width="0.45"/><circle cx="210.2" cy="479.75" r="1.45" fill="#26265e" stroke="#16163c" stroke-width="0.45"/><circle cx="218.46" cy="483.25" r="1.45" fill="#26265e" stroke="#16163c" stroke-width="0.45"/><circle cx="224.15" cy="481.79" r="1.45" fill="#26265e" stroke="#16163c" stroke-width="0.45"/><circle cx="180.31" cy="484.42" r="1.45" fill="#26265e" stroke="#16163c" stroke-width="0.45"/><circle cx="186.29" cy="482.41" r="1.45" fill="#26265e" stroke="#16163c" stroke-width="0.45"/><circle cx="32" cy="472" r="1.45" fill="#26265e" stroke="#16163c" stroke-width="0.45"/><circle cx="33.5" cy="476" r="1.45" fill="#26265e" stroke="#16163c" stroke-width="0.45"/><circle cx="35" cy="478" r="1.45" fill="#26265e" stroke="#16163c" stroke-width="0.45"/><circle cx="36.5" cy="480" r="1.45" fill="#26265e" stroke="#16163c" stroke-width="0.45"/><circle cx="38" cy="477" r="1.45" fill="#26265e" stroke="#16163c" stroke-width="0.45"/><circle cx="40" cy="479" r="1.45" fill="#26265e" stroke="#16163c" stroke-width="0.45"/><circle cx="41.5" cy="482" r="1.45" fill="#26265e" stroke="#16163c" stroke-width="0.45"/><circle cx="33" cy="481" r="1.45" fill="#26265e" stroke="#16163c" stroke-width="0.45"/><circle cx="36" cy="483" r="1.45" fill="#26265e" stroke="#16163c" stroke-width="0.45"/><circle cx="39.5" cy="484" r="1.45" fill="#26265e" stroke="#16163c" stroke-width="0.45"/><circle cx="34" cy="485" r="1.45" fill="#26265e" stroke="#16163c" stroke-width="0.45"/><circle cx="42.5" cy="484" r="1.45" fill="#26265e" stroke="#16163c" stroke-width="0.45"/><circle cx="39.3" cy="474.5" r="1.45" fill="#9aa8c0" stroke="#404060" stroke-width="0.45"/><circle cx="134.14" cy="462.83" r="1.45" fill="#26265e" stroke="#16163c" stroke-width="0.45"/><circle cx="133.99" cy="467.32" r="1.45" fill="#26265e" stroke="#16163c" stroke-width="0.45"/><circle cx="134.88" cy="462.66" r="1.45" fill="#26265e" stroke="#16163c" stroke-width="0.45"/><circle cx="134.57" cy="463.6" r="1.45" fill="#26265e" stroke="#16163c" stroke-width="0.45"/><circle cx="135.9" cy="467.51" r="1.45" fill="#26265e" stroke="#16163c" stroke-width="0.45"/><circle cx="135.85" cy="465.76" r="1.45" fill="#26265e" stroke="#16163c" stroke-width="0.45"/><circle cx="136.53" cy="465.87" r="1.45" fill="#26265e" stroke="#16163c" stroke-width="0.45"/><circle cx="136.42" cy="462.68" r="1.45" fill="#26265e" stroke="#16163c" stroke-width="0.45"/><circle cx="137.45" cy="464.8" r="1.45" fill="#26265e" stroke="#16163c" stroke-width="0.45"/><circle cx="137.18" cy="463.62" r="1.45" fill="#26265e" stroke="#16163c" stroke-width="0.45"/><circle cx="138.06" cy="463.74" r="1.45" fill="#26265e" stroke="#16163c" stroke-width="0.45"/><circle cx="138.08" cy="467.16" r="1.45" fill="#26265e" stroke="#16163c" stroke-width="0.45"/><circle cx="139.13" cy="463.94" r="1.45" fill="#26265e" stroke="#16163c" stroke-width="0.45"/><circle cx="139.1" cy="463.11" r="1.45" fill="#26265e" stroke="#16163c" stroke-width="0.45"/><circle cx="139.68" cy="464.75" r="1.45" fill="#26265e" stroke="#16163c" stroke-width="0.45"/><circle cx="139.97" cy="467.04" r="1.45" fill="#26265e" stroke="#16163c" stroke-width="0.45"/><circle cx="141.09" cy="462.28" r="1.45" fill="#26265e" stroke="#16163c" stroke-width="0.45"/><circle cx="140.94" cy="462.41" r="1.45" fill="#26265e" stroke="#16163c" stroke-width="0.45"/><circle cx="141.5" cy="464.12" r="1.45" fill="#26265e" stroke="#16163c" stroke-width="0.45"/><circle cx="141.64" cy="463.53" r="1.45" fill="#26265e" stroke="#16163c" stroke-width="0.45"/><circle cx="142.35" cy="463.37" r="1.45" fill="#26265e" stroke="#16163c" stroke-width="0.45"/><circle cx="142.46" cy="463.63" r="1.45" fill="#26265e" stroke="#16163c" stroke-width="0.45"/><circle cx="143.17" cy="465.1" r="1.45" fill="#26265e" stroke="#16163c" stroke-width="0.45"/><circle cx="143.55" cy="461.37" r="1.45" fill="#26265e" stroke="#16163c" stroke-width="0.45"/><circle cx="144.28" cy="461.4" r="1.45" fill="#26265e" stroke="#16163c" stroke-width="0.45"/><circle cx="144.49" cy="464.19" r="1.45" fill="#26265e" stroke="#16163c" stroke-width="0.45"/><circle cx="145.28" cy="462" r="1.45" fill="#26265e" stroke="#16163c" stroke-width="0.45"/><circle cx="144.85" cy="461.65" r="1.45" fill="#26265e" stroke="#16163c" stroke-width="0.45"/><circle cx="145.7" cy="464.6" r="1.45" fill="#26265e" stroke="#16163c" stroke-width="0.45"/><circle cx="146.01" cy="464.21" r="1.45" fill="#26265e" stroke="#16163c" stroke-width="0.45"/><circle cx="146.92" cy="461.45" r="1.45" fill="#26265e" stroke="#16163c" stroke-width="0.45"/><circle cx="147.03" cy="463.18" r="1.45" fill="#26265e" stroke="#16163c" stroke-width="0.45"/><circle cx="147.35" cy="460.71" r="1.45" fill="#26265e" stroke="#16163c" stroke-width="0.45"/><circle cx="147.45" cy="464.24" r="1.45" fill="#26265e" stroke="#16163c" stroke-width="0.45"/><circle cx="148.7" cy="462.89" r="1.45" fill="#26265e" stroke="#16163c" stroke-width="0.45"/><circle cx="148.18" cy="462.55" r="1.45" fill="#26265e" stroke="#16163c" stroke-width="0.45"/><circle cx="149.33" cy="461.3" r="1.45" fill="#26265e" stroke="#16163c" stroke-width="0.45"/><circle cx="149.45" cy="464.96" r="1.45" fill="#26265e" stroke="#16163c" stroke-width="0.45"/><circle cx="149.99" cy="463.12" r="1.45" fill="#26265e" stroke="#16163c" stroke-width="0.45"/><circle cx="149.98" cy="461.13" r="1.45" fill="#26265e" stroke="#16163c" stroke-width="0.45"/><circle cx="151.24" cy="461.46" r="1.45" fill="#26265e" stroke="#16163c" stroke-width="0.45"/><circle cx="150.77" cy="462.66" r="1.45" fill="#26265e" stroke="#16163c" stroke-width="0.45"/><circle cx="151.82" cy="463.92" r="1.45" fill="#26265e" stroke="#16163c" stroke-width="0.45"/><circle cx="152.14" cy="460.38" r="1.45" fill="#26265e" stroke="#16163c" stroke-width="0.45"/><circle cx="152.56" cy="465.62" r="1.45" fill="#26265e" stroke="#16163c" stroke-width="0.45"/><circle cx="152.67" cy="464.96" r="1.45" fill="#26265e" stroke="#16163c" stroke-width="0.45"/><circle cx="153.69" cy="463.95" r="1.45" fill="#26265e" stroke="#16163c" stroke-width="0.45"/><circle cx="154.36" cy="464.62" r="1.45" fill="#26265e" stroke="#16163c" stroke-width="0.45"/><circle cx="154.51" cy="462.52" r="1.45" fill="#26265e" stroke="#16163c" stroke-width="0.45"/><circle cx="155.18" cy="465.65" r="1.45" fill="#26265e" stroke="#16163c" stroke-width="0.45"/><circle cx="155.95" cy="460.61" r="1.45" fill="#26265e" stroke="#16163c" stroke-width="0.45"/><circle cx="157.21" cy="461.32" r="1.45" fill="#26265e" stroke="#16163c" stroke-width="0.45"/><circle cx="157.98" cy="465.27" r="1.45" fill="#26265e" stroke="#16163c" stroke-width="0.45"/><circle cx="158.05" cy="464.51" r="1.45" fill="#26265e" stroke="#16163c" stroke-width="0.45"/><circle cx="158.53" cy="464.35" r="1.45" fill="#26265e" stroke="#16163c" stroke-width="0.45"/><circle cx="158.37" cy="465.66" r="1.45" fill="#26265e" stroke="#16163c" stroke-width="0.45"/><circle cx="159.45" cy="465.33" r="1.45" fill="#26265e" stroke="#16163c" stroke-width="0.45"/><circle cx="160.53" cy="462.49" r="1.45" fill="#26265e" stroke="#16163c" stroke-width="0.45"/><circle cx="160.19" cy="464.5" r="1.45" fill="#26265e" stroke="#16163c" stroke-width="0.45"/><circle cx="160.93" cy="464.52" r="1.45" fill="#26265e" stroke="#16163c" stroke-width="0.45"/><circle cx="162.3" cy="465.19" r="1.45" fill="#26265e" stroke="#16163c" stroke-width="0.45"/><circle cx="162.71" cy="461.97" r="1.45" fill="#26265e" stroke="#16163c" stroke-width="0.45"/><circle cx="163.66" cy="462.92" r="1.45" fill="#26265e" stroke="#16163c" stroke-width="0.45"/><circle cx="163.8" cy="461.49" r="1.45" fill="#26265e" stroke="#16163c" stroke-width="0.45"/><circle cx="164.9" cy="464.98" r="1.45" fill="#26265e" stroke="#16163c" stroke-width="0.45"/><circle cx="165.27" cy="460.92" r="1.45" fill="#26265e" stroke="#16163c" stroke-width="0.45"/><circle cx="165.3" cy="460.63" r="1.45" fill="#26265e" stroke="#16163c" stroke-width="0.45"/><circle cx="166.07" cy="464.83" r="1.45" fill="#26265e" stroke="#16163c" stroke-width="0.45"/><circle cx="166.18" cy="464.37" r="1.45" fill="#26265e" stroke="#16163c" stroke-width="0.45"/><circle cx="167.14" cy="462.1" r="1.45" fill="#26265e" stroke="#16163c" stroke-width="0.45"/><circle cx="167.12" cy="463.3" r="1.45" fill="#26265e" stroke="#16163c" stroke-width="0.45"/><circle cx="168.04" cy="461.6" r="1.45" fill="#26265e" stroke="#16163c" stroke-width="0.45"/><circle cx="167.71" cy="466.15" r="1.45" fill="#26265e" stroke="#16163c" stroke-width="0.45"/><circle cx="168.9" cy="461.53" r="1.45" fill="#26265e" stroke="#16163c" stroke-width="0.45"/><circle cx="168.7" cy="462.91" r="1.45" fill="#26265e" stroke="#16163c" stroke-width="0.45"/><circle cx="169.58" cy="466.94" r="1.45" fill="#26265e" stroke="#16163c" stroke-width="0.45"/><circle cx="169.77" cy="466.55" r="1.45" fill="#26265e" stroke="#16163c" stroke-width="0.45"/><circle cx="170.41" cy="461.53" r="1.45" fill="#26265e" stroke="#16163c" stroke-width="0.45"/><circle cx="170.57" cy="461.79" r="1.45" fill="#26265e" stroke="#16163c" stroke-width="0.45"/><circle cx="171.13" cy="466.77" r="1.45" fill="#26265e" stroke="#16163c" stroke-width="0.45"/><circle cx="171.12" cy="461.66" r="1.45" fill="#26265e" stroke="#16163c" stroke-width="0.45"/><circle cx="172.05" cy="463.21" r="1.45" fill="#26265e" stroke="#16163c" stroke-width="0.45"/><circle cx="172.42" cy="467.24" r="1.45" fill="#26265e" stroke="#16163c" stroke-width="0.45"/><circle cx="173.15" cy="467.16" r="1.45" fill="#26265e" stroke="#16163c" stroke-width="0.45"/><circle cx="173.23" cy="466.47" r="1.45" fill="#26265e" stroke="#16163c" stroke-width="0.45"/><circle cx="174.04" cy="463.49" r="1.45" fill="#26265e" stroke="#16163c" stroke-width="0.45"/><circle cx="173.93" cy="463.47" r="1.45" fill="#26265e" stroke="#16163c" stroke-width="0.45"/><circle cx="174.63" cy="466.65" r="1.45" fill="#26265e" stroke="#16163c" stroke-width="0.45"/><circle cx="175.01" cy="462.89" r="1.45" fill="#26265e" stroke="#16163c" stroke-width="0.45"/><circle cx="175.45" cy="464.65" r="1.45" fill="#26265e" stroke="#16163c" stroke-width="0.45"/><circle cx="175.52" cy="463.81" r="1.45" fill="#26265e" stroke="#16163c" stroke-width="0.45"/><circle cx="176.48" cy="467.25" r="1.45" fill="#26265e" stroke="#16163c" stroke-width="0.45"/><circle cx="176.48" cy="467.39" r="1.45" fill="#26265e" stroke="#16163c" stroke-width="0.45"/><circle cx="177.6" cy="467.58" r="1.45" fill="#26265e" stroke="#16163c" stroke-width="0.45"/><circle cx="177.52" cy="465.43" r="1.45" fill="#26265e" stroke="#16163c" stroke-width="0.45"/><circle cx="177.97" cy="463.89" r="1.45" fill="#26265e" stroke="#16163c" stroke-width="0.45"/><circle cx="177.93" cy="465.72" r="1.45" fill="#26265e" stroke="#16163c" stroke-width="0.45"/><circle cx="179.12" cy="465.02" r="1.45" fill="#26265e" stroke="#16163c" stroke-width="0.45"/><circle cx="179.29" cy="466.76" r="1.45" fill="#26265e" stroke="#16163c" stroke-width="0.45"/><circle cx="180.12" cy="463.57" r="1.45" fill="#26265e" stroke="#16163c" stroke-width="0.45"/><circle cx="179.97" cy="465.27" r="1.45" fill="#26265e" stroke="#16163c" stroke-width="0.45"/><circle cx="180.96" cy="465.15" r="1.45" fill="#26265e" stroke="#16163c" stroke-width="0.45"/><circle cx="180.45" cy="464.21" r="1.45" fill="#26265e" stroke="#16163c" stroke-width="0.45"/><circle cx="181.7" cy="467.37" r="1.45" fill="#26265e" stroke="#16163c" stroke-width="0.45"/><circle cx="181.37" cy="466.72" r="1.45" fill="#26265e" stroke="#16163c" stroke-width="0.45"/><circle cx="183" cy="461" r="1.45" fill="#26265e" stroke="#16163c" stroke-width="0.45"/><circle cx="186" cy="465" r="1.45" fill="#26265e" stroke="#16163c" stroke-width="0.45"/><circle cx="188" cy="468" r="1.45" fill="#26265e" stroke="#16163c" stroke-width="0.45"/><circle cx="190" cy="463" r="1.45" fill="#26265e" stroke="#16163c" stroke-width="0.45"/><circle cx="193" cy="457.5" r="1.45" fill="#26265e" stroke="#16163c" stroke-width="0.45"/><circle cx="195" cy="466" r="1.45" fill="#26265e" stroke="#16163c" stroke-width="0.45"/><circle cx="197" cy="470" r="1.45" fill="#26265e" stroke="#16163c" stroke-width="0.45"/><circle cx="200" cy="472" r="1.45" fill="#26265e" stroke="#16163c" stroke-width="0.45"/><circle cx="185" cy="470" r="1.45" fill="#26265e" stroke="#16163c" stroke-width="0.45"/><circle cx="192" cy="472" r="1.45" fill="#26265e" stroke="#16163c" stroke-width="0.45"/><circle cx="199" cy="466" r="1.45" fill="#26265e" stroke="#16163c" stroke-width="0.45"/><circle cx="128.24" cy="435.02" r="1.45" fill="#6cb552" stroke="#3a7a2a" stroke-width="0.45"/><circle cx="124.79" cy="445.57" r="1.45" fill="#6cb552" stroke="#3a7a2a" stroke-width="0.45"/><circle cx="127.97" cy="442.62" r="1.45" fill="#6cb552" stroke="#3a7a2a" stroke-width="0.45"/><circle cx="129.73" cy="433.88" r="1.45" fill="#6cb552" stroke="#3a7a2a" stroke-width="0.45"/><circle cx="123.72" cy="437.43" r="1.45" fill="#6cb552" stroke="#3a7a2a" stroke-width="0.45"/><circle cx="128.67" cy="441.09" r="1.45" fill="#6cb552" stroke="#3a7a2a" stroke-width="0.45"/><circle cx="128.51" cy="444.55" r="1.45" fill="#6cb552" stroke="#3a7a2a" stroke-width="0.45"/><circle cx="128.31" cy="447.7" r="1.45" fill="#6cb552" stroke="#3a7a2a" stroke-width="0.45"/><circle cx="130.58" cy="444.02" r="1.45" fill="#6cb552" stroke="#3a7a2a" stroke-width="0.45"/><circle cx="124.23" cy="432.97" r="1.45" fill="#6cb552" stroke="#3a7a2a" stroke-width="0.45"/><circle cx="123.82" cy="447.44" r="1.45" fill="#6cb552" stroke="#3a7a2a" stroke-width="0.45"/><circle cx="122.95" cy="433.06" r="1.45" fill="#6cb552" stroke="#3a7a2a" stroke-width="0.45"/><circle cx="124.06" cy="444.55" r="1.45" fill="#6cb552" stroke="#3a7a2a" stroke-width="0.45"/><circle cx="135" cy="432.51" r="1.45" fill="#6cb552" stroke="#3a7a2a" stroke-width="0.45"/><circle cx="122.68" cy="444.56" r="1.45" fill="#6cb552" stroke="#3a7a2a" stroke-width="0.45"/><circle cx="123.41" cy="446.82" r="1.45" fill="#6cb552" stroke="#3a7a2a" stroke-width="0.45"/><circle cx="128.71" cy="440.64" r="1.45" fill="#6cb552" stroke="#3a7a2a" stroke-width="0.45"/><circle cx="128.91" cy="438.46" r="1.45" fill="#6cb552" stroke="#3a7a2a" stroke-width="0.45"/><circle cx="131.16" cy="431.64" r="1.45" fill="#6cb552" stroke="#3a7a2a" stroke-width="0.45"/><circle cx="127.4" cy="439.71" r="1.45" fill="#6cb552" stroke="#3a7a2a" stroke-width="0.45"/><circle cx="120.31" cy="443.78" r="1.45" fill="#6cb552" stroke="#3a7a2a" stroke-width="0.45"/><circle cx="123.87" cy="447.89" r="1.45" fill="#6cb552" stroke="#3a7a2a" stroke-width="0.45"/><circle cx="127.91" cy="442.86" r="1.45" fill="#6cb552" stroke="#3a7a2a" stroke-width="0.45"/><circle cx="124.87" cy="447.36" r="1.45" fill="#6cb552" stroke="#3a7a2a" stroke-width="0.45"/><circle cx="125.11" cy="443.9" r="1.45" fill="#6cb552" stroke="#3a7a2a" stroke-width="0.45"/><circle cx="125.43" cy="440.94" r="1.45" fill="#6cb552" stroke="#3a7a2a" stroke-width="0.45"/><circle cx="129.48" cy="434.17" r="1.45" fill="#6cb552" stroke="#3a7a2a" stroke-width="0.45"/><circle cx="130.78" cy="436.62" r="1.45" fill="#6cb552" stroke="#3a7a2a" stroke-width="0.45"/><circle cx="129.38" cy="431.04" r="1.45" fill="#6cb552" stroke="#3a7a2a" stroke-width="0.45"/><circle cx="126.89" cy="443.01" r="1.45" fill="#6cb552" stroke="#3a7a2a" stroke-width="0.45"/><circle cx="127.4" cy="441.99" r="1.45" fill="#6cb552" stroke="#3a7a2a" stroke-width="0.45"/><circle cx="125.29" cy="443.76" r="1.45" fill="#6cb552" stroke="#3a7a2a" stroke-width="0.45"/><circle cx="127.17" cy="442.5" r="1.45" fill="#6cb552" stroke="#3a7a2a" stroke-width="0.45"/><circle cx="126.88" cy="433.97" r="1.45" fill="#6cb552" stroke="#3a7a2a" stroke-width="0.45"/><circle cx="128.21" cy="432.01" r="1.45" fill="#6cb552" stroke="#3a7a2a" stroke-width="0.45"/><circle cx="128.77" cy="437.88" r="1.45" fill="#6cb552" stroke="#3a7a2a" stroke-width="0.45"/><circle cx="123.5" cy="421.5" r="1.45" fill="#6cb552" stroke="#3a7a2a" stroke-width="0.45"/><circle cx="124.3" cy="422.3" r="1.45" fill="#6cb552" stroke="#3a7a2a" stroke-width="0.45"/><circle cx="134.5" cy="443.5" r="1.45" fill="#9ccbe6" stroke="#4a7890" stroke-width="0.45"/><circle cx="132.5" cy="447" r="1.45" fill="#9ccbe6" stroke="#4a7890" stroke-width="0.45"/><circle cx="133" cy="450" r="1.45" fill="#9ccbe6" stroke="#4a7890" stroke-width="0.45"/><circle cx="134" cy="453" r="1.45" fill="#9ccbe6" stroke="#4a7890" stroke-width="0.45"/><circle cx="135" cy="455.5" r="1.45" fill="#9ccbe6" stroke="#4a7890" stroke-width="0.45"/><circle cx="134" cy="458" r="1.45" fill="#9ccbe6" stroke="#4a7890" stroke-width="0.45"/><circle cx="134.6" cy="460.3" r="1.45" fill="#9ccbe6" stroke="#4a7890" stroke-width="0.45"/><circle cx="133.2" cy="455.8" r="1.45" fill="#9ccbe6" stroke="#4a7890" stroke-width="0.45"/><circle cx="118.3" cy="434.3" r="1.45" fill="#9ccbe6" stroke="#4a7890" stroke-width="0.45"/><circle cx="124" cy="415" r="1.45" fill="#9ccbe6" stroke="#4a7890" stroke-width="0.45"/><circle cx="134.5" cy="472" r="1.45" fill="#9aa8b8" stroke="#404060" stroke-width="0.45"/><circle cx="134" cy="478" r="1.45" fill="#9aa8b8" stroke="#404060" stroke-width="0.45"/><circle cx="188" cy="484" r="1.45" fill="#9aa8b8" stroke="#404060" stroke-width="0.45"/><circle cx="203.5" cy="478" r="1.45" fill="#9aa8b8" stroke="#404060" stroke-width="0.45"/><circle cx="140" cy="458.5" r="1.45" fill="#9aa8b8" stroke="#404060" stroke-width="0.45"/><circle cx="161" cy="460" r="1.45" fill="#9aa8b8" stroke="#404060" stroke-width="0.45"/><circle cx="176" cy="459" r="1.45" fill="#9aa8b8" stroke="#404060" stroke-width="0.45"/><circle cx="132.2" cy="416.8" r="1.45" fill="#e8a33a" stroke="#8a6020" stroke-width="0.45"/><circle cx="129.5" cy="421.5" r="1.45" fill="#d7191c" stroke="#801010" stroke-width="0.45"/><circle cx="129.8" cy="423.6" r="1.45" fill="#d7191c" stroke="#801010" stroke-width="0.45"/><circle cx="122" cy="460.7" r="1.45" fill="#26265e" stroke="#16163c" stroke-width="0.45"/><circle cx="141" cy="455.2" r="1.45" fill="#26265e" stroke="#16163c" stroke-width="0.45"/></g>
<path d="M129.5 412.7 L131.8 415 L129.5 417.3 L127.2 415 Z" fill="#3b2a7a" stroke="#111" stroke-width="0.5"/>
<text x="117.5" y="412.6" font-size="7" fill="#333" textLength="33.2" lengthAdjust="spacingAndGlyphs">rs12566888</text>
<rect x="209.2" y="404.4" width="17.5" height="42.0" fill="#fff" stroke="#8a8a8a" stroke-width="0.8"/>
<rect x="211.2" y="411.9" width="4.700000000000017" height="6.5" fill="#d7191c"/>
<rect x="211.2" y="418.4" width="4.700000000000017" height="6.5" fill="#e8a33a"/>
<rect x="211.2" y="424.9" width="4.700000000000017" height="6.5" fill="#6cb552"/>
<rect x="211.2" y="431.4" width="4.700000000000017" height="6.5" fill="#9ccbe6"/>
<rect x="211.2" y="437.9" width="4.700000000000017" height="6.5" fill="#26265e"/>
<line x1="215.9" y1="418.4" x2="217.20000000000002" y2="418.4" stroke="#555" stroke-width="0.5"/>
<text x="217.6" y="420.6" font-size="6.2" fill="#3a3a5a" textLength="8.4" lengthAdjust="spacingAndGlyphs">0.8</text>
<line x1="215.9" y1="424.9" x2="217.20000000000002" y2="424.9" stroke="#555" stroke-width="0.5"/>
<text x="217.6" y="427.1" font-size="6.2" fill="#3a3a5a" textLength="8.4" lengthAdjust="spacingAndGlyphs">0.6</text>
<line x1="215.9" y1="431.4" x2="217.20000000000002" y2="431.4" stroke="#555" stroke-width="0.5"/>
<text x="217.6" y="433.6" font-size="6.2" fill="#3a3a5a" textLength="8.4" lengthAdjust="spacingAndGlyphs">0.4</text>
<line x1="215.9" y1="437.9" x2="217.20000000000002" y2="437.9" stroke="#555" stroke-width="0.5"/>
<text x="217.6" y="440.1" font-size="6.2" fill="#3a3a5a" textLength="8.4" lengthAdjust="spacingAndGlyphs">0.2</text>
<text x="216.8" y="409.7" font-size="5.5" fill="#444" font-style="italic">r<tspan font-size="4" dy="-2">2</tspan></text>
<path d="M215.7 410.0 l1 -1 l1.5 0" stroke="#666" stroke-width="0.4" fill="none"/>
<rect x="30.5" y="503.3" width="197.5" height="52.19999999999999" fill="#fff" stroke="#333" stroke-width="0.9"/>
<line x1="50.5" y1="555.5" x2="50.5" y2="558.5" stroke="#333" stroke-width="0.8"/>
<text x="50.5" y="567.3" font-size="7.8" fill="#333" text-anchor="middle" textLength="15.55" lengthAdjust="spacingAndGlyphs">156.7</text>
<line x1="90.25" y1="555.5" x2="90.25" y2="558.5" stroke="#333" stroke-width="0.8"/>
<text x="90.25" y="567.3" font-size="7.8" fill="#333" text-anchor="middle" textLength="15.55" lengthAdjust="spacingAndGlyphs">156.8</text>
<line x1="130" y1="555.5" x2="130" y2="558.5" stroke="#333" stroke-width="0.8"/>
<text x="130" y="567.3" font-size="7.8" fill="#333" text-anchor="middle" textLength="15.55" lengthAdjust="spacingAndGlyphs">156.9</text>
<line x1="169.75" y1="555.5" x2="169.75" y2="558.5" stroke="#333" stroke-width="0.8"/>
<text x="169.75" y="567.3" font-size="7.8" fill="#333" text-anchor="middle" textLength="10.65" lengthAdjust="spacingAndGlyphs">157</text>
<line x1="209.5" y1="555.5" x2="209.5" y2="558.5" stroke="#333" stroke-width="0.8"/>
<text x="209.5" y="567.3" font-size="7.8" fill="#333" text-anchor="middle" textLength="15.55" lengthAdjust="spacingAndGlyphs">157.1</text>
<text x="129.4" y="578.7" font-size="8.8" fill="#333" text-anchor="middle" textLength="63.8" lengthAdjust="spacingAndGlyphs">Position on chr1 (Mb)</text>
<clipPath id="gbc"><rect x="30.5" y="503.3" width="197.5" height="52"/></clipPath><g clip-path="url(#gbc)">
<path d="M48.3 507.1H51.7" stroke="#4a4a5c" stroke-width="0.7"/><path d="M52.9 507.1l-1.7 -0.9v1.8z" fill="#4a4a5c"/>
<text x="31.8" y="509.4" font-size="6.6" fill="#4a4a5c" font-style="italic" textLength="15.6" lengthAdjust="spacingAndGlyphs">BCAN</text>
<rect x="31.4" y="510.1" width="3.3" height="1.6" fill="#24246e"/>
<path d="M55.4 507.1H58.8" stroke="#4a4a5c" stroke-width="0.7"/><path d="M54.2 507.1l1.7 -0.9v1.8z" fill="#4a4a5c"/>
<text x="59.7" y="509.4" font-size="6.6" fill="#4a4a5c" font-style="italic" textLength="19.4" lengthAdjust="spacingAndGlyphs">MRPL24</text>
<rect x="66" y="510.1" width="1" height="1.6" fill="#24246e"/>
<path d="M85.1 507.1H88.5" stroke="#4a4a5c" stroke-width="0.7"/><path d="M83.9 507.1l1.7 -0.9v1.8z" fill="#4a4a5c"/>
<text x="89.4" y="509.4" font-size="6.6" fill="#4a4a5c" font-style="italic" textLength="19.1" lengthAdjust="spacingAndGlyphs">SH2D2A</text>
<rect x="92.6" y="510.1" width="2.7" height="1.6" fill="#24246e"/>
<path d="M136.8 507.1H140.2" stroke="#4a4a5c" stroke-width="0.7"/><path d="M141.4 507.1l-1.7 -0.9v1.8z" fill="#4a4a5c"/>
<text x="119.9" y="509.4" font-size="6.6" fill="#4a4a5c" font-style="italic" textLength="16" lengthAdjust="spacingAndGlyphs">PEAR1</text>
<line x1="127.3" y1="510.9" x2="131" y2="510.9" stroke="#24246e" stroke-width="0.5"/>
<rect x="131" y="510.1" width="5" height="1.6" fill="#24246e"/>
<path d="M199.6 507.1H203" stroke="#4a4a5c" stroke-width="0.7"/><path d="M198.4 507.1l1.7 -0.9v1.8z" fill="#4a4a5c"/>
<text x="203.9" y="509.4" font-size="6.6" fill="#4a4a5c" font-style="italic" textLength="15.3" lengthAdjust="spacingAndGlyphs">ETV3L</text>
<rect x="205.1" y="510.1" width="4.7" height="1.6" fill="#24246e"/>
<path d="M34.6 517H38" stroke="#4a4a5c" stroke-width="0.7"/><path d="M33.4 517l1.7 -0.9v1.8z" fill="#4a4a5c"/>
<text x="38.9" y="519.3" font-size="6.6" fill="#4a4a5c" font-style="italic" textLength="9.3" lengthAdjust="spacingAndGlyphs">NES</text>
<rect x="38.1" y="520" width="3.4" height="1.6" fill="#24246e"/>
<path d="M75.2 517H78.6" stroke="#4a4a5c" stroke-width="0.7"/><path d="M79.8 517l-1.7 -0.9v1.8z" fill="#4a4a5c"/>
<text x="52.2" y="519.3" font-size="6.6" fill="#4a4a5c" font-style="italic" textLength="22.1" lengthAdjust="spacingAndGlyphs">RRNAD1</text>
<rect x="62.7" y="520" width="3" height="1.6" fill="#24246e"/>
<path d="M116 517H119.4" stroke="#4a4a5c" stroke-width="0.7"/><path d="M120.6 517l-1.7 -0.9v1.8z" fill="#4a4a5c"/>
<text x="97.7" y="519.3" font-size="6.6" fill="#4a4a5c" font-style="italic" textLength="17.4" lengthAdjust="spacingAndGlyphs">NTRK1</text>
<line x1="96.3" y1="520.8" x2="122.6" y2="520.8" stroke="#24246e" stroke-width="0.5"/>
<rect x="113.8" y="520" width="2.7" height="1.6" fill="#24246e"/>
<rect x="117.3" y="520" width="2.2" height="1.6" fill="#24246e"/>
<rect x="120.2" y="520" width="2.4" height="1.6" fill="#24246e"/>
<path d="M149.6 517H153" stroke="#4a4a5c" stroke-width="0.7"/><path d="M154.2 517l-1.7 -0.9v1.8z" fill="#4a4a5c"/>
<text x="129.7" y="519.3" font-size="6.6" fill="#4a4a5c" font-style="italic" textLength="19" lengthAdjust="spacingAndGlyphs">LRRC71</text>
<rect x="137.8" y="520" width="5" height="1.6" fill="#24246e"/>
<path d="M211.7 517H215.1" stroke="#4a4a5c" stroke-width="0.7"/><path d="M210.5 517l1.7 -0.9v1.8z" fill="#4a4a5c"/>
<text x="216" y="519.3" font-size="6.6" fill="#4a4a5c" font-style="italic" textLength="15" lengthAdjust="spacingAndGlyphs">ETV3</text>
<rect x="218.5" y="520" width="6.1" height="1.6" fill="#24246e"/>
<path d="M40.2 527.2H43.6" stroke="#4a4a5c" stroke-width="0.7"/><path d="M39 527.2l1.7 -0.9v1.8z" fill="#4a4a5c"/>
<text x="44.5" y="529.5" font-size="6.6" fill="#4a4a5c" font-style="italic" textLength="19.8" lengthAdjust="spacingAndGlyphs">CRABP2</text>
<rect x="50.2" y="530.2" width="2.7" height="1.6" fill="#24246e"/>
<path d="M88.7 527.2H92.1" stroke="#4a4a5c" stroke-width="0.7"/><path d="M93.3 527.2l-1.7 -0.9v1.8z" fill="#4a4a5c"/>
<text x="73.1" y="529.5" font-size="6.6" fill="#4a4a5c" font-style="italic" textLength="14.7" lengthAdjust="spacingAndGlyphs">PRCC</text>
<line x1="77.1" y1="531" x2="90.6" y2="531" stroke="#24246e" stroke-width="0.5"/>
<rect x="77.1" y="530.2" width="1.4" height="1.6" fill="#24246e"/>
<rect x="86" y="530.2" width="4.6" height="1.6" fill="#24246e"/>
<path d="M101.6 527.2H105" stroke="#4a4a5c" stroke-width="0.7"/><path d="M100.4 527.2l1.7 -0.9v1.8z" fill="#4a4a5c"/>
<text x="105.9" y="529.5" font-size="6.6" fill="#4a4a5c" font-style="italic" textLength="14.7" lengthAdjust="spacingAndGlyphs">INSRR</text>
<rect x="106.4" y="530.2" width="6.8" height="1.6" fill="#24246e"/>
<path d="M149.4 527.2H152.8" stroke="#4a4a5c" stroke-width="0.7"/><path d="M148.2 527.2l1.7 -0.9v1.8z" fill="#4a4a5c"/>
<text x="153.7" y="529.5" font-size="6.6" fill="#4a4a5c" font-style="italic" textLength="26.5" lengthAdjust="spacingAndGlyphs">ARHGEF11</text>
<line x1="143.5" y1="531" x2="187.6" y2="531" stroke="#24246e" stroke-width="0.5"/>
<rect x="143.5" y="530.2" width="6.5" height="1.6" fill="#24246e"/>
<rect x="151" y="530.2" width="5" height="1.6" fill="#24246e"/>
<rect x="157" y="530.2" width="6.5" height="1.6" fill="#24246e"/>
<path d="M223.9 527.2H227.3" stroke="#4a4a5c" stroke-width="0.7"/><path d="M228.5 527.2l-1.7 -0.9v1.8z" fill="#4a4a5c"/>
<text x="198.8" y="529.5" font-size="6.6" fill="#4a4a5c" font-style="italic" textLength="24.2" lengthAdjust="spacingAndGlyphs">CYCSP52</text>
<rect x="220.3" y="530.2" width="0.8" height="1.6" fill="#24246e"/>
<path d="M49.4 538.1H52.8" stroke="#4a4a5c" stroke-width="0.7"/><path d="M48.2 538.1l1.7 -0.9v1.8z" fill="#4a4a5c"/>
<text x="53.7" y="540.4" font-size="6.6" fill="#4a4a5c" font-style="italic" textLength="20.1" lengthAdjust="spacingAndGlyphs">ISG20L2</text>
<rect x="59" y="541.1" width="2.6" height="1.6" fill="#24246e"/>
<path d="M135.2 538.1H138.6" stroke="#4a4a5c" stroke-width="0.7"/><path d="M134 538.1l1.7 -0.9v1.8z" fill="#4a4a5c"/>
<text x="139.5" y="540.4" font-size="6.6" fill="#4a4a5c" font-style="italic" textLength="18.1" lengthAdjust="spacingAndGlyphs">MIR765</text>
<rect x="143.8" y="541.1" width="0.8" height="1.6" fill="#24246e"/>
<path d="M62.2 548.4H65.6" stroke="#4a4a5c" stroke-width="0.7"/><path d="M61 548.4l1.7 -0.9v1.8z" fill="#4a4a5c"/>
<text x="66.5" y="550.7" font-size="6.6" fill="#4a4a5c" font-style="italic" textLength="14" lengthAdjust="spacingAndGlyphs">HDGF</text>
<rect x="67" y="551.4" width="1.7" height="1.6" fill="#24246e"/>
<rect x="70" y="551.4" width="1.7" height="1.6" fill="#24246e"/>
</g>
<text x="262.4" y="397.4" font-size="11.5" fill="#111" font-weight="bold" textLength="8.3" lengthAdjust="spacingAndGlyphs">D</text>
<rect x="287.5" y="403" width="197.8" height="86.19999999999999" fill="none" stroke="#c8c8c8" stroke-width="0.8"/>
<line x1="284.2" y1="486.4" x2="287.5" y2="486.4" stroke="#383838" stroke-width="0.8"/>
<text x="283.5" y="488.9" font-size="7" fill="#383838" text-anchor="end" textLength="3.7" lengthAdjust="spacingAndGlyphs">0</text>
<line x1="284.2" y1="474" x2="287.5" y2="474" stroke="#383838" stroke-width="0.8"/>
<text x="283.5" y="476.5" font-size="7" fill="#383838" text-anchor="end" textLength="3.7" lengthAdjust="spacingAndGlyphs">2</text>
<line x1="284.2" y1="461.6" x2="287.5" y2="461.6" stroke="#383838" stroke-width="0.8"/>
<text x="283.5" y="464.1" font-size="7" fill="#383838" text-anchor="end" textLength="3.7" lengthAdjust="spacingAndGlyphs">4</text>
<line x1="284.2" y1="449.2" x2="287.5" y2="449.2" stroke="#383838" stroke-width="0.8"/>
<text x="283.5" y="451.7" font-size="7" fill="#383838" text-anchor="end" textLength="3.7" lengthAdjust="spacingAndGlyphs">6</text>
<line x1="284.2" y1="436.8" x2="287.5" y2="436.8" stroke="#383838" stroke-width="0.8"/>
<text x="283.5" y="439.3" font-size="7" fill="#383838" text-anchor="end" textLength="3.7" lengthAdjust="spacingAndGlyphs">8</text>
<line x1="284.2" y1="424.4" x2="287.5" y2="424.4" stroke="#383838" stroke-width="0.8"/>
<text x="283.5" y="426.9" font-size="7" fill="#383838" text-anchor="end" textLength="7.4" lengthAdjust="spacingAndGlyphs">10</text>
<line x1="284.2" y1="412" x2="287.5" y2="412" stroke="#383838" stroke-width="0.8"/>
<text x="283.5" y="414.5" font-size="7" fill="#383838" text-anchor="end" textLength="7.4" lengthAdjust="spacingAndGlyphs">12</text>
<line x1="485.3" y1="486.3" x2="488.8" y2="486.3" stroke="#5a5a9c" stroke-width="0.8"/>
<text x="491.1" y="488.9" font-size="7.4" fill="#5a5a9c" textLength="3.4" lengthAdjust="spacingAndGlyphs">0</text>
<line x1="485.3" y1="470.3" x2="488.8" y2="470.3" stroke="#5a5a9c" stroke-width="0.8"/>
<text x="491.1" y="472.9" font-size="7.4" fill="#5a5a9c" textLength="6.8" lengthAdjust="spacingAndGlyphs">20</text>
<line x1="485.3" y1="454.3" x2="488.8" y2="454.3" stroke="#5a5a9c" stroke-width="0.8"/>
<text x="491.1" y="456.9" font-size="7.4" fill="#5a5a9c" textLength="6.8" lengthAdjust="spacingAndGlyphs">40</text>
<line x1="485.3" y1="438.3" x2="488.8" y2="438.3" stroke="#5a5a9c" stroke-width="0.8"/>
<text x="491.1" y="440.9" font-size="7.4" fill="#5a5a9c" textLength="6.8" lengthAdjust="spacingAndGlyphs">60</text>
<line x1="485.3" y1="422.3" x2="488.8" y2="422.3" stroke="#5a5a9c" stroke-width="0.8"/>
<text x="491.1" y="424.9" font-size="7.4" fill="#5a5a9c" textLength="6.8" lengthAdjust="spacingAndGlyphs">80</text>
<line x1="485.3" y1="406.3" x2="488.8" y2="406.3" stroke="#5a5a9c" stroke-width="0.8"/>
<text x="491.1" y="408.9" font-size="7.4" fill="#5a5a9c" textLength="10.2" lengthAdjust="spacingAndGlyphs">100</text>
<text x="269.6" y="448" font-size="7.2" fill="#383838" text-anchor="middle" transform="rotate(-90 269.6 448) translate(0 2.5)" textLength="48" lengthAdjust="spacingAndGlyphs">-log<tspan font-size="5" dy="1.5">10</tspan><tspan dy="-1.5">(</tspan><tspan font-style="italic">P</tspan> value)</text>
<text x="509.3" y="446" font-size="7.2" fill="#5a5a9c" text-anchor="middle" transform="rotate(90 509.3 446) translate(0 2.5)" textLength="85" lengthAdjust="spacingAndGlyphs">Recombination rate (cM/Mb)</text>
<line x1="288.0" y1="441" x2="484.8" y2="441" stroke="#b0b0b0" stroke-width="0.9" stroke-dasharray="3 2.2"/>
<line x1="288" y1="485.7" x2="484" y2="485.7" stroke="#5b5ba8" stroke-width="1"/>
<rect x="288" y="479" width="196" height="7.6" fill="#26265e"/>
<g><circle cx="289.18" cy="476.18" r="1.45" fill="#26265e" stroke="#16163c" stroke-width="0.45"/><circle cx="289.12" cy="475.58" r="1.45" fill="#26265e" stroke="#16163c" stroke-width="0.45"/><circle cx="289.24" cy="478.01" r="1.45" fill="#26265e" stroke="#16163c" stroke-width="0.45"/><circle cx="288.77" cy="479.46" r="1.45" fill="#26265e" stroke="#16163c" stroke-width="0.45"/><circle cx="290.43" cy="478.93" r="1.45" fill="#26265e" stroke="#16163c" stroke-width="0.45"/><circle cx="290.05" cy="479.23" r="1.45" fill="#26265e" stroke="#16163c" stroke-width="0.45"/><circle cx="290.14" cy="479.66" r="1.45" fill="#26265e" stroke="#16163c" stroke-width="0.45"/><circle cx="289.95" cy="479.41" r="1.45" fill="#26265e" stroke="#16163c" stroke-width="0.45"/><circle cx="291.14" cy="477.96" r="1.45" fill="#26265e" stroke="#16163c" stroke-width="0.45"/><circle cx="290.92" cy="478.4" r="1.45" fill="#26265e" stroke="#16163c" stroke-width="0.45"/><circle cx="291.5" cy="480.19" r="1.45" fill="#26265e" stroke="#16163c" stroke-width="0.45"/><circle cx="290.9" cy="480.82" r="1.45" fill="#26265e" stroke="#16163c" stroke-width="0.45"/><circle cx="292.2" cy="478.35" r="1.45" fill="#26265e" stroke="#16163c" stroke-width="0.45"/><circle cx="292.31" cy="478.28" r="1.45" fill="#26265e" stroke="#16163c" stroke-width="0.45"/><circle cx="292.66" cy="478.6" r="1.45" fill="#26265e" stroke="#16163c" stroke-width="0.45"/><circle cx="292.12" cy="480.82" r="1.45" fill="#26265e" stroke="#16163c" stroke-width="0.45"/><circle cx="293.5" cy="478.47" r="1.45" fill="#26265e" stroke="#16163c" stroke-width="0.45"/><circle cx="293.21" cy="477.71" r="1.45" fill="#26265e" stroke="#16163c" stroke-width="0.45"/><circle cx="293.75" cy="477.56" r="1.45" fill="#26265e" stroke="#16163c" stroke-width="0.45"/><circle cx="293.1" cy="478.93" r="1.45" fill="#26265e" stroke="#16163c" stroke-width="0.45"/><circle cx="294.69" cy="480.47" r="1.45" fill="#26265e" stroke="#16163c" stroke-width="0.45"/><circle cx="294.43" cy="480.82" r="1.45" fill="#26265e" stroke="#16163c" stroke-width="0.45"/><circle cx="294.71" cy="480.82" r="1.45" fill="#26265e" stroke="#16163c" stroke-width="0.45"/><circle cx="294.36" cy="477.66" r="1.45" fill="#26265e" stroke="#16163c" stroke-width="0.45"/><circle cx="295.9" cy="479.11" r="1.45" fill="#26265e" stroke="#16163c" stroke-width="0.45"/><circle cx="296.04" cy="479.42" r="1.45" fill="#26265e" stroke="#16163c" stroke-width="0.45"/><circle cx="296.29" cy="480.66" r="1.45" fill="#26265e" stroke="#16163c" stroke-width="0.45"/><circle cx="295.85" cy="479.46" r="1.45" fill="#26265e" stroke="#16163c" stroke-width="0.45"/><circle cx="296.86" cy="477.05" r="1.45" fill="#26265e" stroke="#16163c" stroke-width="0.45"/><circle cx="297.28" cy="476.08" r="1.45" fill="#26265e" stroke="#16163c" stroke-width="0.45"/><circle cx="296.94" cy="479.56" r="1.45" fill="#26265e" stroke="#16163c" stroke-width="0.45"/><circle cx="296.94" cy="480.82" r="1.45" fill="#26265e" stroke="#16163c" stroke-width="0.45"/><circle cx="298.89" cy="479.32" r="1.45" fill="#26265e" stroke="#16163c" stroke-width="0.45"/><circle cx="298.09" cy="478.96" r="1.45" fill="#26265e" stroke="#16163c" stroke-width="0.45"/><circle cx="298.33" cy="479.89" r="1.45" fill="#26265e" stroke="#16163c" stroke-width="0.45"/><circle cx="298.37" cy="480.82" r="1.45" fill="#26265e" stroke="#16163c" stroke-width="0.45"/><circle cx="299.53" cy="480.44" r="1.45" fill="#26265e" stroke="#16163c" stroke-width="0.45"/><circle cx="299.78" cy="478.16" r="1.45" fill="#26265e" stroke="#16163c" stroke-width="0.45"/><circle cx="299.67" cy="480.61" r="1.45" fill="#26265e" stroke="#16163c" stroke-width="0.45"/><circle cx="299.26" cy="479.3" r="1.45" fill="#26265e" stroke="#16163c" stroke-width="0.45"/><circle cx="301.19" cy="479.75" r="1.45" fill="#26265e" stroke="#16163c" stroke-width="0.45"/><circle cx="300.38" cy="479.52" r="1.45" fill="#26265e" stroke="#16163c" stroke-width="0.45"/><circle cx="300.96" cy="476.38" r="1.45" fill="#26265e" stroke="#16163c" stroke-width="0.45"/><circle cx="301.14" cy="479.32" r="1.45" fill="#26265e" stroke="#16163c" stroke-width="0.45"/><circle cx="302.22" cy="478.26" r="1.45" fill="#26265e" stroke="#16163c" stroke-width="0.45"/><circle cx="301.67" cy="477.04" r="1.45" fill="#26265e" stroke="#16163c" stroke-width="0.45"/><circle cx="302.42" cy="477.16" r="1.45" fill="#26265e" stroke="#16163c" stroke-width="0.45"/><circle cx="302.3" cy="477.33" r="1.45" fill="#26265e" stroke="#16163c" stroke-width="0.45"/><circle cx="303.17" cy="478.78" r="1.45" fill="#26265e" stroke="#16163c" stroke-width="0.45"/><circle cx="303.47" cy="477.94" r="1.45" fill="#26265e" stroke="#16163c" stroke-width="0.45"/><circle cx="302.77" cy="477.5" r="1.45" fill="#26265e" stroke="#16163c" stroke-width="0.45"/><circle cx="302.97" cy="480.82" r="1.45" fill="#26265e" stroke="#16163c" stroke-width="0.45"/><circle cx="304.22" cy="476.86" r="1.45" fill="#26265e" stroke="#16163c" stroke-width="0.45"/><circle cx="304.03" cy="476.85" r="1.45" fill="#26265e" stroke="#16163c" stroke-width="0.45"/><circle cx="304.16" cy="479.88" r="1.45" fill="#26265e" stroke="#16163c" stroke-width="0.45"/><circle cx="304.64" cy="480.82" r="1.45" fill="#26265e" stroke="#16163c" stroke-width="0.45"/><circle cx="305.43" cy="480.3" r="1.45" fill="#26265e" stroke="#16163c" stroke-width="0.45"/><circle cx="305.94" cy="480.82" r="1.45" fill="#26265e" stroke="#16163c" stroke-width="0.45"/><circle cx="305.39" cy="480.82" r="1.45" fill="#26265e" stroke="#16163c" stroke-width="0.45"/><circle cx="305.45" cy="479.26" r="1.45" fill="#26265e" stroke="#16163c" stroke-width="0.45"/><circle cx="306.86" cy="477.6" r="1.45" fill="#26265e" stroke="#16163c" stroke-width="0.45"/><circle cx="306.76" cy="479.92" r="1.45" fill="#26265e" stroke="#16163c" stroke-width="0.45"/><circle cx="306.32" cy="480.82" r="1.45" fill="#26265e" stroke="#16163c" stroke-width="0.45"/><circle cx="307.12" cy="479" r="1.45" fill="#26265e" stroke="#16163c" stroke-width="0.45"/><circle cx="308.02" cy="479.98" r="1.45" fill="#26265e" stroke="#16163c" stroke-width="0.45"/><circle cx="308.17" cy="480.01" r="1.45" fill="#26265e" stroke="#16163c" stroke-width="0.45"/><circle cx="308.49" cy="479.82" r="1.45" fill="#26265e" stroke="#16163c" stroke-width="0.45"/><circle cx="307.95" cy="480.68" r="1.45" fill="#26265e" stroke="#16163c" stroke-width="0.45"/><circle cx="308.8" cy="478.51" r="1.45" fill="#26265e" stroke="#16163c" stroke-width="0.45"/><circle cx="308.72" cy="477.88" r="1.45" fill="#26265e" stroke="#16163c" stroke-width="0.45"/><circle cx="309.61" cy="477.9" r="1.45" fill="#26265e" stroke="#16163c" stroke-width="0.45"/><circle cx="309.46" cy="480.78" r="1.45" fill="#26265e" stroke="#16163c" stroke-width="0.45"/><circle cx="310.88" cy="476.75" r="1.45" fill="#26265e" stroke="#16163c" stroke-width="0.45"/><circle cx="310.66" cy="476.96" r="1.45" fill="#26265e" stroke="#16163c" stroke-width="0.45"/><circle cx="310.89" cy="479.24" r="1.45" fill="#26265e" stroke="#16163c" stroke-width="0.45"/><circle cx="310.88" cy="478.56" r="1.45" fill="#26265e" stroke="#16163c" stroke-width="0.45"/><circle cx="311.9" cy="478.44" r="1.45" fill="#26265e" stroke="#16163c" stroke-width="0.45"/><circle cx="311.98" cy="478.9" r="1.45" fill="#26265e" stroke="#16163c" stroke-width="0.45"/><circle cx="311.14" cy="479.55" r="1.45" fill="#26265e" stroke="#16163c" stroke-width="0.45"/><circle cx="311.52" cy="478.81" r="1.45" fill="#26265e" stroke="#16163c" stroke-width="0.45"/><circle cx="312.5" cy="478.97" r="1.45" fill="#26265e" stroke="#16163c" stroke-width="0.45"/><circle cx="312.37" cy="479.39" r="1.45" fill="#26265e" stroke="#16163c" stroke-width="0.45"/><circle cx="312.32" cy="479.14" r="1.45" fill="#26265e" stroke="#16163c" stroke-width="0.45"/><circle cx="312.53" cy="479.63" r="1.45" fill="#26265e" stroke="#16163c" stroke-width="0.45"/><circle cx="314.4" cy="477.26" r="1.45" fill="#26265e" stroke="#16163c" stroke-width="0.45"/><circle cx="313.97" cy="480.76" r="1.45" fill="#26265e" stroke="#16163c" stroke-width="0.45"/><circle cx="313.95" cy="478.78" r="1.45" fill="#26265e" stroke="#16163c" stroke-width="0.45"/><circle cx="313.79" cy="480.49" r="1.45" fill="#26265e" stroke="#16163c" stroke-width="0.45"/><circle cx="314.72" cy="478.05" r="1.45" fill="#26265e" stroke="#16163c" stroke-width="0.45"/><circle cx="315.59" cy="478.09" r="1.45" fill="#26265e" stroke="#16163c" stroke-width="0.45"/><circle cx="315.17" cy="478.91" r="1.45" fill="#26265e" stroke="#16163c" stroke-width="0.45"/><circle cx="315.11" cy="477.93" r="1.45" fill="#26265e" stroke="#16163c" stroke-width="0.45"/><circle cx="316.43" cy="480.82" r="1.45" fill="#26265e" stroke="#16163c" stroke-width="0.45"/><circle cx="316.79" cy="479.1" r="1.45" fill="#26265e" stroke="#16163c" stroke-width="0.45"/><circle cx="316.75" cy="480.82" r="1.45" fill="#26265e" stroke="#16163c" stroke-width="0.45"/><circle cx="316.63" cy="479.21" r="1.45" fill="#26265e" stroke="#16163c" stroke-width="0.45"/><circle cx="317.44" cy="479.99" r="1.45" fill="#26265e" stroke="#16163c" stroke-width="0.45"/><circle cx="317.55" cy="480.6" r="1.45" fill="#26265e" stroke="#16163c" stroke-width="0.45"/><circle cx="317.93" cy="479.61" r="1.45" fill="#26265e" stroke="#16163c" stroke-width="0.45"/><circle cx="317.55" cy="480.82" r="1.45" fill="#26265e" stroke="#16163c" stroke-width="0.45"/><circle cx="319.01" cy="480.82" r="1.45" fill="#26265e" stroke="#16163c" stroke-width="0.45"/><circle cx="318.97" cy="478.78" r="1.45" fill="#26265e" stroke="#16163c" stroke-width="0.45"/><circle cx="319.11" cy="479.53" r="1.45" fill="#26265e" stroke="#16163c" stroke-width="0.45"/><circle cx="318.87" cy="477.87" r="1.45" fill="#26265e" stroke="#16163c" stroke-width="0.45"/><circle cx="319.76" cy="480.82" r="1.45" fill="#26265e" stroke="#16163c" stroke-width="0.45"/><circle cx="319.8" cy="480.82" r="1.45" fill="#26265e" stroke="#16163c" stroke-width="0.45"/><circle cx="319.85" cy="479.95" r="1.45" fill="#26265e" stroke="#16163c" stroke-width="0.45"/><circle cx="319.88" cy="480.66" r="1.45" fill="#26265e" stroke="#16163c" stroke-width="0.45"/><circle cx="321.12" cy="479.42" r="1.45" fill="#26265e" stroke="#16163c" stroke-width="0.45"/><circle cx="321.32" cy="478.46" r="1.45" fill="#26265e" stroke="#16163c" stroke-width="0.45"/><circle cx="321.56" cy="478.32" r="1.45" fill="#26265e" stroke="#16163c" stroke-width="0.45"/><circle cx="320.72" cy="479.88" r="1.45" fill="#26265e" stroke="#16163c" stroke-width="0.45"/><circle cx="322.64" cy="475.52" r="1.45" fill="#26265e" stroke="#16163c" stroke-width="0.45"/><circle cx="322.55" cy="480.61" r="1.45" fill="#26265e" stroke="#16163c" stroke-width="0.45"/><circle cx="322.38" cy="479.49" r="1.45" fill="#26265e" stroke="#16163c" stroke-width="0.45"/><circle cx="322.2" cy="476.88" r="1.45" fill="#26265e" stroke="#16163c" stroke-width="0.45"/><circle cx="324.04" cy="478.78" r="1.45" fill="#26265e" stroke="#16163c" stroke-width="0.45"/><circle cx="323.39" cy="479.45" r="1.45" fill="#26265e" stroke="#16163c" stroke-width="0.45"/><circle cx="323.17" cy="480.82" r="1.45" fill="#26265e" stroke="#16163c" stroke-width="0.45"/><circle cx="323.71" cy="480.24" r="1.45" fill="#26265e" stroke="#16163c" stroke-width="0.45"/><circle cx="325.29" cy="476.91" r="1.45" fill="#26265e" stroke="#16163c" stroke-width="0.45"/><circle cx="324.64" cy="477.89" r="1.45" fill="#26265e" stroke="#16163c" stroke-width="0.45"/><circle cx="324.39" cy="476.5" r="1.45" fill="#26265e" stroke="#16163c" stroke-width="0.45"/><circle cx="325.18" cy="476.71" r="1.45" fill="#26265e" stroke="#16163c" stroke-width="0.45"/><circle cx="326.08" cy="477.51" r="1.45" fill="#26265e" stroke="#16163c" stroke-width="0.45"/><circle cx="325.91" cy="478.08" r="1.45" fill="#26265e" stroke="#16163c" stroke-width="0.45"/><circle cx="325.67" cy="477.9" r="1.45" fill="#26265e" stroke="#16163c" stroke-width="0.45"/><circle cx="326.06" cy="479.22" r="1.45" fill="#26265e" stroke="#16163c" stroke-width="0.45"/><circle cx="326.96" cy="480.23" r="1.45" fill="#26265e" stroke="#16163c" stroke-width="0.45"/><circle cx="326.81" cy="478.63" r="1.45" fill="#26265e" stroke="#16163c" stroke-width="0.45"/><circle cx="327.17" cy="479.99" r="1.45" fill="#26265e" stroke="#16163c" stroke-width="0.45"/><circle cx="327.12" cy="478.34" r="1.45" fill="#26265e" stroke="#16163c" stroke-width="0.45"/><circle cx="328.58" cy="476.39" r="1.45" fill="#26265e" stroke="#16163c" stroke-width="0.45"/><circle cx="328.36" cy="475" r="1.45" fill="#26265e" stroke="#16163c" stroke-width="0.45"/><circle cx="327.92" cy="477.62" r="1.45" fill="#26265e" stroke="#16163c" stroke-width="0.45"/><circle cx="328.15" cy="480.16" r="1.45" fill="#26265e" stroke="#16163c" stroke-width="0.45"/><circle cx="329.3" cy="479.09" r="1.45" fill="#26265e" stroke="#16163c" stroke-width="0.45"/><circle cx="329.93" cy="478.29" r="1.45" fill="#26265e" stroke="#16163c" stroke-width="0.45"/><circle cx="329.34" cy="480.82" r="1.45" fill="#26265e" stroke="#16163c" stroke-width="0.45"/><circle cx="329.15" cy="478.7" r="1.45" fill="#26265e" stroke="#16163c" stroke-width="0.45"/><circle cx="330.7" cy="477.92" r="1.45" fill="#26265e" stroke="#16163c" stroke-width="0.45"/><circle cx="330.87" cy="477.4" r="1.45" fill="#26265e" stroke="#16163c" stroke-width="0.45"/><circle cx="330.65" cy="478.06" r="1.45" fill="#26265e" stroke="#16163c" stroke-width="0.45"/><circle cx="331.15" cy="479.76" r="1.45" fill="#26265e" stroke="#16163c" stroke-width="0.45"/><circle cx="331.75" cy="480.82" r="1.45" fill="#26265e" stroke="#16163c" stroke-width="0.45"/><circle cx="332.18" cy="480.82" r="1.45" fill="#26265e" stroke="#16163c" stroke-width="0.45"/><circle cx="331.58" cy="480.82" r="1.45" fill="#26265e" stroke="#16163c" stroke-width="0.45"/><circle cx="332.19" cy="480.77" r="1.45" fill="#26265e" stroke="#16163c" stroke-width="0.45"/><circle cx="333.16" cy="480.82" r="1.45" fill="#26265e" stroke="#16163c" stroke-width="0.45"/><circle cx="333.23" cy="480.7" r="1.45" fill="#26265e" stroke="#16163c" stroke-width="0.45"/><circle cx="332.85" cy="479.87" r="1.45" fill="#26265e" stroke="#16163c" stroke-width="0.45"/><circle cx="332.87" cy="479.9" r="1.45" fill="#26265e" stroke="#16163c" stroke-width="0.45"/><circle cx="334.11" cy="479.57" r="1.45" fill="#26265e" stroke="#16163c" stroke-width="0.45"/><circle cx="334.11" cy="480.82" r="1.45" fill="#26265e" stroke="#16163c" stroke-width="0.45"/><circle cx="334.47" cy="480.47" r="1.45" fill="#26265e" stroke="#16163c" stroke-width="0.45"/><circle cx="334.61" cy="479.42" r="1.45" fill="#26265e" stroke="#16163c" stroke-width="0.45"/><circle cx="335.65" cy="480.27" r="1.45" fill="#26265e" stroke="#16163c" stroke-width="0.45"/><circle cx="335.32" cy="479.48" r="1.45" fill="#26265e" stroke="#16163c" stroke-width="0.45"/><circle cx="335.79" cy="478.8" r="1.45" fill="#26265e" stroke="#16163c" stroke-width="0.45"/><circle cx="335.74" cy="480.55" r="1.45" fill="#26265e" stroke="#16163c" stroke-width="0.45"/><circle cx="336.97" cy="477.2" r="1.45" fill="#26265e" stroke="#16163c" stroke-width="0.45"/><circle cx="337.07" cy="477.24" r="1.45" fill="#26265e" stroke="#16163c" stroke-width="0.45"/><circle cx="336.55" cy="477.88" r="1.45" fill="#26265e" stroke="#16163c" stroke-width="0.45"/><circle cx="336.9" cy="476.3" r="1.45" fill="#26265e" stroke="#16163c" stroke-width="0.45"/><circle cx="337.74" cy="478.85" r="1.45" fill="#26265e" stroke="#16163c" stroke-width="0.45"/><circle cx="337.58" cy="477.07" r="1.45" fill="#26265e" stroke="#16163c" stroke-width="0.45"/><circle cx="337.76" cy="478.57" r="1.45" fill="#26265e" stroke="#16163c" stroke-width="0.45"/><circle cx="338.07" cy="480.82" r="1.45" fill="#26265e" stroke="#16163c" stroke-width="0.45"/><circle cx="339.16" cy="479.74" r="1.45" fill="#26265e" stroke="#16163c" stroke-width="0.45"/><circle cx="338.71" cy="479.54" r="1.45" fill="#26265e" stroke="#16163c" stroke-width="0.45"/><circle cx="339.34" cy="476.57" r="1.45" fill="#26265e" stroke="#16163c" stroke-width="0.45"/><circle cx="339.08" cy="475.77" r="1.45" fill="#26265e" stroke="#16163c" stroke-width="0.45"/><circle cx="340.82" cy="477.51" r="1.45" fill="#26265e" stroke="#16163c" stroke-width="0.45"/><circle cx="340" cy="478.36" r="1.45" fill="#26265e" stroke="#16163c" stroke-width="0.45"/><circle cx="339.99" cy="477.47" r="1.45" fill="#26265e" stroke="#16163c" stroke-width="0.45"/><circle cx="340.14" cy="478.42" r="1.45" fill="#26265e" stroke="#16163c" stroke-width="0.45"/><circle cx="341.22" cy="475.88" r="1.45" fill="#26265e" stroke="#16163c" stroke-width="0.45"/><circle cx="342" cy="479.4" r="1.45" fill="#26265e" stroke="#16163c" stroke-width="0.45"/><circle cx="341.25" cy="478.44" r="1.45" fill="#26265e" stroke="#16163c" stroke-width="0.45"/><circle cx="341.22" cy="480.82" r="1.45" fill="#26265e" stroke="#16163c" stroke-width="0.45"/><circle cx="343.08" cy="480.82" r="1.45" fill="#26265e" stroke="#16163c" stroke-width="0.45"/><circle cx="342.4" cy="480.77" r="1.45" fill="#26265e" stroke="#16163c" stroke-width="0.45"/><circle cx="342.78" cy="480.82" r="1.45" fill="#26265e" stroke="#16163c" stroke-width="0.45"/><circle cx="342.94" cy="480.77" r="1.45" fill="#26265e" stroke="#16163c" stroke-width="0.45"/><circle cx="344.04" cy="480.82" r="1.45" fill="#26265e" stroke="#16163c" stroke-width="0.45"/><circle cx="344.27" cy="480.82" r="1.45" fill="#26265e" stroke="#16163c" stroke-width="0.45"/><circle cx="344.23" cy="476.47" r="1.45" fill="#26265e" stroke="#16163c" stroke-width="0.45"/><circle cx="344.39" cy="478.66" r="1.45" fill="#26265e" stroke="#16163c" stroke-width="0.45"/><circle cx="345.3" cy="478.33" r="1.45" fill="#26265e" stroke="#16163c" stroke-width="0.45"/><circle cx="344.77" cy="477.31" r="1.45" fill="#26265e" stroke="#16163c" stroke-width="0.45"/><circle cx="344.73" cy="475.73" r="1.45" fill="#26265e" stroke="#16163c" stroke-width="0.45"/><circle cx="345.22" cy="480.4" r="1.45" fill="#26265e" stroke="#16163c" stroke-width="0.45"/><circle cx="346.19" cy="476.63" r="1.45" fill="#26265e" stroke="#16163c" stroke-width="0.45"/><circle cx="346.22" cy="475.79" r="1.45" fill="#26265e" stroke="#16163c" stroke-width="0.45"/><circle cx="346.01" cy="478.69" r="1.45" fill="#26265e" stroke="#16163c" stroke-width="0.45"/><circle cx="346.6" cy="477.93" r="1.45" fill="#26265e" stroke="#16163c" stroke-width="0.45"/><circle cx="347.47" cy="480.55" r="1.45" fill="#26265e" stroke="#16163c" stroke-width="0.45"/><circle cx="348.07" cy="480.03" r="1.45" fill="#26265e" stroke="#16163c" stroke-width="0.45"/><circle cx="347.32" cy="479.78" r="1.45" fill="#26265e" stroke="#16163c" stroke-width="0.45"/><circle cx="347.43" cy="480.82" r="1.45" fill="#26265e" stroke="#16163c" stroke-width="0.45"/><circle cx="349.09" cy="477.81" r="1.45" fill="#26265e" stroke="#16163c" stroke-width="0.45"/><circle cx="348.42" cy="480.31" r="1.45" fill="#26265e" stroke="#16163c" stroke-width="0.45"/><circle cx="349.06" cy="478.79" r="1.45" fill="#26265e" stroke="#16163c" stroke-width="0.45"/><circle cx="348.63" cy="480.54" r="1.45" fill="#26265e" stroke="#16163c" stroke-width="0.45"/><circle cx="350.18" cy="476.8" r="1.45" fill="#26265e" stroke="#16163c" stroke-width="0.45"/><circle cx="350.11" cy="480.82" r="1.45" fill="#26265e" stroke="#16163c" stroke-width="0.45"/><circle cx="350.03" cy="478.43" r="1.45" fill="#26265e" stroke="#16163c" stroke-width="0.45"/><circle cx="349.54" cy="480.82" r="1.45" fill="#26265e" stroke="#16163c" stroke-width="0.45"/><circle cx="350.72" cy="479.48" r="1.45" fill="#26265e" stroke="#16163c" stroke-width="0.45"/><circle cx="351.47" cy="480.82" r="1.45" fill="#26265e" stroke="#16163c" stroke-width="0.45"/><circle cx="351.42" cy="480" r="1.45" fill="#26265e" stroke="#16163c" stroke-width="0.45"/><circle cx="350.97" cy="480.56" r="1.45" fill="#26265e" stroke="#16163c" stroke-width="0.45"/><circle cx="352.31" cy="477.35" r="1.45" fill="#26265e" stroke="#16163c" stroke-width="0.45"/><circle cx="352.61" cy="479.28" r="1.45" fill="#26265e" stroke="#16163c" stroke-width="0.45"/><circle cx="352.55" cy="480.05" r="1.45" fill="#26265e" stroke="#16163c" stroke-width="0.45"/><circle cx="352.58" cy="480.48" r="1.45" fill="#26265e" stroke="#16163c" stroke-width="0.45"/><circle cx="353.16" cy="477.55" r="1.45" fill="#26265e" stroke="#16163c" stroke-width="0.45"/><circle cx="353.85" cy="480.82" r="1.45" fill="#26265e" stroke="#16163c" stroke-width="0.45"/><circle cx="353.88" cy="479.16" r="1.45" fill="#26265e" stroke="#16163c" stroke-width="0.45"/><circle cx="353.29" cy="476.65" r="1.45" fill="#26265e" stroke="#16163c" stroke-width="0.45"/><circle cx="354.61" cy="480.05" r="1.45" fill="#26265e" stroke="#16163c" stroke-width="0.45"/><circle cx="354.76" cy="480.82" r="1.45" fill="#26265e" stroke="#16163c" stroke-width="0.45"/><circle cx="354.99" cy="478.81" r="1.45" fill="#26265e" stroke="#16163c" stroke-width="0.45"/><circle cx="354.6" cy="478.68" r="1.45" fill="#26265e" stroke="#16163c" stroke-width="0.45"/><circle cx="355.97" cy="477.52" r="1.45" fill="#26265e" stroke="#16163c" stroke-width="0.45"/><circle cx="355.8" cy="480.46" r="1.45" fill="#26265e" stroke="#16163c" stroke-width="0.45"/><circle cx="355.92" cy="476.79" r="1.45" fill="#26265e" stroke="#16163c" stroke-width="0.45"/><circle cx="356.17" cy="480.78" r="1.45" fill="#26265e" stroke="#16163c" stroke-width="0.45"/><circle cx="357.09" cy="474.65" r="1.45" fill="#26265e" stroke="#16163c" stroke-width="0.45"/><circle cx="357.44" cy="480.54" r="1.45" fill="#26265e" stroke="#16163c" stroke-width="0.45"/><circle cx="357.69" cy="476.99" r="1.45" fill="#26265e" stroke="#16163c" stroke-width="0.45"/><circle cx="357.28" cy="480.82" r="1.45" fill="#26265e" stroke="#16163c" stroke-width="0.45"/><circle cx="358.62" cy="474.38" r="1.45" fill="#26265e" stroke="#16163c" stroke-width="0.45"/><circle cx="358.3" cy="479.4" r="1.45" fill="#26265e" stroke="#16163c" stroke-width="0.45"/><circle cx="358.47" cy="480.32" r="1.45" fill="#26265e" stroke="#16163c" stroke-width="0.45"/><circle cx="357.94" cy="477.75" r="1.45" fill="#26265e" stroke="#16163c" stroke-width="0.45"/><circle cx="359.63" cy="474.2" r="1.45" fill="#26265e" stroke="#16163c" stroke-width="0.45"/><circle cx="359.72" cy="480.69" r="1.45" fill="#26265e" stroke="#16163c" stroke-width="0.45"/><circle cx="359.43" cy="474.85" r="1.45" fill="#26265e" stroke="#16163c" stroke-width="0.45"/><circle cx="359.25" cy="480.82" r="1.45" fill="#26265e" stroke="#16163c" stroke-width="0.45"/><circle cx="360.44" cy="473.58" r="1.45" fill="#26265e" stroke="#16163c" stroke-width="0.45"/><circle cx="361.13" cy="479.73" r="1.45" fill="#26265e" stroke="#16163c" stroke-width="0.45"/><circle cx="361" cy="474.51" r="1.45" fill="#26265e" stroke="#16163c" stroke-width="0.45"/><circle cx="361.29" cy="480.01" r="1.45" fill="#26265e" stroke="#16163c" stroke-width="0.45"/><circle cx="361.73" cy="472.33" r="1.45" fill="#26265e" stroke="#16163c" stroke-width="0.45"/><circle cx="362.13" cy="470.64" r="1.45" fill="#26265e" stroke="#16163c" stroke-width="0.45"/><circle cx="361.91" cy="475.1" r="1.45" fill="#26265e" stroke="#16163c" stroke-width="0.45"/><circle cx="361.97" cy="473.22" r="1.45" fill="#26265e" stroke="#16163c" stroke-width="0.45"/><circle cx="363.52" cy="470.72" r="1.45" fill="#26265e" stroke="#16163c" stroke-width="0.45"/><circle cx="363.61" cy="480.69" r="1.45" fill="#26265e" stroke="#16163c" stroke-width="0.45"/><circle cx="363.22" cy="471.05" r="1.45" fill="#26265e" stroke="#16163c" stroke-width="0.45"/><circle cx="362.92" cy="479.59" r="1.45" fill="#26265e" stroke="#16163c" stroke-width="0.45"/><circle cx="364.26" cy="473.82" r="1.45" fill="#26265e" stroke="#16163c" stroke-width="0.45"/><circle cx="364.24" cy="467.77" r="1.45" fill="#26265e" stroke="#16163c" stroke-width="0.45"/><circle cx="364.58" cy="476.85" r="1.45" fill="#26265e" stroke="#16163c" stroke-width="0.45"/><circle cx="364.43" cy="469.21" r="1.45" fill="#26265e" stroke="#16163c" stroke-width="0.45"/><circle cx="365.82" cy="468.79" r="1.45" fill="#26265e" stroke="#16163c" stroke-width="0.45"/><circle cx="366.09" cy="471.3" r="1.45" fill="#26265e" stroke="#16163c" stroke-width="0.45"/><circle cx="365.88" cy="473.85" r="1.45" fill="#26265e" stroke="#16163c" stroke-width="0.45"/><circle cx="365.65" cy="472.5" r="1.45" fill="#26265e" stroke="#16163c" stroke-width="0.45"/><circle cx="366.45" cy="465.93" r="1.45" fill="#26265e" stroke="#16163c" stroke-width="0.45"/><circle cx="366.68" cy="476.5" r="1.45" fill="#26265e" stroke="#16163c" stroke-width="0.45"/><circle cx="367.12" cy="466.29" r="1.45" fill="#26265e" stroke="#16163c" stroke-width="0.45"/><circle cx="367.19" cy="469.56" r="1.45" fill="#26265e" stroke="#16163c" stroke-width="0.45"/><circle cx="368.41" cy="467.95" r="1.45" fill="#26265e" stroke="#16163c" stroke-width="0.45"/><circle cx="367.88" cy="478.11" r="1.45" fill="#26265e" stroke="#16163c" stroke-width="0.45"/><circle cx="367.69" cy="475.9" r="1.45" fill="#26265e" stroke="#16163c" stroke-width="0.45"/><circle cx="367.89" cy="464.56" r="1.45" fill="#26265e" stroke="#16163c" stroke-width="0.45"/><circle cx="368.76" cy="460.43" r="1.45" fill="#26265e" stroke="#16163c" stroke-width="0.45"/><circle cx="369.48" cy="471.83" r="1.45" fill="#26265e" stroke="#16163c" stroke-width="0.45"/><circle cx="368.99" cy="474.37" r="1.45" fill="#26265e" stroke="#16163c" stroke-width="0.45"/><circle cx="369.17" cy="479.37" r="1.45" fill="#26265e" stroke="#16163c" stroke-width="0.45"/><circle cx="370.79" cy="458.83" r="1.45" fill="#26265e" stroke="#16163c" stroke-width="0.45"/><circle cx="370.18" cy="467.88" r="1.45" fill="#26265e" stroke="#16163c" stroke-width="0.45"/><circle cx="370.83" cy="461.12" r="1.45" fill="#26265e" stroke="#16163c" stroke-width="0.45"/><circle cx="370.36" cy="459.43" r="1.45" fill="#26265e" stroke="#16163c" stroke-width="0.45"/><circle cx="371.99" cy="460.82" r="1.45" fill="#26265e" stroke="#16163c" stroke-width="0.45"/><circle cx="371.43" cy="473.58" r="1.45" fill="#26265e" stroke="#16163c" stroke-width="0.45"/><circle cx="371.12" cy="472.27" r="1.45" fill="#26265e" stroke="#16163c" stroke-width="0.45"/><circle cx="371.56" cy="462.58" r="1.45" fill="#26265e" stroke="#16163c" stroke-width="0.45"/><circle cx="373.11" cy="456.44" r="1.45" fill="#26265e" stroke="#16163c" stroke-width="0.45"/><circle cx="372.63" cy="463.32" r="1.45" fill="#26265e" stroke="#16163c" stroke-width="0.45"/><circle cx="372.63" cy="473.87" r="1.45" fill="#26265e" stroke="#16163c" stroke-width="0.45"/><circle cx="373.11" cy="467.77" r="1.45" fill="#26265e" stroke="#16163c" stroke-width="0.45"/><circle cx="374.34" cy="462.47" r="1.45" fill="#26265e" stroke="#16163c" stroke-width="0.45"/><circle cx="373.88" cy="469.94" r="1.45" fill="#26265e" stroke="#16163c" stroke-width="0.45"/><circle cx="374.01" cy="471.73" r="1.45" fill="#26265e" stroke="#16163c" stroke-width="0.45"/><circle cx="373.58" cy="468.59" r="1.45" fill="#26265e" stroke="#16163c" stroke-width="0.45"/><circle cx="374.98" cy="464.93" r="1.45" fill="#26265e" stroke="#16163c" stroke-width="0.45"/><circle cx="375.1" cy="463.72" r="1.45" fill="#26265e" stroke="#16163c" stroke-width="0.45"/><circle cx="375" cy="466.44" r="1.45" fill="#26265e" stroke="#16163c" stroke-width="0.45"/><circle cx="374.89" cy="470.83" r="1.45" fill="#26265e" stroke="#16163c" stroke-width="0.45"/><circle cx="376.04" cy="463.9" r="1.45" fill="#26265e" stroke="#16163c" stroke-width="0.45"/><circle cx="376.35" cy="466.78" r="1.45" fill="#26265e" stroke="#16163c" stroke-width="0.45"/><circle cx="376.49" cy="474.75" r="1.45" fill="#26265e" stroke="#16163c" stroke-width="0.45"/><circle cx="376.34" cy="477.01" r="1.45" fill="#26265e" stroke="#16163c" stroke-width="0.45"/><circle cx="377.52" cy="463.09" r="1.45" fill="#26265e" stroke="#16163c" stroke-width="0.45"/><circle cx="377.97" cy="466.51" r="1.45" fill="#26265e" stroke="#16163c" stroke-width="0.45"/><circle cx="377.66" cy="462.08" r="1.45" fill="#26265e" stroke="#16163c" stroke-width="0.45"/><circle cx="378.04" cy="462.04" r="1.45" fill="#26265e" stroke="#16163c" stroke-width="0.45"/><circle cx="378.94" cy="465.86" r="1.45" fill="#26265e" stroke="#16163c" stroke-width="0.45"/><circle cx="379" cy="472.93" r="1.45" fill="#26265e" stroke="#16163c" stroke-width="0.45"/><circle cx="379.29" cy="477.1" r="1.45" fill="#26265e" stroke="#16163c" stroke-width="0.45"/><circle cx="379.3" cy="475.89" r="1.45" fill="#26265e" stroke="#16163c" stroke-width="0.45"/><circle cx="380.18" cy="468.4" r="1.45" fill="#26265e" stroke="#16163c" stroke-width="0.45"/><circle cx="379.91" cy="477.34" r="1.45" fill="#26265e" stroke="#16163c" stroke-width="0.45"/><circle cx="380.25" cy="471" r="1.45" fill="#26265e" stroke="#16163c" stroke-width="0.45"/><circle cx="380.05" cy="466.98" r="1.45" fill="#26265e" stroke="#16163c" stroke-width="0.45"/><circle cx="381.31" cy="466.53" r="1.45" fill="#26265e" stroke="#16163c" stroke-width="0.45"/><circle cx="380.78" cy="469.52" r="1.45" fill="#26265e" stroke="#16163c" stroke-width="0.45"/><circle cx="381.52" cy="469.05" r="1.45" fill="#26265e" stroke="#16163c" stroke-width="0.45"/><circle cx="381.62" cy="472.59" r="1.45" fill="#26265e" stroke="#16163c" stroke-width="0.45"/><circle cx="382.71" cy="468.53" r="1.45" fill="#26265e" stroke="#16163c" stroke-width="0.45"/><circle cx="382.58" cy="473.37" r="1.45" fill="#26265e" stroke="#16163c" stroke-width="0.45"/><circle cx="382.6" cy="466.07" r="1.45" fill="#26265e" stroke="#16163c" stroke-width="0.45"/><circle cx="382.72" cy="469.35" r="1.45" fill="#26265e" stroke="#16163c" stroke-width="0.45"/><circle cx="383.18" cy="468.34" r="1.45" fill="#26265e" stroke="#16163c" stroke-width="0.45"/><circle cx="384.07" cy="475.32" r="1.45" fill="#26265e" stroke="#16163c" stroke-width="0.45"/><circle cx="384.02" cy="475.56" r="1.45" fill="#26265e" stroke="#16163c" stroke-width="0.45"/><circle cx="383.24" cy="477.58" r="1.45" fill="#26265e" stroke="#16163c" stroke-width="0.45"/><circle cx="385.27" cy="477.63" r="1.45" fill="#26265e" stroke="#16163c" stroke-width="0.45"/><circle cx="384.68" cy="475.11" r="1.45" fill="#26265e" stroke="#16163c" stroke-width="0.45"/><circle cx="384.73" cy="472.19" r="1.45" fill="#26265e" stroke="#16163c" stroke-width="0.45"/><circle cx="385.06" cy="477.89" r="1.45" fill="#26265e" stroke="#16163c" stroke-width="0.45"/><circle cx="386.45" cy="470.75" r="1.45" fill="#26265e" stroke="#16163c" stroke-width="0.45"/><circle cx="386.28" cy="480.17" r="1.45" fill="#26265e" stroke="#16163c" stroke-width="0.45"/><circle cx="385.62" cy="480.82" r="1.45" fill="#26265e" stroke="#16163c" stroke-width="0.45"/><circle cx="386.5" cy="477.84" r="1.45" fill="#26265e" stroke="#16163c" stroke-width="0.45"/><circle cx="387.14" cy="472.89" r="1.45" fill="#26265e" stroke="#16163c" stroke-width="0.45"/><circle cx="387.68" cy="479.82" r="1.45" fill="#26265e" stroke="#16163c" stroke-width="0.45"/><circle cx="387.6" cy="479.28" r="1.45" fill="#26265e" stroke="#16163c" stroke-width="0.45"/><circle cx="387.41" cy="476.47" r="1.45" fill="#26265e" stroke="#16163c" stroke-width="0.45"/><circle cx="388.71" cy="474.55" r="1.45" fill="#26265e" stroke="#16163c" stroke-width="0.45"/><circle cx="388.04" cy="473.44" r="1.45" fill="#26265e" stroke="#16163c" stroke-width="0.45"/><circle cx="388.35" cy="480.63" r="1.45" fill="#26265e" stroke="#16163c" stroke-width="0.45"/><circle cx="388.49" cy="480.46" r="1.45" fill="#26265e" stroke="#16163c" stroke-width="0.45"/><circle cx="389.27" cy="474.02" r="1.45" fill="#26265e" stroke="#16163c" stroke-width="0.45"/><circle cx="389.63" cy="480.45" r="1.45" fill="#26265e" stroke="#16163c" stroke-width="0.45"/><circle cx="389.91" cy="475.11" r="1.45" fill="#26265e" stroke="#16163c" stroke-width="0.45"/><circle cx="389.56" cy="475.01" r="1.45" fill="#26265e" stroke="#16163c" stroke-width="0.45"/><circle cx="390.98" cy="477.7" r="1.45" fill="#26265e" stroke="#16163c" stroke-width="0.45"/><circle cx="390.79" cy="480.82" r="1.45" fill="#26265e" stroke="#16163c" stroke-width="0.45"/><circle cx="390.51" cy="480.82" r="1.45" fill="#26265e" stroke="#16163c" stroke-width="0.45"/><circle cx="390.87" cy="479.72" r="1.45" fill="#26265e" stroke="#16163c" stroke-width="0.45"/><circle cx="391.89" cy="480.82" r="1.45" fill="#26265e" stroke="#16163c" stroke-width="0.45"/><circle cx="392.46" cy="480.05" r="1.45" fill="#26265e" stroke="#16163c" stroke-width="0.45"/><circle cx="391.84" cy="477.23" r="1.45" fill="#26265e" stroke="#16163c" stroke-width="0.45"/><circle cx="391.99" cy="480.66" r="1.45" fill="#26265e" stroke="#16163c" stroke-width="0.45"/><circle cx="393.01" cy="479.54" r="1.45" fill="#26265e" stroke="#16163c" stroke-width="0.45"/><circle cx="392.92" cy="480.82" r="1.45" fill="#26265e" stroke="#16163c" stroke-width="0.45"/><circle cx="392.86" cy="478.92" r="1.45" fill="#26265e" stroke="#16163c" stroke-width="0.45"/><circle cx="393.43" cy="478.31" r="1.45" fill="#26265e" stroke="#16163c" stroke-width="0.45"/><circle cx="394.37" cy="478.16" r="1.45" fill="#26265e" stroke="#16163c" stroke-width="0.45"/><circle cx="394.02" cy="478.27" r="1.45" fill="#26265e" stroke="#16163c" stroke-width="0.45"/><circle cx="393.98" cy="480.63" r="1.45" fill="#26265e" stroke="#16163c" stroke-width="0.45"/><circle cx="394.85" cy="479.03" r="1.45" fill="#26265e" stroke="#16163c" stroke-width="0.45"/><circle cx="396.06" cy="479.63" r="1.45" fill="#26265e" stroke="#16163c" stroke-width="0.45"/><circle cx="396.06" cy="479.74" r="1.45" fill="#26265e" stroke="#16163c" stroke-width="0.45"/><circle cx="395.25" cy="480.36" r="1.45" fill="#26265e" stroke="#16163c" stroke-width="0.45"/><circle cx="395.37" cy="480.82" r="1.45" fill="#26265e" stroke="#16163c" stroke-width="0.45"/><circle cx="396.77" cy="480.82" r="1.45" fill="#26265e" stroke="#16163c" stroke-width="0.45"/><circle cx="397.2" cy="480.16" r="1.45" fill="#26265e" stroke="#16163c" stroke-width="0.45"/><circle cx="396.9" cy="478.7" r="1.45" fill="#26265e" stroke="#16163c" stroke-width="0.45"/><circle cx="396.97" cy="477.55" r="1.45" fill="#26265e" stroke="#16163c" stroke-width="0.45"/><circle cx="397.66" cy="480.82" r="1.45" fill="#26265e" stroke="#16163c" stroke-width="0.45"/><circle cx="398.15" cy="480.82" r="1.45" fill="#26265e" stroke="#16163c" stroke-width="0.45"/><circle cx="397.73" cy="480.63" r="1.45" fill="#26265e" stroke="#16163c" stroke-width="0.45"/><circle cx="397.6" cy="480.47" r="1.45" fill="#26265e" stroke="#16163c" stroke-width="0.45"/><circle cx="399.6" cy="480.82" r="1.45" fill="#26265e" stroke="#16163c" stroke-width="0.45"/><circle cx="399.49" cy="480.53" r="1.45" fill="#26265e" stroke="#16163c" stroke-width="0.45"/><circle cx="398.93" cy="480.44" r="1.45" fill="#26265e" stroke="#16163c" stroke-width="0.45"/><circle cx="399.31" cy="480.14" r="1.45" fill="#26265e" stroke="#16163c" stroke-width="0.45"/><circle cx="400.46" cy="480.82" r="1.45" fill="#26265e" stroke="#16163c" stroke-width="0.45"/><circle cx="400.32" cy="480.58" r="1.45" fill="#26265e" stroke="#16163c" stroke-width="0.45"/><circle cx="400.77" cy="479.97" r="1.45" fill="#26265e" stroke="#16163c" stroke-width="0.45"/><circle cx="400.3" cy="479.21" r="1.45" fill="#26265e" stroke="#16163c" stroke-width="0.45"/><circle cx="401.74" cy="480.82" r="1.45" fill="#26265e" stroke="#16163c" stroke-width="0.45"/><circle cx="401.3" cy="480.82" r="1.45" fill="#26265e" stroke="#16163c" stroke-width="0.45"/><circle cx="401.24" cy="480.82" r="1.45" fill="#26265e" stroke="#16163c" stroke-width="0.45"/><circle cx="401.83" cy="480.82" r="1.45" fill="#26265e" stroke="#16163c" stroke-width="0.45"/><circle cx="402.47" cy="479.82" r="1.45" fill="#26265e" stroke="#16163c" stroke-width="0.45"/><circle cx="402.36" cy="479.74" r="1.45" fill="#26265e" stroke="#16163c" stroke-width="0.45"/><circle cx="402.5" cy="478.99" r="1.45" fill="#26265e" stroke="#16163c" stroke-width="0.45"/><circle cx="402.45" cy="480.82" r="1.45" fill="#26265e" stroke="#16163c" stroke-width="0.45"/><circle cx="403.92" cy="475.13" r="1.45" fill="#26265e" stroke="#16163c" stroke-width="0.45"/><circle cx="404.28" cy="480.26" r="1.45" fill="#26265e" stroke="#16163c" stroke-width="0.45"/><circle cx="403.7" cy="480.82" r="1.45" fill="#26265e" stroke="#16163c" stroke-width="0.45"/><circle cx="404.02" cy="476.42" r="1.45" fill="#26265e" stroke="#16163c" stroke-width="0.45"/><circle cx="405.12" cy="480.82" r="1.45" fill="#26265e" stroke="#16163c" stroke-width="0.45"/><circle cx="405.19" cy="477.78" r="1.45" fill="#26265e" stroke="#16163c" stroke-width="0.45"/><circle cx="405.24" cy="477.35" r="1.45" fill="#26265e" stroke="#16163c" stroke-width="0.45"/><circle cx="405.24" cy="480.23" r="1.45" fill="#26265e" stroke="#16163c" stroke-width="0.45"/><circle cx="406.54" cy="479.05" r="1.45" fill="#26265e" stroke="#16163c" stroke-width="0.45"/><circle cx="406.59" cy="478.59" r="1.45" fill="#26265e" stroke="#16163c" stroke-width="0.45"/><circle cx="406.13" cy="479.67" r="1.45" fill="#26265e" stroke="#16163c" stroke-width="0.45"/><circle cx="406.75" cy="478.17" r="1.45" fill="#26265e" stroke="#16163c" stroke-width="0.45"/><circle cx="407.9" cy="477.14" r="1.45" fill="#26265e" stroke="#16163c" stroke-width="0.45"/><circle cx="407.78" cy="478.49" r="1.45" fill="#26265e" stroke="#16163c" stroke-width="0.45"/><circle cx="407.88" cy="480.82" r="1.45" fill="#26265e" stroke="#16163c" stroke-width="0.45"/><circle cx="407.99" cy="479.36" r="1.45" fill="#26265e" stroke="#16163c" stroke-width="0.45"/><circle cx="408.62" cy="480.82" r="1.45" fill="#26265e" stroke="#16163c" stroke-width="0.45"/><circle cx="409.02" cy="480.82" r="1.45" fill="#26265e" stroke="#16163c" stroke-width="0.45"/><circle cx="408.51" cy="480.82" r="1.45" fill="#26265e" stroke="#16163c" stroke-width="0.45"/><circle cx="408.37" cy="480.82" r="1.45" fill="#26265e" stroke="#16163c" stroke-width="0.45"/><circle cx="410.13" cy="478.86" r="1.45" fill="#26265e" stroke="#16163c" stroke-width="0.45"/><circle cx="410.1" cy="478.95" r="1.45" fill="#26265e" stroke="#16163c" stroke-width="0.45"/><circle cx="410.4" cy="479.76" r="1.45" fill="#26265e" stroke="#16163c" stroke-width="0.45"/><circle cx="410.06" cy="480.52" r="1.45" fill="#26265e" stroke="#16163c" stroke-width="0.45"/><circle cx="411.4" cy="478.13" r="1.45" fill="#26265e" stroke="#16163c" stroke-width="0.45"/><circle cx="411.07" cy="480.82" r="1.45" fill="#26265e" stroke="#16163c" stroke-width="0.45"/><circle cx="411.13" cy="480.8" r="1.45" fill="#26265e" stroke="#16163c" stroke-width="0.45"/><circle cx="410.76" cy="480.73" r="1.45" fill="#26265e" stroke="#16163c" stroke-width="0.45"/><circle cx="412.63" cy="477.07" r="1.45" fill="#26265e" stroke="#16163c" stroke-width="0.45"/><circle cx="412.54" cy="480.82" r="1.45" fill="#26265e" stroke="#16163c" stroke-width="0.45"/><circle cx="412.39" cy="480.82" r="1.45" fill="#26265e" stroke="#16163c" stroke-width="0.45"/><circle cx="412.81" cy="480.82" r="1.45" fill="#26265e" stroke="#16163c" stroke-width="0.45"/><circle cx="413.17" cy="480.82" r="1.45" fill="#26265e" stroke="#16163c" stroke-width="0.45"/><circle cx="413.37" cy="480.82" r="1.45" fill="#26265e" stroke="#16163c" stroke-width="0.45"/><circle cx="413.82" cy="480.82" r="1.45" fill="#26265e" stroke="#16163c" stroke-width="0.45"/><circle cx="413.49" cy="480.82" r="1.45" fill="#26265e" stroke="#16163c" stroke-width="0.45"/><circle cx="414.56" cy="480.82" r="1.45" fill="#26265e" stroke="#16163c" stroke-width="0.45"/><circle cx="414.92" cy="480.82" r="1.45" fill="#26265e" stroke="#16163c" stroke-width="0.45"/><circle cx="414.39" cy="478.64" r="1.45" fill="#26265e" stroke="#16163c" stroke-width="0.45"/><circle cx="414.98" cy="480.82" r="1.45" fill="#26265e" stroke="#16163c" stroke-width="0.45"/><circle cx="415.77" cy="479.41" r="1.45" fill="#26265e" stroke="#16163c" stroke-width="0.45"/><circle cx="415.52" cy="479.17" r="1.45" fill="#26265e" stroke="#16163c" stroke-width="0.45"/><circle cx="415.86" cy="480.73" r="1.45" fill="#26265e" stroke="#16163c" stroke-width="0.45"/><circle cx="415.81" cy="479.15" r="1.45" fill="#26265e" stroke="#16163c" stroke-width="0.45"/><circle cx="417.39" cy="480.82" r="1.45" fill="#26265e" stroke="#16163c" stroke-width="0.45"/><circle cx="417.43" cy="480.82" r="1.45" fill="#26265e" stroke="#16163c" stroke-width="0.45"/><circle cx="417.07" cy="479.3" r="1.45" fill="#26265e" stroke="#16163c" stroke-width="0.45"/><circle cx="417.2" cy="479.45" r="1.45" fill="#26265e" stroke="#16163c" stroke-width="0.45"/><circle cx="418.24" cy="480.82" r="1.45" fill="#26265e" stroke="#16163c" stroke-width="0.45"/><circle cx="418.26" cy="480.82" r="1.45" fill="#26265e" stroke="#16163c" stroke-width="0.45"/><circle cx="418.16" cy="478.1" r="1.45" fill="#26265e" stroke="#16163c" stroke-width="0.45"/><circle cx="418.11" cy="480.58" r="1.45" fill="#26265e" stroke="#16163c" stroke-width="0.45"/><circle cx="419.23" cy="476.08" r="1.45" fill="#26265e" stroke="#16163c" stroke-width="0.45"/><circle cx="419.37" cy="479.64" r="1.45" fill="#26265e" stroke="#16163c" stroke-width="0.45"/><circle cx="419.94" cy="480.77" r="1.45" fill="#26265e" stroke="#16163c" stroke-width="0.45"/><circle cx="419.66" cy="479.71" r="1.45" fill="#26265e" stroke="#16163c" stroke-width="0.45"/><circle cx="420.34" cy="477.9" r="1.45" fill="#26265e" stroke="#16163c" stroke-width="0.45"/><circle cx="420.93" cy="478.89" r="1.45" fill="#26265e" stroke="#16163c" stroke-width="0.45"/><circle cx="420.48" cy="479.63" r="1.45" fill="#26265e" stroke="#16163c" stroke-width="0.45"/><circle cx="420.81" cy="480.19" r="1.45" fill="#26265e" stroke="#16163c" stroke-width="0.45"/><circle cx="422.34" cy="476.97" r="1.45" fill="#26265e" stroke="#16163c" stroke-width="0.45"/><circle cx="422.43" cy="480.53" r="1.45" fill="#26265e" stroke="#16163c" stroke-width="0.45"/><circle cx="422.48" cy="478.83" r="1.45" fill="#26265e" stroke="#16163c" stroke-width="0.45"/><circle cx="421.56" cy="476.46" r="1.45" fill="#26265e" stroke="#16163c" stroke-width="0.45"/><circle cx="423.32" cy="480.61" r="1.45" fill="#26265e" stroke="#16163c" stroke-width="0.45"/><circle cx="423.16" cy="479.12" r="1.45" fill="#26265e" stroke="#16163c" stroke-width="0.45"/><circle cx="423.37" cy="479.74" r="1.45" fill="#26265e" stroke="#16163c" stroke-width="0.45"/><circle cx="423.13" cy="480.82" r="1.45" fill="#26265e" stroke="#16163c" stroke-width="0.45"/><circle cx="424.66" cy="479.04" r="1.45" fill="#26265e" stroke="#16163c" stroke-width="0.45"/><circle cx="424.45" cy="480.82" r="1.45" fill="#26265e" stroke="#16163c" stroke-width="0.45"/><circle cx="424.28" cy="479.7" r="1.45" fill="#26265e" stroke="#16163c" stroke-width="0.45"/><circle cx="424.25" cy="478.53" r="1.45" fill="#26265e" stroke="#16163c" stroke-width="0.45"/><circle cx="425.54" cy="480.34" r="1.45" fill="#26265e" stroke="#16163c" stroke-width="0.45"/><circle cx="425.95" cy="480.82" r="1.45" fill="#26265e" stroke="#16163c" stroke-width="0.45"/><circle cx="425.31" cy="479.95" r="1.45" fill="#26265e" stroke="#16163c" stroke-width="0.45"/><circle cx="425.23" cy="480.61" r="1.45" fill="#26265e" stroke="#16163c" stroke-width="0.45"/><circle cx="427.19" cy="479.16" r="1.45" fill="#26265e" stroke="#16163c" stroke-width="0.45"/><circle cx="426.56" cy="479.08" r="1.45" fill="#26265e" stroke="#16163c" stroke-width="0.45"/><circle cx="426.96" cy="479.66" r="1.45" fill="#26265e" stroke="#16163c" stroke-width="0.45"/><circle cx="426.36" cy="479.78" r="1.45" fill="#26265e" stroke="#16163c" stroke-width="0.45"/><circle cx="427.74" cy="478.3" r="1.45" fill="#26265e" stroke="#16163c" stroke-width="0.45"/><circle cx="428.11" cy="478.33" r="1.45" fill="#26265e" stroke="#16163c" stroke-width="0.45"/><circle cx="428.18" cy="478.4" r="1.45" fill="#26265e" stroke="#16163c" stroke-width="0.45"/><circle cx="427.75" cy="478.93" r="1.45" fill="#26265e" stroke="#16163c" stroke-width="0.45"/><circle cx="428.72" cy="477.37" r="1.45" fill="#26265e" stroke="#16163c" stroke-width="0.45"/><circle cx="428.86" cy="479.57" r="1.45" fill="#26265e" stroke="#16163c" stroke-width="0.45"/><circle cx="428.99" cy="477.61" r="1.45" fill="#26265e" stroke="#16163c" stroke-width="0.45"/><circle cx="429.48" cy="480.82" r="1.45" fill="#26265e" stroke="#16163c" stroke-width="0.45"/><circle cx="430.86" cy="478.52" r="1.45" fill="#26265e" stroke="#16163c" stroke-width="0.45"/><circle cx="430.83" cy="477.89" r="1.45" fill="#26265e" stroke="#16163c" stroke-width="0.45"/><circle cx="430.68" cy="478.39" r="1.45" fill="#26265e" stroke="#16163c" stroke-width="0.45"/><circle cx="430.02" cy="477.84" r="1.45" fill="#26265e" stroke="#16163c" stroke-width="0.45"/><circle cx="431.42" cy="480.82" r="1.45" fill="#26265e" stroke="#16163c" stroke-width="0.45"/><circle cx="431.15" cy="478.68" r="1.45" fill="#26265e" stroke="#16163c" stroke-width="0.45"/><circle cx="431.43" cy="480.82" r="1.45" fill="#26265e" stroke="#16163c" stroke-width="0.45"/><circle cx="431.93" cy="480.35" r="1.45" fill="#26265e" stroke="#16163c" stroke-width="0.45"/><circle cx="433.27" cy="478.16" r="1.45" fill="#26265e" stroke="#16163c" stroke-width="0.45"/><circle cx="433.25" cy="480.82" r="1.45" fill="#26265e" stroke="#16163c" stroke-width="0.45"/><circle cx="432.43" cy="478.56" r="1.45" fill="#26265e" stroke="#16163c" stroke-width="0.45"/><circle cx="432.42" cy="477.82" r="1.45" fill="#26265e" stroke="#16163c" stroke-width="0.45"/><circle cx="433.88" cy="477.69" r="1.45" fill="#26265e" stroke="#16163c" stroke-width="0.45"/><circle cx="433.88" cy="480.82" r="1.45" fill="#26265e" stroke="#16163c" stroke-width="0.45"/><circle cx="433.96" cy="479.18" r="1.45" fill="#26265e" stroke="#16163c" stroke-width="0.45"/><circle cx="434.39" cy="479.37" r="1.45" fill="#26265e" stroke="#16163c" stroke-width="0.45"/><circle cx="435.43" cy="476.81" r="1.45" fill="#26265e" stroke="#16163c" stroke-width="0.45"/><circle cx="435.61" cy="477.28" r="1.45" fill="#26265e" stroke="#16163c" stroke-width="0.45"/><circle cx="435.62" cy="479.39" r="1.45" fill="#26265e" stroke="#16163c" stroke-width="0.45"/><circle cx="435.17" cy="478.53" r="1.45" fill="#26265e" stroke="#16163c" stroke-width="0.45"/><circle cx="436.59" cy="478.37" r="1.45" fill="#26265e" stroke="#16163c" stroke-width="0.45"/><circle cx="436.78" cy="479.27" r="1.45" fill="#26265e" stroke="#16163c" stroke-width="0.45"/><circle cx="435.95" cy="479.52" r="1.45" fill="#26265e" stroke="#16163c" stroke-width="0.45"/><circle cx="436.31" cy="480.8" r="1.45" fill="#26265e" stroke="#16163c" stroke-width="0.45"/><circle cx="437.69" cy="476.43" r="1.45" fill="#26265e" stroke="#16163c" stroke-width="0.45"/><circle cx="437.4" cy="480.38" r="1.45" fill="#26265e" stroke="#16163c" stroke-width="0.45"/><circle cx="437.89" cy="478.1" r="1.45" fill="#26265e" stroke="#16163c" stroke-width="0.45"/><circle cx="437.74" cy="477.02" r="1.45" fill="#26265e" stroke="#16163c" stroke-width="0.45"/><circle cx="438.55" cy="479.6" r="1.45" fill="#26265e" stroke="#16163c" stroke-width="0.45"/><circle cx="439.06" cy="480.82" r="1.45" fill="#26265e" stroke="#16163c" stroke-width="0.45"/><circle cx="439.29" cy="478.85" r="1.45" fill="#26265e" stroke="#16163c" stroke-width="0.45"/><circle cx="438.55" cy="478.47" r="1.45" fill="#26265e" stroke="#16163c" stroke-width="0.45"/><circle cx="439.84" cy="477.11" r="1.45" fill="#26265e" stroke="#16163c" stroke-width="0.45"/><circle cx="439.87" cy="479" r="1.45" fill="#26265e" stroke="#16163c" stroke-width="0.45"/><circle cx="439.57" cy="480.82" r="1.45" fill="#26265e" stroke="#16163c" stroke-width="0.45"/><circle cx="440.09" cy="479.74" r="1.45" fill="#26265e" stroke="#16163c" stroke-width="0.45"/><circle cx="440.93" cy="478.03" r="1.45" fill="#26265e" stroke="#16163c" stroke-width="0.45"/><circle cx="441.46" cy="478.09" r="1.45" fill="#26265e" stroke="#16163c" stroke-width="0.45"/><circle cx="440.75" cy="479.24" r="1.45" fill="#26265e" stroke="#16163c" stroke-width="0.45"/><circle cx="441.57" cy="477.2" r="1.45" fill="#26265e" stroke="#16163c" stroke-width="0.45"/><circle cx="442.07" cy="477.4" r="1.45" fill="#26265e" stroke="#16163c" stroke-width="0.45"/><circle cx="442.3" cy="479.76" r="1.45" fill="#26265e" stroke="#16163c" stroke-width="0.45"/><circle cx="442.81" cy="480.06" r="1.45" fill="#26265e" stroke="#16163c" stroke-width="0.45"/><circle cx="442.01" cy="479.72" r="1.45" fill="#26265e" stroke="#16163c" stroke-width="0.45"/><circle cx="443.61" cy="470.86" r="1.45" fill="#26265e" stroke="#16163c" stroke-width="0.45"/><circle cx="443.78" cy="476.89" r="1.45" fill="#26265e" stroke="#16163c" stroke-width="0.45"/><circle cx="443.36" cy="477.68" r="1.45" fill="#26265e" stroke="#16163c" stroke-width="0.45"/><circle cx="443.92" cy="469.86" r="1.45" fill="#26265e" stroke="#16163c" stroke-width="0.45"/><circle cx="444.36" cy="475.69" r="1.45" fill="#26265e" stroke="#16163c" stroke-width="0.45"/><circle cx="444.92" cy="477.02" r="1.45" fill="#26265e" stroke="#16163c" stroke-width="0.45"/><circle cx="445.3" cy="480.15" r="1.45" fill="#26265e" stroke="#16163c" stroke-width="0.45"/><circle cx="445.06" cy="474.55" r="1.45" fill="#26265e" stroke="#16163c" stroke-width="0.45"/><circle cx="445.87" cy="474.49" r="1.45" fill="#26265e" stroke="#16163c" stroke-width="0.45"/><circle cx="446.01" cy="472.82" r="1.45" fill="#26265e" stroke="#16163c" stroke-width="0.45"/><circle cx="445.77" cy="474.18" r="1.45" fill="#26265e" stroke="#16163c" stroke-width="0.45"/><circle cx="446.06" cy="476.98" r="1.45" fill="#26265e" stroke="#16163c" stroke-width="0.45"/><circle cx="447.58" cy="471.93" r="1.45" fill="#26265e" stroke="#16163c" stroke-width="0.45"/><circle cx="446.91" cy="480.07" r="1.45" fill="#26265e" stroke="#16163c" stroke-width="0.45"/><circle cx="446.88" cy="479.27" r="1.45" fill="#26265e" stroke="#16163c" stroke-width="0.45"/><circle cx="446.8" cy="474.2" r="1.45" fill="#26265e" stroke="#16163c" stroke-width="0.45"/><circle cx="447.96" cy="473.38" r="1.45" fill="#26265e" stroke="#16163c" stroke-width="0.45"/><circle cx="448.34" cy="478.51" r="1.45" fill="#26265e" stroke="#16163c" stroke-width="0.45"/><circle cx="448.57" cy="480.82" r="1.45" fill="#26265e" stroke="#16163c" stroke-width="0.45"/><circle cx="448.33" cy="476.03" r="1.45" fill="#26265e" stroke="#16163c" stroke-width="0.45"/><circle cx="449.7" cy="480.82" r="1.45" fill="#26265e" stroke="#16163c" stroke-width="0.45"/><circle cx="449.98" cy="479.73" r="1.45" fill="#26265e" stroke="#16163c" stroke-width="0.45"/><circle cx="449.5" cy="480.82" r="1.45" fill="#26265e" stroke="#16163c" stroke-width="0.45"/><circle cx="449.89" cy="480.82" r="1.45" fill="#26265e" stroke="#16163c" stroke-width="0.45"/><circle cx="451.25" cy="475.19" r="1.45" fill="#26265e" stroke="#16163c" stroke-width="0.45"/><circle cx="451.27" cy="479.87" r="1.45" fill="#26265e" stroke="#16163c" stroke-width="0.45"/><circle cx="451.01" cy="479.15" r="1.45" fill="#26265e" stroke="#16163c" stroke-width="0.45"/><circle cx="450.65" cy="477.78" r="1.45" fill="#26265e" stroke="#16163c" stroke-width="0.45"/><circle cx="452" cy="478.51" r="1.45" fill="#26265e" stroke="#16163c" stroke-width="0.45"/><circle cx="452.27" cy="478.69" r="1.45" fill="#26265e" stroke="#16163c" stroke-width="0.45"/><circle cx="452.3" cy="477.62" r="1.45" fill="#26265e" stroke="#16163c" stroke-width="0.45"/><circle cx="451.88" cy="477.65" r="1.45" fill="#26265e" stroke="#16163c" stroke-width="0.45"/><circle cx="453.65" cy="471.74" r="1.45" fill="#26265e" stroke="#16163c" stroke-width="0.45"/><circle cx="452.96" cy="476.63" r="1.45" fill="#26265e" stroke="#16163c" stroke-width="0.45"/><circle cx="453.54" cy="480.82" r="1.45" fill="#26265e" stroke="#16163c" stroke-width="0.45"/><circle cx="452.83" cy="473.11" r="1.45" fill="#26265e" stroke="#16163c" stroke-width="0.45"/><circle cx="454.43" cy="479.56" r="1.45" fill="#26265e" stroke="#16163c" stroke-width="0.45"/><circle cx="454.04" cy="478.17" r="1.45" fill="#26265e" stroke="#16163c" stroke-width="0.45"/><circle cx="454.69" cy="477.4" r="1.45" fill="#26265e" stroke="#16163c" stroke-width="0.45"/><circle cx="454.3" cy="477.15" r="1.45" fill="#26265e" stroke="#16163c" stroke-width="0.45"/><circle cx="455.86" cy="474.79" r="1.45" fill="#26265e" stroke="#16163c" stroke-width="0.45"/><circle cx="455.71" cy="477.35" r="1.45" fill="#26265e" stroke="#16163c" stroke-width="0.45"/><circle cx="455.69" cy="475.55" r="1.45" fill="#26265e" stroke="#16163c" stroke-width="0.45"/><circle cx="455.41" cy="474.9" r="1.45" fill="#26265e" stroke="#16163c" stroke-width="0.45"/><circle cx="457.27" cy="480.82" r="1.45" fill="#26265e" stroke="#16163c" stroke-width="0.45"/><circle cx="456.95" cy="479.26" r="1.45" fill="#26265e" stroke="#16163c" stroke-width="0.45"/><circle cx="457.18" cy="477.46" r="1.45" fill="#26265e" stroke="#16163c" stroke-width="0.45"/><circle cx="456.92" cy="480.82" r="1.45" fill="#26265e" stroke="#16163c" stroke-width="0.45"/><circle cx="457.98" cy="469.14" r="1.45" fill="#26265e" stroke="#16163c" stroke-width="0.45"/><circle cx="458.43" cy="470.76" r="1.45" fill="#26265e" stroke="#16163c" stroke-width="0.45"/><circle cx="458.39" cy="478.44" r="1.45" fill="#26265e" stroke="#16163c" stroke-width="0.45"/><circle cx="457.55" cy="479.91" r="1.45" fill="#26265e" stroke="#16163c" stroke-width="0.45"/><circle cx="458.93" cy="476.71" r="1.45" fill="#26265e" stroke="#16163c" stroke-width="0.45"/><circle cx="459.67" cy="480" r="1.45" fill="#26265e" stroke="#16163c" stroke-width="0.45"/><circle cx="458.8" cy="477.44" r="1.45" fill="#26265e" stroke="#16163c" stroke-width="0.45"/><circle cx="459.39" cy="480.48" r="1.45" fill="#26265e" stroke="#16163c" stroke-width="0.45"/><circle cx="460.65" cy="474.06" r="1.45" fill="#26265e" stroke="#16163c" stroke-width="0.45"/><circle cx="460.62" cy="477.41" r="1.45" fill="#26265e" stroke="#16163c" stroke-width="0.45"/><circle cx="460" cy="480.82" r="1.45" fill="#26265e" stroke="#16163c" stroke-width="0.45"/><circle cx="460.49" cy="479.92" r="1.45" fill="#26265e" stroke="#16163c" stroke-width="0.45"/><circle cx="461.91" cy="475.95" r="1.45" fill="#26265e" stroke="#16163c" stroke-width="0.45"/><circle cx="461.16" cy="477.5" r="1.45" fill="#26265e" stroke="#16163c" stroke-width="0.45"/><circle cx="462.03" cy="470.92" r="1.45" fill="#26265e" stroke="#16163c" stroke-width="0.45"/><circle cx="461.1" cy="480.82" r="1.45" fill="#26265e" stroke="#16163c" stroke-width="0.45"/><circle cx="462.76" cy="477.23" r="1.45" fill="#26265e" stroke="#16163c" stroke-width="0.45"/><circle cx="463.11" cy="476.5" r="1.45" fill="#26265e" stroke="#16163c" stroke-width="0.45"/><circle cx="462.61" cy="480.12" r="1.45" fill="#26265e" stroke="#16163c" stroke-width="0.45"/><circle cx="462.84" cy="474.19" r="1.45" fill="#26265e" stroke="#16163c" stroke-width="0.45"/><circle cx="464.22" cy="473.2" r="1.45" fill="#26265e" stroke="#16163c" stroke-width="0.45"/><circle cx="464.12" cy="473.5" r="1.45" fill="#26265e" stroke="#16163c" stroke-width="0.45"/><circle cx="464.08" cy="475.68" r="1.45" fill="#26265e" stroke="#16163c" stroke-width="0.45"/><circle cx="464.26" cy="479.26" r="1.45" fill="#26265e" stroke="#16163c" stroke-width="0.45"/><circle cx="465.22" cy="475.06" r="1.45" fill="#26265e" stroke="#16163c" stroke-width="0.45"/><circle cx="465.06" cy="476.06" r="1.45" fill="#26265e" stroke="#16163c" stroke-width="0.45"/><circle cx="465.14" cy="477.48" r="1.45" fill="#26265e" stroke="#16163c" stroke-width="0.45"/><circle cx="465.67" cy="478.51" r="1.45" fill="#26265e" stroke="#16163c" stroke-width="0.45"/><circle cx="466.4" cy="478.65" r="1.45" fill="#26265e" stroke="#16163c" stroke-width="0.45"/><circle cx="466.02" cy="477.11" r="1.45" fill="#26265e" stroke="#16163c" stroke-width="0.45"/><circle cx="466.56" cy="477.13" r="1.45" fill="#26265e" stroke="#16163c" stroke-width="0.45"/><circle cx="466.4" cy="478.65" r="1.45" fill="#26265e" stroke="#16163c" stroke-width="0.45"/><circle cx="467.48" cy="475.02" r="1.45" fill="#26265e" stroke="#16163c" stroke-width="0.45"/><circle cx="467.58" cy="476.93" r="1.45" fill="#26265e" stroke="#16163c" stroke-width="0.45"/><circle cx="467.33" cy="479.35" r="1.45" fill="#26265e" stroke="#16163c" stroke-width="0.45"/><circle cx="467.87" cy="473.76" r="1.45" fill="#26265e" stroke="#16163c" stroke-width="0.45"/><circle cx="468.48" cy="476.84" r="1.45" fill="#26265e" stroke="#16163c" stroke-width="0.45"/><circle cx="468.6" cy="477.86" r="1.45" fill="#26265e" stroke="#16163c" stroke-width="0.45"/><circle cx="468.37" cy="479.61" r="1.45" fill="#26265e" stroke="#16163c" stroke-width="0.45"/><circle cx="469.23" cy="477.02" r="1.45" fill="#26265e" stroke="#16163c" stroke-width="0.45"/><circle cx="470.37" cy="475.84" r="1.45" fill="#26265e" stroke="#16163c" stroke-width="0.45"/><circle cx="469.56" cy="478.42" r="1.45" fill="#26265e" stroke="#16163c" stroke-width="0.45"/><circle cx="470.21" cy="474.85" r="1.45" fill="#26265e" stroke="#16163c" stroke-width="0.45"/><circle cx="470.48" cy="478.04" r="1.45" fill="#26265e" stroke="#16163c" stroke-width="0.45"/><circle cx="470.78" cy="473.44" r="1.45" fill="#26265e" stroke="#16163c" stroke-width="0.45"/><circle cx="471.69" cy="472.53" r="1.45" fill="#26265e" stroke="#16163c" stroke-width="0.45"/><circle cx="471.47" cy="479.91" r="1.45" fill="#26265e" stroke="#16163c" stroke-width="0.45"/><circle cx="471.09" cy="476.06" r="1.45" fill="#26265e" stroke="#16163c" stroke-width="0.45"/><circle cx="472.23" cy="476.4" r="1.45" fill="#26265e" stroke="#16163c" stroke-width="0.45"/><circle cx="472.43" cy="477.77" r="1.45" fill="#26265e" stroke="#16163c" stroke-width="0.45"/><circle cx="472.19" cy="480.82" r="1.45" fill="#26265e" stroke="#16163c" stroke-width="0.45"/><circle cx="472.26" cy="479.37" r="1.45" fill="#26265e" stroke="#16163c" stroke-width="0.45"/><circle cx="474.04" cy="471.28" r="1.45" fill="#26265e" stroke="#16163c" stroke-width="0.45"/><circle cx="473.66" cy="475.8" r="1.45" fill="#26265e" stroke="#16163c" stroke-width="0.45"/><circle cx="473.61" cy="474.48" r="1.45" fill="#26265e" stroke="#16163c" stroke-width="0.45"/><circle cx="473.21" cy="480.82" r="1.45" fill="#26265e" stroke="#16163c" stroke-width="0.45"/><circle cx="474.5" cy="471.52" r="1.45" fill="#26265e" stroke="#16163c" stroke-width="0.45"/><circle cx="475.15" cy="475.26" r="1.45" fill="#26265e" stroke="#16163c" stroke-width="0.45"/><circle cx="474.95" cy="480.82" r="1.45" fill="#26265e" stroke="#16163c" stroke-width="0.45"/><circle cx="474.56" cy="478.99" r="1.45" fill="#26265e" stroke="#16163c" stroke-width="0.45"/><circle cx="475.6" cy="477.73" r="1.45" fill="#26265e" stroke="#16163c" stroke-width="0.45"/><circle cx="476.17" cy="478.59" r="1.45" fill="#26265e" stroke="#16163c" stroke-width="0.45"/><circle cx="476.05" cy="476.66" r="1.45" fill="#26265e" stroke="#16163c" stroke-width="0.45"/><circle cx="476.31" cy="480.69" r="1.45" fill="#26265e" stroke="#16163c" stroke-width="0.45"/><circle cx="477.32" cy="480.82" r="1.45" fill="#26265e" stroke="#16163c" stroke-width="0.45"/><circle cx="477.09" cy="478.69" r="1.45" fill="#26265e" stroke="#16163c" stroke-width="0.45"/><circle cx="477.3" cy="480.69" r="1.45" fill="#26265e" stroke="#16163c" stroke-width="0.45"/><circle cx="476.72" cy="477.37" r="1.45" fill="#26265e" stroke="#16163c" stroke-width="0.45"/><circle cx="477.92" cy="477.6" r="1.45" fill="#26265e" stroke="#16163c" stroke-width="0.45"/><circle cx="478.03" cy="477.79" r="1.45" fill="#26265e" stroke="#16163c" stroke-width="0.45"/><circle cx="478.81" cy="478.37" r="1.45" fill="#26265e" stroke="#16163c" stroke-width="0.45"/><circle cx="478.26" cy="479.66" r="1.45" fill="#26265e" stroke="#16163c" stroke-width="0.45"/><circle cx="479.22" cy="473.28" r="1.45" fill="#26265e" stroke="#16163c" stroke-width="0.45"/><circle cx="479.32" cy="480.66" r="1.45" fill="#26265e" stroke="#16163c" stroke-width="0.45"/><circle cx="479.78" cy="476.08" r="1.45" fill="#26265e" stroke="#16163c" stroke-width="0.45"/><circle cx="479.73" cy="480.17" r="1.45" fill="#26265e" stroke="#16163c" stroke-width="0.45"/><circle cx="480.44" cy="469.53" r="1.45" fill="#26265e" stroke="#16163c" stroke-width="0.45"/><circle cx="480.79" cy="470.87" r="1.45" fill="#26265e" stroke="#16163c" stroke-width="0.45"/><circle cx="480.84" cy="471.66" r="1.45" fill="#26265e" stroke="#16163c" stroke-width="0.45"/><circle cx="480.58" cy="470.21" r="1.45" fill="#26265e" stroke="#16163c" stroke-width="0.45"/><circle cx="481.66" cy="478.47" r="1.45" fill="#26265e" stroke="#16163c" stroke-width="0.45"/><circle cx="481.52" cy="477" r="1.45" fill="#26265e" stroke="#16163c" stroke-width="0.45"/><circle cx="481.89" cy="480.14" r="1.45" fill="#26265e" stroke="#16163c" stroke-width="0.45"/><circle cx="482.42" cy="480.82" r="1.45" fill="#26265e" stroke="#16163c" stroke-width="0.45"/><circle cx="482.89" cy="474.8" r="1.45" fill="#26265e" stroke="#16163c" stroke-width="0.45"/><circle cx="483.11" cy="479.95" r="1.45" fill="#26265e" stroke="#16163c" stroke-width="0.45"/><circle cx="483.55" cy="475.91" r="1.45" fill="#26265e" stroke="#16163c" stroke-width="0.45"/><circle cx="483.56" cy="479.25" r="1.45" fill="#26265e" stroke="#16163c" stroke-width="0.45"/><circle cx="295.2" cy="471" r="1.45" fill="#26265e" stroke="#16163c" stroke-width="0.45"/><circle cx="329.6" cy="467" r="1.45" fill="#26265e" stroke="#16163c" stroke-width="0.45"/><circle cx="346" cy="468.5" r="1.45" fill="#26265e" stroke="#16163c" stroke-width="0.45"/><circle cx="357" cy="469.5" r="1.45" fill="#26265e" stroke="#16163c" stroke-width="0.45"/><circle cx="342" cy="471" r="1.45" fill="#26265e" stroke="#16163c" stroke-width="0.45"/><circle cx="312" cy="474" r="1.45" fill="#26265e" stroke="#16163c" stroke-width="0.45"/><circle cx="450.5" cy="457" r="1.45" fill="#26265e" stroke="#16163c" stroke-width="0.45"/><circle cx="460" cy="464" r="1.45" fill="#26265e" stroke="#16163c" stroke-width="0.45"/><circle cx="442" cy="465" r="1.45" fill="#26265e" stroke="#16163c" stroke-width="0.45"/><circle cx="434" cy="464.5" r="1.45" fill="#26265e" stroke="#16163c" stroke-width="0.45"/><circle cx="430" cy="465.5" r="1.45" fill="#26265e" stroke="#16163c" stroke-width="0.45"/><circle cx="433" cy="472" r="1.45" fill="#26265e" stroke="#16163c" stroke-width="0.45"/><circle cx="409" cy="466" r="1.45" fill="#26265e" stroke="#16163c" stroke-width="0.45"/><circle cx="395" cy="468" r="1.45" fill="#26265e" stroke="#16163c" stroke-width="0.45"/><circle cx="321" cy="472" r="1.45" fill="#26265e" stroke="#16163c" stroke-width="0.45"/><circle cx="304" cy="473" r="1.45" fill="#26265e" stroke="#16163c" stroke-width="0.45"/><circle cx="351" cy="472" r="1.45" fill="#26265e" stroke="#16163c" stroke-width="0.45"/><circle cx="470" cy="462" r="1.45" fill="#26265e" stroke="#16163c" stroke-width="0.45"/><circle cx="478" cy="466" r="1.45" fill="#26265e" stroke="#16163c" stroke-width="0.45"/><circle cx="360.63" cy="461.73" r="1.45" fill="#9ccbe6" stroke="#4a7890" stroke-width="0.45"/><circle cx="364.13" cy="457.12" r="1.45" fill="#9ccbe6" stroke="#4a7890" stroke-width="0.45"/><circle cx="368.87" cy="454.8" r="1.45" fill="#9ccbe6" stroke="#4a7890" stroke-width="0.45"/><circle cx="372.15" cy="455.63" r="1.45" fill="#9ccbe6" stroke="#4a7890" stroke-width="0.45"/><circle cx="374.32" cy="455.36" r="1.45" fill="#9ccbe6" stroke="#4a7890" stroke-width="0.45"/><circle cx="378.63" cy="458.31" r="1.45" fill="#9ccbe6" stroke="#4a7890" stroke-width="0.45"/><circle cx="382.12" cy="461.69" r="1.45" fill="#9ccbe6" stroke="#4a7890" stroke-width="0.45"/><circle cx="384.97" cy="465.44" r="1.45" fill="#9ccbe6" stroke="#4a7890" stroke-width="0.45"/><circle cx="375.23" cy="458.25" r="1.45" fill="#9ccbe6" stroke="#4a7890" stroke-width="0.45"/><circle cx="386.65" cy="468.33" r="1.45" fill="#9ccbe6" stroke="#4a7890" stroke-width="0.45"/><circle cx="391.41" cy="469.05" r="1.45" fill="#9ccbe6" stroke="#4a7890" stroke-width="0.45"/><circle cx="387.92" cy="466.2" r="1.45" fill="#9ccbe6" stroke="#4a7890" stroke-width="0.45"/><circle cx="415.1" cy="466.2" r="1.45" fill="#9ccbe6" stroke="#4a7890" stroke-width="0.45"/><circle cx="415.04" cy="466.86" r="1.45" fill="#9ccbe6" stroke="#4a7890" stroke-width="0.45"/><circle cx="412.4" cy="463.46" r="1.45" fill="#9ccbe6" stroke="#4a7890" stroke-width="0.45"/><circle cx="416" cy="466.59" r="1.45" fill="#9ccbe6" stroke="#4a7890" stroke-width="0.45"/><circle cx="415.73" cy="465.54" r="1.45" fill="#9ccbe6" stroke="#4a7890" stroke-width="0.45"/><circle cx="412.48" cy="465.13" r="1.45" fill="#9ccbe6" stroke="#4a7890" stroke-width="0.45"/><circle cx="416.53" cy="465.06" r="1.45" fill="#9ccbe6" stroke="#4a7890" stroke-width="0.45"/><circle cx="410.87" cy="465.46" r="1.45" fill="#9ccbe6" stroke="#4a7890" stroke-width="0.45"/><circle cx="414.89" cy="464.8" r="1.45" fill="#9ccbe6" stroke="#4a7890" stroke-width="0.45"/><circle cx="412.83" cy="465.69" r="1.45" fill="#9ccbe6" stroke="#4a7890" stroke-width="0.45"/><circle cx="415.23" cy="464.6" r="1.45" fill="#9ccbe6" stroke="#4a7890" stroke-width="0.45"/><circle cx="412.57" cy="465.06" r="1.45" fill="#9ccbe6" stroke="#4a7890" stroke-width="0.45"/><circle cx="410.21" cy="465.61" r="1.45" fill="#9ccbe6" stroke="#4a7890" stroke-width="0.45"/><circle cx="406.48" cy="462.52" r="1.45" fill="#9ccbe6" stroke="#4a7890" stroke-width="0.45"/><circle cx="407.36" cy="462.31" r="1.45" fill="#6cb552" stroke="#3a7a2a" stroke-width="0.45"/><circle cx="400.12" cy="457.06" r="1.45" fill="#6cb552" stroke="#3a7a2a" stroke-width="0.45"/><circle cx="405.24" cy="461.08" r="1.45" fill="#6cb552" stroke="#3a7a2a" stroke-width="0.45"/><circle cx="399.17" cy="457.67" r="1.45" fill="#6cb552" stroke="#3a7a2a" stroke-width="0.45"/><circle cx="401.32" cy="458.89" r="1.45" fill="#6cb552" stroke="#3a7a2a" stroke-width="0.45"/><circle cx="403.71" cy="459" r="1.45" fill="#6cb552" stroke="#3a7a2a" stroke-width="0.45"/><circle cx="403.9" cy="460.35" r="1.45" fill="#6cb552" stroke="#3a7a2a" stroke-width="0.45"/><circle cx="401.18" cy="459.05" r="1.45" fill="#6cb552" stroke="#3a7a2a" stroke-width="0.45"/><circle cx="402.9" cy="459.11" r="1.45" fill="#6cb552" stroke="#3a7a2a" stroke-width="0.45"/><circle cx="401.39" cy="460.26" r="1.45" fill="#6cb552" stroke="#3a7a2a" stroke-width="0.45"/><circle cx="407.11" cy="461.77" r="1.45" fill="#6cb552" stroke="#3a7a2a" stroke-width="0.45"/><circle cx="400.79" cy="458.55" r="1.45" fill="#6cb552" stroke="#3a7a2a" stroke-width="0.45"/><circle cx="401.37" cy="457.68" r="1.45" fill="#6cb552" stroke="#3a7a2a" stroke-width="0.45"/><circle cx="405.06" cy="460.08" r="1.45" fill="#6cb552" stroke="#3a7a2a" stroke-width="0.45"/><circle cx="404.92" cy="461.06" r="1.45" fill="#6cb552" stroke="#3a7a2a" stroke-width="0.45"/><circle cx="398.8" cy="456.85" r="1.45" fill="#6cb552" stroke="#3a7a2a" stroke-width="0.45"/><circle cx="394.5" cy="458.5" r="1.45" fill="#6cb552" stroke="#3a7a2a" stroke-width="0.45"/><circle cx="364" cy="448" r="1.45" fill="#9ab0c8" stroke="#404060" stroke-width="0.45"/><circle cx="420.5" cy="451" r="1.45" fill="#9ab0c8" stroke="#404060" stroke-width="0.45"/><circle cx="421" cy="460" r="1.45" fill="#9ab0c8" stroke="#404060" stroke-width="0.45"/><circle cx="455" cy="455" r="1.45" fill="#9ab0c8" stroke="#404060" stroke-width="0.45"/><circle cx="377.5" cy="443" r="1.45" fill="#26265e" stroke="#16163c" stroke-width="0.45"/><circle cx="377.7" cy="445.5" r="1.45" fill="#26265e" stroke="#16163c" stroke-width="0.45"/><circle cx="375.54" cy="429.67" r="1.45" fill="#e8a33a" stroke="#8a6020" stroke-width="0.45"/><circle cx="382.06" cy="439.59" r="1.45" fill="#e8a33a" stroke="#8a6020" stroke-width="0.45"/><circle cx="375.17" cy="428.22" r="1.45" fill="#e8a33a" stroke="#8a6020" stroke-width="0.45"/><circle cx="383.65" cy="425.85" r="1.45" fill="#e8a33a" stroke="#8a6020" stroke-width="0.45"/><circle cx="374.66" cy="435.17" r="1.45" fill="#e8a33a" stroke="#8a6020" stroke-width="0.45"/><circle cx="373.28" cy="434.58" r="1.45" fill="#e8a33a" stroke="#8a6020" stroke-width="0.45"/><circle cx="378.45" cy="435.99" r="1.45" fill="#e8a33a" stroke="#8a6020" stroke-width="0.45"/><circle cx="373.71" cy="437.48" r="1.45" fill="#e8a33a" stroke="#8a6020" stroke-width="0.45"/><circle cx="374.42" cy="429.74" r="1.45" fill="#e8a33a" stroke="#8a6020" stroke-width="0.45"/><circle cx="373.74" cy="433.68" r="1.45" fill="#e8a33a" stroke="#8a6020" stroke-width="0.45"/><circle cx="378.55" cy="440.64" r="1.45" fill="#e8a33a" stroke="#8a6020" stroke-width="0.45"/><circle cx="381.89" cy="425.72" r="1.45" fill="#e8a33a" stroke="#8a6020" stroke-width="0.45"/><circle cx="377.42" cy="427.29" r="1.45" fill="#e8a33a" stroke="#8a6020" stroke-width="0.45"/><circle cx="368.11" cy="430.13" r="1.45" fill="#e8a33a" stroke="#8a6020" stroke-width="0.45"/><circle cx="379.15" cy="429.35" r="1.45" fill="#e8a33a" stroke="#8a6020" stroke-width="0.45"/><circle cx="368.68" cy="427.6" r="1.45" fill="#e8a33a" stroke="#8a6020" stroke-width="0.45"/><circle cx="370.36" cy="438.24" r="1.45" fill="#e8a33a" stroke="#8a6020" stroke-width="0.45"/><circle cx="381.66" cy="434.81" r="1.45" fill="#e8a33a" stroke="#8a6020" stroke-width="0.45"/><circle cx="373.87" cy="427.49" r="1.45" fill="#e8a33a" stroke="#8a6020" stroke-width="0.45"/><circle cx="384" cy="426.03" r="1.45" fill="#e8a33a" stroke="#8a6020" stroke-width="0.45"/><circle cx="371.93" cy="436.78" r="1.45" fill="#e8a33a" stroke="#8a6020" stroke-width="0.45"/><circle cx="380.07" cy="429.11" r="1.45" fill="#e8a33a" stroke="#8a6020" stroke-width="0.45"/><circle cx="382.79" cy="438.61" r="1.45" fill="#e8a33a" stroke="#8a6020" stroke-width="0.45"/><circle cx="380.98" cy="430.8" r="1.45" fill="#e8a33a" stroke="#8a6020" stroke-width="0.45"/><circle cx="372.7" cy="429.49" r="1.45" fill="#e8a33a" stroke="#8a6020" stroke-width="0.45"/><circle cx="377.17" cy="428.27" r="1.45" fill="#e8a33a" stroke="#8a6020" stroke-width="0.45"/><circle cx="373.75" cy="432.33" r="1.45" fill="#e8a33a" stroke="#8a6020" stroke-width="0.45"/><circle cx="383.78" cy="434.61" r="1.45" fill="#e8a33a" stroke="#8a6020" stroke-width="0.45"/><circle cx="378.39" cy="437.99" r="1.45" fill="#e8a33a" stroke="#8a6020" stroke-width="0.45"/><circle cx="379.49" cy="433.3" r="1.45" fill="#e8a33a" stroke="#8a6020" stroke-width="0.45"/><circle cx="370" cy="441" r="1.45" fill="#6cb552" stroke="#3a7a2a" stroke-width="0.45"/><circle cx="372" cy="440" r="1.45" fill="#8ab040" stroke="#404060" stroke-width="0.45"/><circle cx="377.7" cy="420.3" r="1.45" fill="#f0e0a0" stroke="#8a7a20" stroke-width="0.45"/><circle cx="396.5" cy="433.8" r="1.45" fill="#6cb552" stroke="#3a7a2a" stroke-width="0.45"/><circle cx="384.9" cy="420.5" r="1.45" fill="#d7191c" stroke="#801010" stroke-width="0.45"/><circle cx="388" cy="420.5" r="1.45" fill="#d7191c" stroke="#801010" stroke-width="0.45"/><circle cx="388.5" cy="424.7" r="1.45" fill="#d7191c" stroke="#801010" stroke-width="0.45"/><circle cx="392.3" cy="421.7" r="1.45" fill="#d7191c" stroke="#801010" stroke-width="0.45"/></g>
<path d="M386.9 411.9 L389.2 414.2 L386.9 416.5 L384.6 414.2 Z" fill="#3b2a7a" stroke="#111" stroke-width="0.5"/>
<text x="376.2" y="411.7" font-size="7" fill="#333" textLength="25.4" lengthAdjust="spacingAndGlyphs">rs415064</text>
<rect x="466.2" y="404.2" width="17.5" height="42.0" fill="#fff" stroke="#8a8a8a" stroke-width="0.8"/>
<rect x="468" y="412.1" width="5.199999999999989" height="6.4" fill="#d7191c"/>
<rect x="468" y="418.5" width="5.199999999999989" height="6.4" fill="#e8a33a"/>
<rect x="468" y="424.9" width="5.199999999999989" height="6.4" fill="#6cb552"/>
<rect x="468" y="431.3" width="5.199999999999989" height="6.4" fill="#9ccbe6"/>
<rect x="468" y="437.7" width="5.199999999999989" height="6.5" fill="#26265e"/>
<line x1="473.2" y1="418.5" x2="474.5" y2="418.5" stroke="#555" stroke-width="0.5"/>
<text x="474.9" y="420.7" font-size="6.2" fill="#3a3a5a" textLength="8.4" lengthAdjust="spacingAndGlyphs">0.8</text>
<line x1="473.2" y1="424.9" x2="474.5" y2="424.9" stroke="#555" stroke-width="0.5"/>
<text x="474.9" y="427.1" font-size="6.2" fill="#3a3a5a" textLength="8.4" lengthAdjust="spacingAndGlyphs">0.6</text>
<line x1="473.2" y1="431.3" x2="474.5" y2="431.3" stroke="#555" stroke-width="0.5"/>
<text x="474.9" y="433.5" font-size="6.2" fill="#3a3a5a" textLength="8.4" lengthAdjust="spacingAndGlyphs">0.4</text>
<line x1="473.2" y1="437.7" x2="474.5" y2="437.7" stroke="#555" stroke-width="0.5"/>
<text x="474.9" y="439.9" font-size="6.2" fill="#3a3a5a" textLength="8.4" lengthAdjust="spacingAndGlyphs">0.2</text>
<text x="473.6" y="409.5" font-size="5.5" fill="#444" font-style="italic">r<tspan font-size="4" dy="-2">2</tspan></text>
<path d="M472.5 409.8 l1 -1 l1.5 0" stroke="#666" stroke-width="0.4" fill="none"/>
<rect x="287.5" y="493.4" width="198.0" height="62.10000000000002" fill="#fff" stroke="#333" stroke-width="0.9"/>
<line x1="298.7" y1="555.5" x2="298.7" y2="558.5" stroke="#333" stroke-width="0.8"/>
<text x="298.7" y="567.3" font-size="7.8" fill="#333" text-anchor="middle" textLength="12" lengthAdjust="spacingAndGlyphs">58.8</text>
<line x1="338.5" y1="555.5" x2="338.5" y2="558.5" stroke="#333" stroke-width="0.8"/>
<text x="338.5" y="567.3" font-size="7.8" fill="#333" text-anchor="middle" textLength="12" lengthAdjust="spacingAndGlyphs">58.9</text>
<line x1="378.2" y1="555.5" x2="378.2" y2="558.5" stroke="#333" stroke-width="0.8"/>
<text x="378.2" y="567.3" font-size="7.8" fill="#333" text-anchor="middle" textLength="7.1" lengthAdjust="spacingAndGlyphs">59</text>
<line x1="418" y1="555.5" x2="418" y2="558.5" stroke="#333" stroke-width="0.8"/>
<text x="418" y="567.3" font-size="7.8" fill="#333" text-anchor="middle" textLength="12" lengthAdjust="spacingAndGlyphs">59.1</text>
<line x1="457.8" y1="555.5" x2="457.8" y2="558.5" stroke="#333" stroke-width="0.8"/>
<text x="457.8" y="567.3" font-size="7.8" fill="#333" text-anchor="middle" textLength="12" lengthAdjust="spacingAndGlyphs">59.2</text>
<text x="387.2" y="578.7" font-size="8.8" fill="#333" text-anchor="middle" textLength="66.8" lengthAdjust="spacingAndGlyphs">Position on chr20 (Mb)</text>
<path d="M328.8 497.1H332.2" stroke="#4a4a5c" stroke-width="0.7"/><path d="M333.4 497.1l-1.7 -0.9v1.8z" fill="#4a4a5c"/>
<text x="290" y="499.4" font-size="6.6" fill="#4a4a5c" font-style="italic" textLength="37.9" lengthAdjust="spacingAndGlyphs">LOC105372695</text>
<path d="M382 497.1H385.4" stroke="#4a4a5c" stroke-width="0.7"/><path d="M386.6 497.1l-1.7 -0.9v1.8z" fill="#4a4a5c"/>
<text x="360.4" y="499.4" font-size="6.6" fill="#4a4a5c" font-style="italic" textLength="20.7" lengthAdjust="spacingAndGlyphs">NELFCD</text>
<rect x="370.1" y="500.1" width="5.8" height="1.6" fill="#24246e"/>
<path d="M472.4 497.1H475.8" stroke="#4a4a5c" stroke-width="0.7"/><path d="M477 497.1l-1.7 -0.9v1.8z" fill="#4a4a5c"/>
<text x="452" y="499.4" font-size="6.6" fill="#4a4a5c" font-style="italic" textLength="19.5" lengthAdjust="spacingAndGlyphs">ZNF831</text>
<line x1="453.5" y1="500.9" x2="479.9" y2="500.9" stroke="#24246e" stroke-width="0.5"/>
<rect x="453.5" y="500.1" width="2.5" height="1.6" fill="#24246e"/>
<rect x="477" y="500.1" width="2.9" height="1.6" fill="#24246e"/>
<path d="M296.6 506.8H300" stroke="#4a4a5c" stroke-width="0.7"/><path d="M295.4 506.8l1.7 -0.9v1.8z" fill="#4a4a5c"/>
<text x="300.9" y="509.1" font-size="6.6" fill="#4a4a5c" font-style="italic" textLength="18.1" lengthAdjust="spacingAndGlyphs">MIR296</text>
<rect x="305.3" y="509.8" width="0.8" height="1.6" fill="#24246e"/>
<path d="M370.7 506.8H374.1" stroke="#4a4a5c" stroke-width="0.7"/><path d="M369.5 506.8l1.7 -0.9v1.8z" fill="#4a4a5c"/>
<text x="375" y="509.1" font-size="6.6" fill="#4a4a5c" font-style="italic" textLength="12.3" lengthAdjust="spacingAndGlyphs">CTSZ</text>
<rect x="375.2" y="509.8" width="5.4" height="1.6" fill="#24246e"/>
<path d="M295.9 517.1H299.3" stroke="#4a4a5c" stroke-width="0.7"/><path d="M294.7 517.1l1.7 -0.9v1.8z" fill="#4a4a5c"/>
<text x="300.2" y="519.4" font-size="6.6" fill="#4a4a5c" font-style="italic" textLength="18.1" lengthAdjust="spacingAndGlyphs">MIR298</text>
<rect x="305.6" y="520.1" width="0.8" height="1.6" fill="#24246e"/>
<path d="M393.5 517.1H396.9" stroke="#4a4a5c" stroke-width="0.7"/><path d="M398.1 517.1l-1.7 -0.9v1.8z" fill="#4a4a5c"/>
<text x="375.9" y="519.4" font-size="6.6" fill="#4a4a5c" font-style="italic" textLength="16.7" lengthAdjust="spacingAndGlyphs">TUBB1</text>
<rect x="385.7" y="520.1" width="2.3" height="1.6" fill="#24246e"/>
<path d="M299 527.3H302.4" stroke="#4a4a5c" stroke-width="0.7"/><path d="M297.8 527.3l1.7 -0.9v1.8z" fill="#4a4a5c"/>
<text x="303.3" y="529.6" font-size="6.6" fill="#4a4a5c" font-style="italic" textLength="26.4" lengthAdjust="spacingAndGlyphs">GNAS-AS1</text>
<line x1="305.5" y1="531.1" x2="319" y2="531.1" stroke="#24246e" stroke-width="0.5"/>
<rect x="313" y="530.3" width="6" height="1.6" fill="#24246e"/>
<path d="M381.1 527.3H384.5" stroke="#4a4a5c" stroke-width="0.7"/><path d="M379.9 527.3l1.7 -0.9v1.8z" fill="#4a4a5c"/>
<text x="385.4" y="529.6" font-size="6.6" fill="#4a4a5c" font-style="italic" textLength="16" lengthAdjust="spacingAndGlyphs">ATP5E</text>
<rect x="389.3" y="530.3" width="0.9" height="1.6" fill="#24246e"/>
<path d="M334.2 538H337.6" stroke="#4a4a5c" stroke-width="0.7"/><path d="M338.8 538l-1.7 -0.9v1.8z" fill="#4a4a5c"/>
<text x="318" y="540.3" font-size="6.6" fill="#4a4a5c" font-style="italic" textLength="15.3" lengthAdjust="spacingAndGlyphs">GNAS</text>
<line x1="313.6" y1="541.8" x2="343.2" y2="541.8" stroke="#24246e" stroke-width="0.5"/>
<rect x="313.6" y="541" width="2.4" height="1.6" fill="#24246e"/>
<rect x="319" y="541" width="2" height="1.6" fill="#24246e"/>
<rect x="333" y="541" width="10.2" height="1.6" fill="#24246e"/>
<path d="M373 538H376.4" stroke="#4a4a5c" stroke-width="0.7"/><path d="M371.8 538l1.7 -0.9v1.8z" fill="#4a4a5c"/>
<text x="377.3" y="540.3" font-size="6.6" fill="#4a4a5c" font-style="italic" textLength="35.6" lengthAdjust="spacingAndGlyphs">SLMO2-ATP5E</text>
<rect x="388.6" y="541" width="5.4" height="1.6" fill="#24246e"/>
<path d="M308.1 548.1H311.5" stroke="#4a4a5c" stroke-width="0.7"/><path d="M306.9 548.1l1.7 -0.9v1.8z" fill="#4a4a5c"/>
<text x="312.4" y="550.4" font-size="6.6" fill="#4a4a5c" font-style="italic" textLength="36.9" lengthAdjust="spacingAndGlyphs">LOC101927932</text>
<rect x="323" y="551.1" width="10.8" height="1.6" fill="#24246e"/>
<path d="M380.2 548.1H383.6" stroke="#4a4a5c" stroke-width="0.7"/><path d="M379 548.1l1.7 -0.9v1.8z" fill="#4a4a5c"/>
<text x="384.5" y="550.4" font-size="6.6" fill="#4a4a5c" font-style="italic" textLength="23" lengthAdjust="spacingAndGlyphs">PRELID3B</text>
<rect x="389.7" y="551.1" width="5" height="1.6" fill="#24246e"/>
</svg>
<div class="frame"></div>
</body></html>
